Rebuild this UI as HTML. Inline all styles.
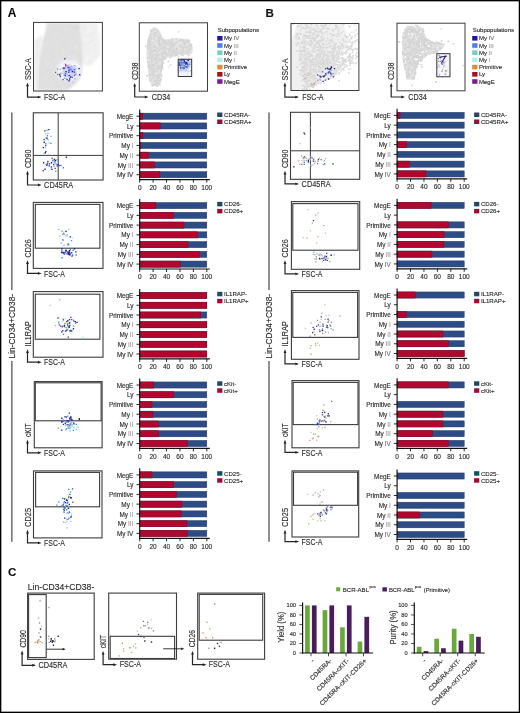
<!DOCTYPE html><html><head><meta charset="utf-8"><style>html,body{margin:0;padding:0;background:#fff}svg{display:block;will-change:transform;filter:blur(0.35px)}text{font-family:"Liberation Sans",sans-serif;stroke:#333;stroke-width:0.14px}</style></head><body>
<svg width="520" height="713" viewBox="0 0 520 713">
<rect x="0.00" y="0.00" width="520.00" height="713.00" fill="#fff"/>
<defs><filter id="bl3" x="-20%" y="-20%" width="140%" height="140%"><feGaussianBlur stdDeviation="0.3"/></filter><filter id="bl4" x="-20%" y="-20%" width="140%" height="140%"><feGaussianBlur stdDeviation="0.4"/></filter><filter id="bl5" x="-20%" y="-20%" width="140%" height="140%"><feGaussianBlur stdDeviation="0.5"/></filter><filter id="bl6" x="-20%" y="-20%" width="140%" height="140%"><feGaussianBlur stdDeviation="0.6"/></filter><filter id="bl7" x="-20%" y="-20%" width="140%" height="140%"><feGaussianBlur stdDeviation="0.7"/></filter><filter id="bl8" x="-20%" y="-20%" width="140%" height="140%"><feGaussianBlur stdDeviation="0.8"/></filter><filter id="bl9" x="-20%" y="-20%" width="140%" height="140%"><feGaussianBlur stdDeviation="0.9"/></filter><filter id="bl10" x="-20%" y="-20%" width="140%" height="140%"><feGaussianBlur stdDeviation="1.0"/></filter><filter id="bl11" x="-20%" y="-20%" width="140%" height="140%"><feGaussianBlur stdDeviation="1.1"/></filter><filter id="bl12" x="-20%" y="-20%" width="140%" height="140%"><feGaussianBlur stdDeviation="1.2"/></filter><filter id="bl13" x="-20%" y="-20%" width="140%" height="140%"><feGaussianBlur stdDeviation="1.3"/></filter><filter id="bl14" x="-20%" y="-20%" width="140%" height="140%"><feGaussianBlur stdDeviation="1.4"/></filter><filter id="bl15" x="-20%" y="-20%" width="140%" height="140%"><feGaussianBlur stdDeviation="1.5"/></filter><filter id="bl16" x="-20%" y="-20%" width="140%" height="140%"><feGaussianBlur stdDeviation="1.6"/></filter><filter id="bl17" x="-20%" y="-20%" width="140%" height="140%"><feGaussianBlur stdDeviation="1.7"/></filter><filter id="bl18" x="-20%" y="-20%" width="140%" height="140%"><feGaussianBlur stdDeviation="1.8"/></filter><filter id="bl19" x="-20%" y="-20%" width="140%" height="140%"><feGaussianBlur stdDeviation="1.9"/></filter><filter id="bl20" x="-20%" y="-20%" width="140%" height="140%"><feGaussianBlur stdDeviation="2.0"/></filter><filter id="bl21" x="-20%" y="-20%" width="140%" height="140%"><feGaussianBlur stdDeviation="2.1"/></filter><filter id="bl22" x="-20%" y="-20%" width="140%" height="140%"><feGaussianBlur stdDeviation="2.2"/></filter><filter id="bl23" x="-20%" y="-20%" width="140%" height="140%"><feGaussianBlur stdDeviation="2.3"/></filter><filter id="bl24" x="-20%" y="-20%" width="140%" height="140%"><feGaussianBlur stdDeviation="2.4"/></filter><filter id="bl25" x="-20%" y="-20%" width="140%" height="140%"><feGaussianBlur stdDeviation="2.5"/></filter><filter id="bl26" x="-20%" y="-20%" width="140%" height="140%"><feGaussianBlur stdDeviation="2.6"/></filter><filter id="bl27" x="-20%" y="-20%" width="140%" height="140%"><feGaussianBlur stdDeviation="2.7"/></filter><filter id="bl28" x="-20%" y="-20%" width="140%" height="140%"><feGaussianBlur stdDeviation="2.8"/></filter><filter id="bl29" x="-20%" y="-20%" width="140%" height="140%"><feGaussianBlur stdDeviation="2.9"/></filter><filter id="bl30" x="-20%" y="-20%" width="140%" height="140%"><feGaussianBlur stdDeviation="3.0"/></filter></defs>
<text x="7.70" y="17.00" font-size="12.0" fill="#111" font-weight="bold">A</text>
<text x="265.60" y="16.80" font-size="11.6" fill="#111" font-weight="bold">B</text>
<text x="7.90" y="576.00" font-size="11.6" fill="#111" font-weight="bold">C</text>
<g filter="url(#bl8)">
<polygon points="79.8,23.0 97.0,23.0 99.9,34.9 99.9,55.6 90.2,66.7 83.2,62.5" fill="#f0f0f0"/>
<path d="M80.5 27.4h1.3v1.3h-1.3zM91.3 52.3h1.3v1.3h-1.3zM95.3 55.1h1.3v1.3h-1.3zM86.0 32.6h1.3v1.3h-1.3zM86.5 60.2h1.3v1.3h-1.3zM89.8 29.7h1.3v1.3h-1.3zM97.2 58.4h1.3v1.3h-1.3zM87.5 56.2h1.3v1.3h-1.3zM90.3 29.7h1.3v1.3h-1.3zM86.6 62.3h1.3v1.3h-1.3zM95.5 59.4h1.3v1.3h-1.3zM82.7 48.3h1.3v1.3h-1.3zM96.4 24.3h1.3v1.3h-1.3zM87.3 23.5h1.3v1.3h-1.3zM84.4 32.4h1.3v1.3h-1.3zM86.9 54.5h1.3v1.3h-1.3zM89.6 34.0h1.3v1.3h-1.3zM84.7 51.2h1.3v1.3h-1.3zM87.9 65.2h1.3v1.3h-1.3zM96.5 30.9h1.3v1.3h-1.3zM85.1 60.9h1.3v1.3h-1.3zM88.6 30.3h1.3v1.3h-1.3zM94.7 40.7h1.3v1.3h-1.3zM95.1 34.4h1.3v1.3h-1.3zM96.9 38.6h1.3v1.3h-1.3zM88.5 38.0h1.3v1.3h-1.3zM82.8 52.3h1.3v1.3h-1.3zM91.8 44.8h1.3v1.3h-1.3zM83.1 56.1h1.3v1.3h-1.3zM86.6 32.1h1.3v1.3h-1.3zM88.9 28.6h1.3v1.3h-1.3zM82.2 37.4h1.3v1.3h-1.3zM86.6 57.8h1.3v1.3h-1.3zM86.6 60.3h1.3v1.3h-1.3zM91.9 31.5h1.3v1.3h-1.3zM81.6 30.5h1.3v1.3h-1.3zM80.7 29.8h1.3v1.3h-1.3zM86.5 40.7h1.3v1.3h-1.3zM90.9 60.8h1.3v1.3h-1.3zM97.6 33.4h1.3v1.3h-1.3zM84.4 38.8h1.3v1.3h-1.3zM87.0 39.7h1.3v1.3h-1.3zM88.9 36.1h1.3v1.3h-1.3zM93.0 25.7h1.3v1.3h-1.3zM86.5 31.8h1.3v1.3h-1.3zM88.2 45.3h1.3v1.3h-1.3zM85.7 59.0h1.3v1.3h-1.3zM91.7 58.5h1.3v1.3h-1.3zM84.9 37.1h1.3v1.3h-1.3zM86.9 46.3h1.3v1.3h-1.3z" fill="#fbfbfb"/>
<path d="M95.0 43.3h1.3v1.3h-1.3zM95.1 44.9h1.3v1.3h-1.3zM97.1 24.5h1.3v1.3h-1.3zM84.1 56.6h1.3v1.3h-1.3zM96.2 56.3h1.3v1.3h-1.3zM83.3 45.8h1.3v1.3h-1.3zM81.9 44.9h1.3v1.3h-1.3zM84.5 29.8h1.3v1.3h-1.3zM84.5 48.6h1.3v1.3h-1.3zM94.2 33.2h1.3v1.3h-1.3zM86.6 63.3h1.3v1.3h-1.3zM95.8 49.7h1.3v1.3h-1.3zM88.5 33.7h1.3v1.3h-1.3zM82.5 43.6h1.3v1.3h-1.3zM85.5 63.3h1.3v1.3h-1.3zM88.7 48.8h1.3v1.3h-1.3zM84.6 32.5h1.3v1.3h-1.3zM83.8 24.2h1.3v1.3h-1.3zM81.1 37.1h1.3v1.3h-1.3zM97.8 41.4h1.3v1.3h-1.3zM82.4 26.3h1.3v1.3h-1.3zM86.1 46.9h1.3v1.3h-1.3zM84.5 36.2h1.3v1.3h-1.3zM87.2 52.8h1.3v1.3h-1.3zM88.9 35.0h1.3v1.3h-1.3zM89.2 35.2h1.3v1.3h-1.3zM81.1 33.6h1.3v1.3h-1.3zM91.1 33.0h1.3v1.3h-1.3zM83.3 27.0h1.3v1.3h-1.3zM88.0 43.2h1.3v1.3h-1.3zM90.4 32.1h1.3v1.3h-1.3zM84.3 61.9h1.3v1.3h-1.3zM91.3 38.0h1.3v1.3h-1.3zM90.0 41.1h1.3v1.3h-1.3zM82.8 28.6h1.3v1.3h-1.3zM86.9 41.2h1.3v1.3h-1.3zM87.1 36.2h1.3v1.3h-1.3zM90.5 60.1h1.3v1.3h-1.3zM84.9 35.4h1.3v1.3h-1.3zM85.5 51.4h1.3v1.3h-1.3z" fill="#e2e2e2"/>
</g>
<g filter="url(#bl8)">
<polygon points="34.0,40.0 42.4,35.0 39.6,55.6 38.0,70.0 37.5,90.4 34.0,90.4" fill="#eeeeee"/>
<path d="M37.9 55.1h1.3v1.3h-1.3zM37.0 54.8h1.3v1.3h-1.3zM38.8 40.1h1.3v1.3h-1.3zM34.5 41.7h1.3v1.3h-1.3zM37.7 40.4h1.3v1.3h-1.3zM36.2 44.3h1.3v1.3h-1.3zM35.0 73.0h1.3v1.3h-1.3zM37.5 82.3h1.3v1.3h-1.3zM36.9 64.0h1.3v1.3h-1.3zM37.3 70.4h1.3v1.3h-1.3z" fill="#f8f8f8"/>
<path d="M37.9 55.1h1.3v1.3h-1.3zM37.0 54.8h1.3v1.3h-1.3zM38.8 40.1h1.3v1.3h-1.3zM34.5 41.7h1.3v1.3h-1.3zM37.7 40.4h1.3v1.3h-1.3zM36.2 44.3h1.3v1.3h-1.3zM35.0 73.0h1.3v1.3h-1.3zM37.5 82.3h1.3v1.3h-1.3zM36.9 64.0h1.3v1.3h-1.3zM37.3 70.4h1.3v1.3h-1.3z" fill="#e4e4e4"/>
</g>
<g filter="url(#bl8)">
<polygon points="46.5,22.8 79.8,22.8 81.2,34.9 82.6,48.7 83.2,62.5 81.2,76.4 76.3,83.3 69.4,88.9 67.0,90.4 37.5,90.4 37.5,83.3 38.2,69.5 39.6,55.6 42.4,41.8 45.9,29.3" fill="#e0e0e0"/>
<path d="M57.4 68.5h1.3v1.3h-1.3zM46.7 35.8h1.3v1.3h-1.3zM74.7 54.9h1.3v1.3h-1.3zM62.8 86.3h1.3v1.3h-1.3zM77.5 46.9h1.3v1.3h-1.3zM81.1 59.7h1.3v1.3h-1.3zM53.0 70.5h1.3v1.3h-1.3zM61.2 48.8h1.3v1.3h-1.3zM69.7 28.4h1.3v1.3h-1.3zM69.3 59.6h1.3v1.3h-1.3zM47.0 41.9h1.3v1.3h-1.3zM44.8 44.5h1.3v1.3h-1.3zM61.4 73.6h1.3v1.3h-1.3zM69.6 55.5h1.3v1.3h-1.3zM70.7 43.7h1.3v1.3h-1.3zM38.2 89.1h1.3v1.3h-1.3zM43.3 60.9h1.3v1.3h-1.3zM38.1 86.4h1.3v1.3h-1.3zM76.4 45.6h1.3v1.3h-1.3zM76.5 27.2h1.3v1.3h-1.3zM42.0 53.5h1.3v1.3h-1.3zM71.2 74.3h1.3v1.3h-1.3zM58.2 59.1h1.3v1.3h-1.3zM58.9 87.8h1.3v1.3h-1.3zM76.6 63.8h1.3v1.3h-1.3zM75.2 61.6h1.3v1.3h-1.3zM76.1 49.7h1.3v1.3h-1.3zM55.1 37.8h1.3v1.3h-1.3zM53.7 85.5h1.3v1.3h-1.3zM65.7 26.6h1.3v1.3h-1.3zM74.9 47.6h1.3v1.3h-1.3zM73.7 71.8h1.3v1.3h-1.3zM44.9 78.7h1.3v1.3h-1.3zM62.8 76.0h1.3v1.3h-1.3zM59.1 62.6h1.3v1.3h-1.3zM68.5 57.7h1.3v1.3h-1.3zM52.2 71.8h1.3v1.3h-1.3zM60.5 23.6h1.3v1.3h-1.3zM55.3 60.0h1.3v1.3h-1.3zM47.1 62.8h1.3v1.3h-1.3zM68.6 56.4h1.3v1.3h-1.3zM72.4 78.8h1.3v1.3h-1.3zM65.5 29.4h1.3v1.3h-1.3zM45.0 63.8h1.3v1.3h-1.3zM81.4 66.9h1.3v1.3h-1.3zM52.3 44.5h1.3v1.3h-1.3zM55.4 40.7h1.3v1.3h-1.3zM51.0 81.9h1.3v1.3h-1.3zM62.1 53.5h1.3v1.3h-1.3zM80.4 60.1h1.3v1.3h-1.3zM77.2 62.4h1.3v1.3h-1.3zM55.9 50.4h1.3v1.3h-1.3zM44.3 76.8h1.3v1.3h-1.3zM55.2 32.8h1.3v1.3h-1.3zM77.3 22.8h1.3v1.3h-1.3zM38.9 78.0h1.3v1.3h-1.3zM55.7 73.4h1.3v1.3h-1.3zM61.0 64.3h1.3v1.3h-1.3zM49.1 88.1h1.3v1.3h-1.3zM59.5 84.6h1.3v1.3h-1.3zM51.1 89.3h1.3v1.3h-1.3zM52.4 82.6h1.3v1.3h-1.3zM71.0 87.1h1.3v1.3h-1.3zM65.8 60.3h1.3v1.3h-1.3zM48.4 62.9h1.3v1.3h-1.3zM58.7 81.8h1.3v1.3h-1.3zM62.2 56.0h1.3v1.3h-1.3zM66.8 47.2h1.3v1.3h-1.3zM63.9 68.4h1.3v1.3h-1.3zM58.0 65.4h1.3v1.3h-1.3zM63.9 77.9h1.3v1.3h-1.3zM74.5 46.3h1.3v1.3h-1.3zM46.5 64.0h1.3v1.3h-1.3zM41.9 81.5h1.3v1.3h-1.3zM55.4 55.7h1.3v1.3h-1.3zM74.5 23.2h1.3v1.3h-1.3zM70.7 48.1h1.3v1.3h-1.3zM73.3 74.6h1.3v1.3h-1.3zM44.2 60.4h1.3v1.3h-1.3zM50.8 66.3h1.3v1.3h-1.3zM60.0 60.4h1.3v1.3h-1.3zM73.1 26.3h1.3v1.3h-1.3zM70.4 78.4h1.3v1.3h-1.3zM72.6 56.7h1.3v1.3h-1.3zM57.9 83.4h1.3v1.3h-1.3zM62.5 51.9h1.3v1.3h-1.3zM80.9 66.1h1.3v1.3h-1.3zM77.8 64.9h1.3v1.3h-1.3zM52.6 38.5h1.3v1.3h-1.3zM65.1 31.9h1.3v1.3h-1.3z" fill="#eaeaea"/>
<path d="M58.4 85.7h1.3v1.3h-1.3zM57.1 63.7h1.3v1.3h-1.3zM53.9 30.5h1.3v1.3h-1.3zM71.2 71.5h1.3v1.3h-1.3zM37.8 85.2h1.3v1.3h-1.3zM59.1 85.2h1.3v1.3h-1.3zM76.8 74.5h1.3v1.3h-1.3zM44.5 37.7h1.3v1.3h-1.3zM39.9 73.1h1.3v1.3h-1.3zM52.8 38.5h1.3v1.3h-1.3zM55.2 74.4h1.3v1.3h-1.3zM81.0 55.0h1.3v1.3h-1.3zM51.1 55.0h1.3v1.3h-1.3zM78.3 61.7h1.3v1.3h-1.3zM67.1 83.8h1.3v1.3h-1.3zM79.0 25.6h1.3v1.3h-1.3zM60.9 54.5h1.3v1.3h-1.3zM65.7 56.6h1.3v1.3h-1.3zM45.4 40.0h1.3v1.3h-1.3zM60.9 44.8h1.3v1.3h-1.3zM76.1 79.6h1.3v1.3h-1.3zM52.8 89.3h1.3v1.3h-1.3zM66.1 45.3h1.3v1.3h-1.3zM65.5 65.2h1.3v1.3h-1.3zM61.5 32.1h1.3v1.3h-1.3zM49.6 38.3h1.3v1.3h-1.3zM63.3 68.6h1.3v1.3h-1.3zM46.7 33.2h1.3v1.3h-1.3zM53.2 54.9h1.3v1.3h-1.3zM52.7 57.2h1.3v1.3h-1.3zM67.8 60.9h1.3v1.3h-1.3zM56.9 83.1h1.3v1.3h-1.3zM55.7 72.2h1.3v1.3h-1.3zM71.3 63.1h1.3v1.3h-1.3zM79.7 59.6h1.3v1.3h-1.3zM53.3 48.3h1.3v1.3h-1.3zM59.3 86.0h1.3v1.3h-1.3zM73.0 25.5h1.3v1.3h-1.3zM69.9 58.8h1.3v1.3h-1.3zM68.9 78.7h1.3v1.3h-1.3zM72.1 59.9h1.3v1.3h-1.3zM74.9 27.2h1.3v1.3h-1.3zM69.0 59.4h1.3v1.3h-1.3zM49.9 50.2h1.3v1.3h-1.3zM67.1 57.4h1.3v1.3h-1.3zM42.5 53.5h1.3v1.3h-1.3zM42.8 63.1h1.3v1.3h-1.3zM67.1 86.5h1.3v1.3h-1.3zM81.4 53.2h1.3v1.3h-1.3zM76.3 54.1h1.3v1.3h-1.3zM56.6 71.7h1.3v1.3h-1.3zM70.5 60.1h1.3v1.3h-1.3zM45.0 79.7h1.3v1.3h-1.3zM56.9 37.7h1.3v1.3h-1.3zM71.1 31.0h1.3v1.3h-1.3zM72.8 50.7h1.3v1.3h-1.3zM47.4 69.8h1.3v1.3h-1.3zM71.9 31.1h1.3v1.3h-1.3zM76.8 28.0h1.3v1.3h-1.3zM61.5 71.3h1.3v1.3h-1.3zM60.3 78.9h1.3v1.3h-1.3zM58.1 79.5h1.3v1.3h-1.3zM68.9 84.3h1.3v1.3h-1.3zM58.4 67.9h1.3v1.3h-1.3zM59.0 86.3h1.3v1.3h-1.3zM51.2 52.7h1.3v1.3h-1.3zM50.8 89.6h1.3v1.3h-1.3zM53.5 23.3h1.3v1.3h-1.3zM46.3 50.0h1.3v1.3h-1.3zM81.2 57.0h1.3v1.3h-1.3z" fill="#d6d6d6"/>
</g>
<rect x="33.50" y="22.40" width="68.90" height="68.60" fill="none" stroke="#3c3c3c" stroke-width="1.0"/>
<g filter="url(#bl15)">
<polygon points="57.0,66.0 64.0,60.0 76.0,60.0 81.0,67.0 79.0,77.0 69.0,81.0 58.0,78.0" fill="#f2f2fa"/>
</g>
<g filter="url(#bl6)">
<polygon points="62.0,68.0 68.0,64.0 76.0,66.0 77.0,74.0 70.0,78.0 63.0,76.0" fill="#d0d4f4"/>
</g>
<path d="M69.5 74.8h1.35v1.35h-1.35zM70.8 71.4h1.35v1.35h-1.35zM71.2 70.6h1.35v1.35h-1.35zM75.0 68.1h1.35v1.35h-1.35zM70.9 70.9h1.35v1.35h-1.35zM70.8 68.0h1.35v1.35h-1.35zM71.4 66.9h1.35v1.35h-1.35zM59.7 68.8h1.35v1.35h-1.35zM66.5 73.7h1.35v1.35h-1.35zM72.5 81.7h1.35v1.35h-1.35zM73.9 65.1h1.35v1.35h-1.35zM70.7 71.4h1.35v1.35h-1.35zM65.1 77.4h1.35v1.35h-1.35zM70.6 70.0h1.35v1.35h-1.35z" fill="#b0b8f0"/>
<path d="M67.5 66.8h1.35v1.35h-1.35zM68.4 80.1h1.35v1.35h-1.35zM69.0 78.3h1.35v1.35h-1.35zM69.8 76.5h1.35v1.35h-1.35zM65.4 71.1h1.35v1.35h-1.35zM66.4 79.0h1.35v1.35h-1.35zM73.7 71.4h1.35v1.35h-1.35z" fill="#2020a0"/>
<path d="M75.1 74.1h1.35v1.35h-1.35zM66.2 78.0h1.35v1.35h-1.35zM63.8 77.4h1.35v1.35h-1.35zM74.3 78.2h1.35v1.35h-1.35zM63.8 74.6h1.35v1.35h-1.35zM70.4 66.0h1.35v1.35h-1.35zM69.0 67.3h1.35v1.35h-1.35zM68.6 70.9h1.35v1.35h-1.35zM64.8 72.0h1.35v1.35h-1.35z" fill="#a0a8f0"/>
<path d="M71.8 70.8h1.35v1.35h-1.35zM78.4 68.0h1.35v1.35h-1.35zM62.7 67.5h1.35v1.35h-1.35z" fill="#1a1a80"/>
<path d="M68.0 71.6h1.35v1.35h-1.35zM59.7 75.8h1.35v1.35h-1.35zM64.7 73.2h1.35v1.35h-1.35zM63.9 67.6h1.35v1.35h-1.35zM62.4 79.0h1.35v1.35h-1.35zM73.6 69.0h1.35v1.35h-1.35z" fill="#4050d0"/>
<path d="M79.0 74.1h1.35v1.35h-1.35zM64.6 75.0h1.35v1.35h-1.35zM68.3 69.6h1.35v1.35h-1.35zM71.5 76.7h1.35v1.35h-1.35zM68.5 74.9h1.35v1.35h-1.35zM58.8 73.7h1.35v1.35h-1.35z" fill="#3030b0"/>
<path d="M69.8 68.8h1.35v1.35h-1.35zM75.3 73.7h1.35v1.35h-1.35zM71.0 69.1h1.35v1.35h-1.35z" fill="#8090e8"/>
<path d="M68.6 66.9h1.35v1.35h-1.35zM73.8 74.8h1.35v1.35h-1.35zM70.2 75.9h1.35v1.35h-1.35zM69.4 68.5h1.35v1.35h-1.35z" fill="#6070e0"/>
<path d="M64.8 63.4h1.2v1.2h-1.2zM66.2 65.2h1.2v1.2h-1.2zM66.6 65.3h1.2v1.2h-1.2z" fill="#c080b0"/>
<path d="M65.1 64.1h1.2v1.2h-1.2zM65.0 65.2h1.2v1.2h-1.2z" fill="#a04080"/>
<path d="M59.6 74.9h1.2v1.2h-1.2z" fill="#808080"/>
<path d="M55.0 71.7h1.2v1.2h-1.2zM57.1 68.4h1.2v1.2h-1.2z" fill="#606060"/>
<path d="M60.2 73.3h1.2v1.2h-1.2zM60.5 72.6h1.2v1.2h-1.2z" fill="#90a090"/>
<path d="M57.1 74.1h1.2v1.2h-1.2zM59.5 74.9h1.2v1.2h-1.2z" fill="#708070"/>
<path d="M64.1 58.1h1.4v1.4h-1.4z" fill="#505060"/>
<path d="M27.50 85.60 V97.10 H38.50" fill="none" stroke="#262626" stroke-width="1.2"/>
<path d="M27.50 82.60 L26.05 86.30 L28.95 86.30 Z" fill="#262626"/>
<path d="M41.50 97.10 L37.80 95.65 L37.80 98.55 Z" fill="#262626"/>
<text x="44.00" y="99.60" font-size="9.9" fill="#2a2a2a" textLength="21.2" lengthAdjust="spacingAndGlyphs">FSC-A</text>
<text x="30.80" y="80.10" font-size="9.9" fill="#2a2a2a" textLength="21.9" lengthAdjust="spacingAndGlyphs" transform="rotate(-90 30.80 80.10)">SSC-A</text>
<g filter="url(#bl6)">
<polygon points="153.2,26.9 157.4,28.3 161.5,36.6 165.7,39.4 174.0,38.0 183.7,38.7 190.0,39.4 191.3,45.0 191.3,51.9 187.9,54.6 178.2,54.6 169.9,56.7 165.7,57.4 163.0,61.5 161.5,72.6 160.2,85.0 151.2,85.0 149.0,79.6 147.7,68.5 146.3,54.6 147.0,40.8 150.5,31.0" fill="#e4e4e4"/>
<path d="M161.9 50.3h1.6v1.6h-1.6zM160.7 65.2h1.6v1.6h-1.6zM149.9 43.4h1.6v1.6h-1.6zM153.5 29.2h1.6v1.6h-1.6zM156.1 56.2h1.6v1.6h-1.6zM153.2 46.6h1.6v1.6h-1.6zM165.9 42.0h1.6v1.6h-1.6zM149.1 66.2h1.6v1.6h-1.6zM157.6 54.6h1.6v1.6h-1.6zM160.8 76.3h1.6v1.6h-1.6zM182.5 39.2h1.6v1.6h-1.6zM174.3 48.2h1.6v1.6h-1.6zM146.1 75.1h1.6v1.6h-1.6zM170.7 42.1h1.6v1.6h-1.6zM156.0 75.5h1.6v1.6h-1.6zM157.6 65.8h1.6v1.6h-1.6zM149.8 38.6h1.6v1.6h-1.6zM147.9 38.7h1.6v1.6h-1.6zM154.0 33.8h1.6v1.6h-1.6zM190.4 43.8h1.6v1.6h-1.6zM172.3 52.0h1.6v1.6h-1.6zM171.8 49.8h1.6v1.6h-1.6zM162.1 55.9h1.6v1.6h-1.6zM167.1 40.0h1.6v1.6h-1.6zM153.1 33.9h1.6v1.6h-1.6zM151.6 64.8h1.6v1.6h-1.6zM165.2 41.8h1.6v1.6h-1.6zM155.8 30.4h1.6v1.6h-1.6zM164.2 43.0h1.6v1.6h-1.6zM154.2 67.6h1.6v1.6h-1.6zM150.9 65.1h1.6v1.6h-1.6zM188.2 40.4h1.6v1.6h-1.6zM152.8 44.9h1.6v1.6h-1.6zM149.5 51.9h1.6v1.6h-1.6zM150.2 71.3h1.6v1.6h-1.6zM166.4 53.4h1.6v1.6h-1.6zM155.3 82.7h1.6v1.6h-1.6zM162.4 46.2h1.6v1.6h-1.6zM157.1 83.6h1.6v1.6h-1.6zM161.3 62.4h1.6v1.6h-1.6zM159.8 62.4h1.6v1.6h-1.6zM151.3 52.3h1.6v1.6h-1.6zM183.7 50.3h1.6v1.6h-1.6zM174.9 54.9h1.6v1.6h-1.6zM157.3 65.1h1.6v1.6h-1.6zM187.8 54.6h1.6v1.6h-1.6zM158.8 64.0h1.6v1.6h-1.6zM156.5 80.1h1.6v1.6h-1.6zM157.2 73.2h1.6v1.6h-1.6zM148.8 57.4h1.6v1.6h-1.6zM166.9 39.5h1.6v1.6h-1.6zM160.5 57.8h1.6v1.6h-1.6zM170.5 43.6h1.6v1.6h-1.6zM149.5 43.4h1.6v1.6h-1.6zM161.1 38.8h1.6v1.6h-1.6zM167.1 42.0h1.6v1.6h-1.6zM190.6 44.9h1.6v1.6h-1.6zM156.0 51.9h1.6v1.6h-1.6zM149.4 68.9h1.6v1.6h-1.6zM159.4 57.8h1.6v1.6h-1.6zM181.2 54.4h1.6v1.6h-1.6zM161.2 55.1h1.6v1.6h-1.6zM173.1 51.3h1.6v1.6h-1.6zM153.3 77.3h1.6v1.6h-1.6zM156.9 69.2h1.6v1.6h-1.6zM181.3 39.6h1.6v1.6h-1.6zM157.6 64.1h1.6v1.6h-1.6zM154.8 56.4h1.6v1.6h-1.6zM156.6 30.3h1.6v1.6h-1.6zM150.5 64.6h1.6v1.6h-1.6zM155.0 81.9h1.6v1.6h-1.6zM158.5 40.5h1.6v1.6h-1.6zM160.6 35.6h1.6v1.6h-1.6zM161.1 57.0h1.6v1.6h-1.6zM151.6 74.4h1.6v1.6h-1.6zM149.3 67.8h1.6v1.6h-1.6zM162.9 40.3h1.6v1.6h-1.6zM175.8 43.5h1.6v1.6h-1.6zM153.0 71.7h1.6v1.6h-1.6zM156.2 75.4h1.6v1.6h-1.6zM149.1 55.2h1.6v1.6h-1.6zM175.3 54.3h1.6v1.6h-1.6zM181.0 53.3h1.6v1.6h-1.6zM152.6 66.8h1.6v1.6h-1.6zM163.1 51.7h1.6v1.6h-1.6zM153.3 33.2h1.6v1.6h-1.6zM158.1 74.1h1.6v1.6h-1.6zM161.6 66.5h1.6v1.6h-1.6zM168.2 53.5h1.6v1.6h-1.6zM151.6 62.6h1.6v1.6h-1.6zM153.8 66.8h1.6v1.6h-1.6zM189.5 48.0h1.6v1.6h-1.6zM151.4 85.0h1.6v1.6h-1.6zM160.6 36.5h1.6v1.6h-1.6zM160.1 46.4h1.6v1.6h-1.6zM149.5 57.2h1.6v1.6h-1.6zM188.0 40.2h1.6v1.6h-1.6zM178.8 40.0h1.6v1.6h-1.6zM157.1 80.7h1.6v1.6h-1.6zM156.6 82.3h1.6v1.6h-1.6zM153.1 53.9h1.6v1.6h-1.6zM149.3 34.3h1.6v1.6h-1.6zM148.5 40.6h1.6v1.6h-1.6zM180.9 44.8h1.6v1.6h-1.6zM150.8 65.7h1.6v1.6h-1.6zM167.5 60.6h1.6v1.6h-1.6zM150.9 77.0h1.6v1.6h-1.6zM155.0 82.3h1.6v1.6h-1.6zM158.2 80.8h1.6v1.6h-1.6zM153.5 49.9h1.6v1.6h-1.6zM189.8 52.6h1.6v1.6h-1.6zM177.1 47.9h1.6v1.6h-1.6zM173.8 49.5h1.6v1.6h-1.6zM158.9 77.4h1.6v1.6h-1.6zM163.6 52.4h1.6v1.6h-1.6zM164.3 39.8h1.6v1.6h-1.6zM171.7 47.5h1.6v1.6h-1.6zM157.0 69.1h1.6v1.6h-1.6zM148.5 73.9h1.6v1.6h-1.6zM152.5 38.0h1.6v1.6h-1.6zM184.7 47.9h1.6v1.6h-1.6zM151.0 46.3h1.6v1.6h-1.6zM160.1 65.6h1.6v1.6h-1.6zM180.3 51.3h1.6v1.6h-1.6zM153.6 74.2h1.6v1.6h-1.6zM176.0 47.9h1.6v1.6h-1.6zM150.5 32.6h1.6v1.6h-1.6zM158.0 61.2h1.6v1.6h-1.6zM184.5 40.6h1.6v1.6h-1.6zM153.8 64.9h1.6v1.6h-1.6zM160.1 78.7h1.6v1.6h-1.6zM159.8 36.9h1.6v1.6h-1.6zM152.9 62.5h1.6v1.6h-1.6zM175.9 49.0h1.6v1.6h-1.6zM168.9 52.4h1.6v1.6h-1.6zM162.6 58.9h1.6v1.6h-1.6zM159.0 34.2h1.6v1.6h-1.6zM165.5 54.7h1.6v1.6h-1.6zM162.4 56.1h1.6v1.6h-1.6zM155.3 75.1h1.6v1.6h-1.6zM161.7 57.5h1.6v1.6h-1.6zM162.3 46.5h1.6v1.6h-1.6zM170.0 56.4h1.6v1.6h-1.6zM164.6 42.6h1.6v1.6h-1.6zM162.8 39.7h1.6v1.6h-1.6zM169.8 53.7h1.6v1.6h-1.6zM170.4 47.0h1.6v1.6h-1.6zM157.5 39.8h1.6v1.6h-1.6zM161.1 52.8h1.6v1.6h-1.6zM168.0 49.4h1.6v1.6h-1.6zM173.8 54.3h1.6v1.6h-1.6zM152.8 29.3h1.6v1.6h-1.6zM146.6 56.8h1.6v1.6h-1.6zM149.8 48.1h1.6v1.6h-1.6zM157.5 36.1h1.6v1.6h-1.6zM150.9 40.9h1.6v1.6h-1.6zM162.1 47.1h1.6v1.6h-1.6zM183.7 61.9h1.6v1.6h-1.6zM177.6 48.2h1.6v1.6h-1.6zM155.7 70.1h1.6v1.6h-1.6zM176.2 52.3h1.6v1.6h-1.6zM152.1 76.3h1.6v1.6h-1.6zM186.0 49.9h1.6v1.6h-1.6zM160.9 68.3h1.6v1.6h-1.6zM148.7 36.7h1.6v1.6h-1.6zM160.3 73.4h1.6v1.6h-1.6zM183.9 53.4h1.6v1.6h-1.6zM171.2 51.5h1.6v1.6h-1.6zM158.7 39.4h1.6v1.6h-1.6zM161.5 65.3h1.6v1.6h-1.6zM153.4 58.3h1.6v1.6h-1.6zM170.4 40.3h1.6v1.6h-1.6zM157.2 79.8h1.6v1.6h-1.6zM186.7 45.8h1.6v1.6h-1.6zM152.3 84.1h1.6v1.6h-1.6zM184.0 42.1h1.6v1.6h-1.6zM158.4 68.1h1.6v1.6h-1.6zM160.8 74.4h1.6v1.6h-1.6zM149.7 74.8h1.6v1.6h-1.6zM162.0 61.2h1.6v1.6h-1.6zM182.3 40.8h1.6v1.6h-1.6zM154.8 84.9h1.6v1.6h-1.6zM156.2 47.2h1.6v1.6h-1.6zM153.1 52.5h1.6v1.6h-1.6zM163.2 50.7h1.6v1.6h-1.6zM179.9 39.5h1.6v1.6h-1.6zM179.6 46.2h1.6v1.6h-1.6zM159.5 44.9h1.6v1.6h-1.6zM178.9 40.1h1.6v1.6h-1.6zM191.1 46.9h1.6v1.6h-1.6zM187.7 48.1h1.6v1.6h-1.6zM150.8 59.5h1.6v1.6h-1.6zM149.5 49.1h1.6v1.6h-1.6zM158.2 41.3h1.6v1.6h-1.6zM183.9 43.1h1.6v1.6h-1.6zM173.8 38.6h1.6v1.6h-1.6zM170.9 54.9h1.6v1.6h-1.6zM183.1 46.9h1.6v1.6h-1.6zM156.1 83.8h1.6v1.6h-1.6zM154.0 82.4h1.6v1.6h-1.6zM150.9 78.5h1.6v1.6h-1.6zM147.7 61.3h1.6v1.6h-1.6zM154.6 63.0h1.6v1.6h-1.6zM175.6 39.2h1.6v1.6h-1.6zM169.6 49.5h1.6v1.6h-1.6zM161.0 63.7h1.6v1.6h-1.6zM152.2 63.2h1.6v1.6h-1.6zM162.8 46.8h1.6v1.6h-1.6zM155.6 58.7h1.6v1.6h-1.6zM152.3 70.7h1.6v1.6h-1.6zM151.0 54.7h1.6v1.6h-1.6zM161.8 62.2h1.6v1.6h-1.6zM158.5 49.6h1.6v1.6h-1.6zM159.6 44.3h1.6v1.6h-1.6zM168.0 48.5h1.6v1.6h-1.6zM153.8 66.7h1.6v1.6h-1.6zM158.7 47.2h1.6v1.6h-1.6zM155.9 62.2h1.6v1.6h-1.6zM184.8 47.3h1.6v1.6h-1.6zM156.6 67.4h1.6v1.6h-1.6zM159.4 33.5h1.6v1.6h-1.6zM186.9 52.0h1.6v1.6h-1.6zM150.3 74.2h1.6v1.6h-1.6zM160.3 74.0h1.6v1.6h-1.6zM156.4 56.1h1.6v1.6h-1.6zM158.8 53.4h1.6v1.6h-1.6zM170.8 42.3h1.6v1.6h-1.6zM182.4 39.1h1.6v1.6h-1.6zM152.5 76.8h1.6v1.6h-1.6zM148.3 44.3h1.6v1.6h-1.6zM172.8 44.7h1.6v1.6h-1.6zM164.5 55.3h1.6v1.6h-1.6zM154.0 37.7h1.6v1.6h-1.6zM171.5 51.6h1.6v1.6h-1.6zM184.8 47.1h1.6v1.6h-1.6zM173.7 42.4h1.6v1.6h-1.6zM156.0 38.7h1.6v1.6h-1.6zM151.2 32.5h1.6v1.6h-1.6zM150.2 30.9h1.6v1.6h-1.6zM156.7 36.9h1.6v1.6h-1.6zM153.6 50.6h1.6v1.6h-1.6zM158.4 47.7h1.6v1.6h-1.6zM186.0 41.6h1.6v1.6h-1.6zM156.5 62.9h1.6v1.6h-1.6zM151.4 73.1h1.6v1.6h-1.6zM186.9 47.0h1.6v1.6h-1.6zM157.3 70.8h1.6v1.6h-1.6z" fill="#d0d0d0"/>
<path d="M184.7 51.3h1.6v1.6h-1.6zM162.8 61.6h1.6v1.6h-1.6zM150.6 71.8h1.6v1.6h-1.6zM151.7 58.1h1.6v1.6h-1.6zM155.1 37.6h1.6v1.6h-1.6zM169.3 39.5h1.6v1.6h-1.6zM150.8 57.8h1.6v1.6h-1.6zM155.4 81.2h1.6v1.6h-1.6zM162.6 41.5h1.6v1.6h-1.6zM181.5 46.7h1.6v1.6h-1.6zM158.8 45.6h1.6v1.6h-1.6zM181.0 54.6h1.6v1.6h-1.6zM155.5 49.4h1.6v1.6h-1.6zM183.0 50.5h1.6v1.6h-1.6zM155.3 56.2h1.6v1.6h-1.6zM165.9 52.4h1.6v1.6h-1.6zM187.4 48.2h1.6v1.6h-1.6zM166.1 40.7h1.6v1.6h-1.6zM168.6 45.0h1.6v1.6h-1.6zM174.2 48.0h1.6v1.6h-1.6zM170.9 44.0h1.6v1.6h-1.6zM182.0 47.6h1.6v1.6h-1.6zM177.9 43.6h1.6v1.6h-1.6zM157.0 82.3h1.6v1.6h-1.6zM164.2 43.7h1.6v1.6h-1.6zM151.7 56.2h1.6v1.6h-1.6zM159.9 36.1h1.6v1.6h-1.6zM165.9 50.4h1.6v1.6h-1.6zM156.6 80.7h1.6v1.6h-1.6zM176.6 38.5h1.6v1.6h-1.6zM187.0 42.7h1.6v1.6h-1.6zM188.7 46.0h1.6v1.6h-1.6zM162.5 62.9h1.6v1.6h-1.6zM163.7 39.0h1.6v1.6h-1.6zM177.7 47.8h1.6v1.6h-1.6zM154.1 75.4h1.6v1.6h-1.6zM170.0 41.5h1.6v1.6h-1.6zM165.6 48.5h1.6v1.6h-1.6zM174.1 38.1h1.6v1.6h-1.6zM166.3 41.0h1.6v1.6h-1.6zM155.6 28.2h1.6v1.6h-1.6zM168.5 55.8h1.6v1.6h-1.6zM177.0 43.4h1.6v1.6h-1.6zM149.1 78.7h1.6v1.6h-1.6zM161.5 57.1h1.6v1.6h-1.6zM184.2 51.8h1.6v1.6h-1.6zM159.6 66.7h1.6v1.6h-1.6zM158.7 60.9h1.6v1.6h-1.6zM154.2 35.4h1.6v1.6h-1.6zM147.9 53.9h1.6v1.6h-1.6zM169.9 43.1h1.6v1.6h-1.6zM181.6 45.2h1.6v1.6h-1.6zM149.3 71.8h1.6v1.6h-1.6zM177.1 44.4h1.6v1.6h-1.6zM162.3 58.9h1.6v1.6h-1.6zM176.5 50.3h1.6v1.6h-1.6zM156.3 37.8h1.6v1.6h-1.6zM152.3 39.4h1.6v1.6h-1.6zM176.9 40.3h1.6v1.6h-1.6zM163.4 49.9h1.6v1.6h-1.6zM162.0 68.4h1.6v1.6h-1.6zM147.6 39.3h1.6v1.6h-1.6zM191.1 51.3h1.6v1.6h-1.6zM153.4 74.9h1.6v1.6h-1.6zM151.9 59.1h1.6v1.6h-1.6zM152.7 29.0h1.6v1.6h-1.6zM155.5 54.9h1.6v1.6h-1.6zM157.7 43.5h1.6v1.6h-1.6zM162.0 47.1h1.6v1.6h-1.6zM155.4 52.8h1.6v1.6h-1.6zM160.9 76.6h1.6v1.6h-1.6zM154.2 64.0h1.6v1.6h-1.6zM167.0 50.5h1.6v1.6h-1.6zM175.1 43.2h1.6v1.6h-1.6zM185.2 40.1h1.6v1.6h-1.6zM186.2 48.1h1.6v1.6h-1.6zM162.8 58.9h1.6v1.6h-1.6zM149.6 69.2h1.6v1.6h-1.6zM175.8 39.4h1.6v1.6h-1.6zM155.4 62.6h1.6v1.6h-1.6zM156.3 73.0h1.6v1.6h-1.6zM164.7 51.5h1.6v1.6h-1.6zM148.6 60.5h1.6v1.6h-1.6zM157.5 64.8h1.6v1.6h-1.6zM150.9 78.6h1.6v1.6h-1.6zM150.3 32.4h1.6v1.6h-1.6zM161.7 39.1h1.6v1.6h-1.6zM181.1 40.9h1.6v1.6h-1.6zM152.6 66.6h1.6v1.6h-1.6zM163.7 54.3h1.6v1.6h-1.6zM180.1 50.0h1.6v1.6h-1.6zM177.2 50.4h1.6v1.6h-1.6zM188.8 45.4h1.6v1.6h-1.6zM146.8 45.4h1.6v1.6h-1.6zM165.6 52.0h1.6v1.6h-1.6zM173.3 53.9h1.6v1.6h-1.6zM153.1 77.5h1.6v1.6h-1.6zM169.3 46.3h1.6v1.6h-1.6zM158.5 63.2h1.6v1.6h-1.6zM159.3 82.2h1.6v1.6h-1.6zM156.9 70.8h1.6v1.6h-1.6zM161.5 47.8h1.6v1.6h-1.6zM167.0 56.4h1.6v1.6h-1.6zM169.3 53.5h1.6v1.6h-1.6zM158.5 61.2h1.6v1.6h-1.6zM162.8 59.6h1.6v1.6h-1.6zM175.7 41.6h1.6v1.6h-1.6zM185.8 48.6h1.6v1.6h-1.6zM154.9 46.2h1.6v1.6h-1.6zM150.4 34.0h1.6v1.6h-1.6zM153.2 32.8h1.6v1.6h-1.6zM178.9 46.7h1.6v1.6h-1.6zM159.6 60.4h1.6v1.6h-1.6zM157.7 33.2h1.6v1.6h-1.6zM151.0 40.7h1.6v1.6h-1.6zM171.3 39.3h1.6v1.6h-1.6zM158.9 50.7h1.6v1.6h-1.6zM165.2 53.4h1.6v1.6h-1.6zM153.9 52.1h1.6v1.6h-1.6zM178.5 41.2h1.6v1.6h-1.6zM152.3 62.5h1.6v1.6h-1.6zM184.0 48.8h1.6v1.6h-1.6zM158.9 69.2h1.6v1.6h-1.6zM154.5 58.4h1.6v1.6h-1.6zM154.2 59.9h1.6v1.6h-1.6zM169.8 51.1h1.6v1.6h-1.6zM159.2 47.4h1.6v1.6h-1.6zM160.5 78.9h1.6v1.6h-1.6zM189.2 42.5h1.6v1.6h-1.6zM167.1 39.4h1.6v1.6h-1.6zM152.0 74.9h1.6v1.6h-1.6zM161.4 40.9h1.6v1.6h-1.6zM181.5 39.2h1.6v1.6h-1.6zM183.3 53.3h1.6v1.6h-1.6zM156.1 52.2h1.6v1.6h-1.6zM152.0 36.4h1.6v1.6h-1.6zM147.0 55.0h1.6v1.6h-1.6zM174.2 49.5h1.6v1.6h-1.6zM153.5 33.5h1.6v1.6h-1.6zM180.3 54.1h1.6v1.6h-1.6zM158.3 51.0h1.6v1.6h-1.6zM148.6 71.4h1.6v1.6h-1.6zM156.9 83.2h1.6v1.6h-1.6zM147.9 55.3h1.6v1.6h-1.6zM162.5 56.3h1.6v1.6h-1.6zM150.4 76.1h1.6v1.6h-1.6zM153.6 59.2h1.6v1.6h-1.6zM159.2 56.6h1.6v1.6h-1.6zM161.7 51.3h1.6v1.6h-1.6zM155.8 40.0h1.6v1.6h-1.6zM181.8 42.2h1.6v1.6h-1.6zM184.9 53.5h1.6v1.6h-1.6zM180.8 70.7h1.6v1.6h-1.6zM158.2 71.5h1.6v1.6h-1.6zM150.2 70.6h1.6v1.6h-1.6zM154.2 52.2h1.6v1.6h-1.6zM168.2 41.4h1.6v1.6h-1.6zM149.0 72.0h1.6v1.6h-1.6zM157.7 67.7h1.6v1.6h-1.6zM157.6 34.3h1.6v1.6h-1.6zM163.9 54.2h1.6v1.6h-1.6zM153.0 33.2h1.6v1.6h-1.6zM153.7 42.2h1.6v1.6h-1.6zM176.8 38.7h1.6v1.6h-1.6zM160.2 76.4h1.6v1.6h-1.6zM156.5 48.5h1.6v1.6h-1.6zM191.0 51.1h1.6v1.6h-1.6zM163.5 50.5h1.6v1.6h-1.6zM156.7 69.3h1.6v1.6h-1.6zM156.2 81.1h1.6v1.6h-1.6zM149.4 76.2h1.6v1.6h-1.6zM160.9 56.9h1.6v1.6h-1.6zM158.7 70.1h1.6v1.6h-1.6zM190.8 50.5h1.6v1.6h-1.6zM150.2 41.4h1.6v1.6h-1.6zM162.3 55.3h1.6v1.6h-1.6zM152.2 80.0h1.6v1.6h-1.6zM152.3 82.7h1.6v1.6h-1.6zM156.8 83.0h1.6v1.6h-1.6zM150.7 35.7h1.6v1.6h-1.6zM155.2 66.5h1.6v1.6h-1.6zM156.9 62.4h1.6v1.6h-1.6zM155.6 32.4h1.6v1.6h-1.6zM150.8 74.4h1.6v1.6h-1.6zM153.3 56.3h1.6v1.6h-1.6zM154.8 55.3h1.6v1.6h-1.6zM174.5 40.6h1.6v1.6h-1.6zM154.5 55.8h1.6v1.6h-1.6zM152.1 76.4h1.6v1.6h-1.6zM173.8 40.2h1.6v1.6h-1.6zM168.6 46.9h1.6v1.6h-1.6zM156.9 35.0h1.6v1.6h-1.6zM157.6 61.6h1.6v1.6h-1.6zM170.4 47.4h1.6v1.6h-1.6zM183.9 47.8h1.6v1.6h-1.6zM159.0 80.8h1.6v1.6h-1.6zM150.3 62.0h1.6v1.6h-1.6zM161.0 36.1h1.6v1.6h-1.6zM153.5 82.8h1.6v1.6h-1.6zM146.6 52.9h1.6v1.6h-1.6zM159.7 62.3h1.6v1.6h-1.6zM151.1 76.6h1.6v1.6h-1.6zM188.8 51.6h1.6v1.6h-1.6zM180.4 47.4h1.6v1.6h-1.6zM154.2 59.5h1.6v1.6h-1.6zM154.6 57.3h1.6v1.6h-1.6zM167.9 66.2h1.6v1.6h-1.6zM151.2 37.8h1.6v1.6h-1.6zM150.4 34.7h1.6v1.6h-1.6zM161.7 48.3h1.6v1.6h-1.6zM155.5 69.6h1.6v1.6h-1.6zM162.6 43.9h1.6v1.6h-1.6zM156.4 31.7h1.6v1.6h-1.6zM160.6 37.8h1.6v1.6h-1.6zM165.5 43.2h1.6v1.6h-1.6zM157.5 53.2h1.6v1.6h-1.6zM155.0 31.0h1.6v1.6h-1.6zM170.5 48.8h1.6v1.6h-1.6zM178.6 50.2h1.6v1.6h-1.6zM150.5 40.1h1.6v1.6h-1.6zM155.2 37.8h1.6v1.6h-1.6zM151.2 53.3h1.6v1.6h-1.6zM149.4 38.2h1.6v1.6h-1.6zM153.8 56.9h1.6v1.6h-1.6zM180.5 39.6h1.6v1.6h-1.6zM159.9 38.8h1.6v1.6h-1.6zM170.1 47.7h1.6v1.6h-1.6zM146.6 50.3h1.6v1.6h-1.6zM156.5 68.9h1.6v1.6h-1.6z" fill="#e8e8e8"/>
<path d="M162.9 41.3h1.6v1.6h-1.6zM151.0 49.6h1.6v1.6h-1.6zM169.7 52.1h1.6v1.6h-1.6zM150.4 57.6h1.6v1.6h-1.6zM174.8 49.3h1.6v1.6h-1.6zM187.2 53.4h1.6v1.6h-1.6zM171.3 45.9h1.6v1.6h-1.6zM152.5 59.2h1.6v1.6h-1.6zM161.5 44.7h1.6v1.6h-1.6zM165.8 44.4h1.6v1.6h-1.6zM162.6 42.9h1.6v1.6h-1.6zM155.8 67.8h1.6v1.6h-1.6zM149.7 71.4h1.6v1.6h-1.6zM147.6 51.8h1.6v1.6h-1.6zM157.2 32.4h1.6v1.6h-1.6zM151.0 47.7h1.6v1.6h-1.6zM176.2 53.6h1.6v1.6h-1.6zM151.2 55.3h1.6v1.6h-1.6zM154.4 83.2h1.6v1.6h-1.6zM169.3 51.6h1.6v1.6h-1.6zM169.5 53.1h1.6v1.6h-1.6zM181.6 40.0h1.6v1.6h-1.6zM186.7 48.4h1.6v1.6h-1.6zM170.7 51.2h1.6v1.6h-1.6zM166.0 54.8h1.6v1.6h-1.6zM182.3 42.3h1.6v1.6h-1.6zM148.3 63.0h1.6v1.6h-1.6zM187.1 48.6h1.6v1.6h-1.6zM185.9 51.2h1.6v1.6h-1.6zM159.7 48.0h1.6v1.6h-1.6zM156.7 30.5h1.6v1.6h-1.6zM150.2 53.5h1.6v1.6h-1.6zM179.0 45.2h1.6v1.6h-1.6zM159.4 77.9h1.6v1.6h-1.6zM154.6 45.8h1.6v1.6h-1.6zM154.5 75.7h1.6v1.6h-1.6zM162.6 46.0h1.6v1.6h-1.6zM186.2 47.8h1.6v1.6h-1.6zM161.3 61.1h1.6v1.6h-1.6zM153.5 28.0h1.6v1.6h-1.6zM150.8 38.7h1.6v1.6h-1.6zM188.1 39.8h1.6v1.6h-1.6zM184.9 42.0h1.6v1.6h-1.6zM152.5 77.9h1.6v1.6h-1.6zM173.6 52.1h1.6v1.6h-1.6zM187.7 51.1h1.6v1.6h-1.6zM149.3 48.9h1.6v1.6h-1.6zM149.4 49.8h1.6v1.6h-1.6zM158.8 33.5h1.6v1.6h-1.6zM169.3 47.7h1.6v1.6h-1.6zM169.9 46.0h1.6v1.6h-1.6zM154.4 57.1h1.6v1.6h-1.6zM150.8 37.4h1.6v1.6h-1.6zM175.7 53.1h1.6v1.6h-1.6zM174.1 49.0h1.6v1.6h-1.6zM148.8 77.2h1.6v1.6h-1.6zM158.2 76.3h1.6v1.6h-1.6zM148.9 51.7h1.6v1.6h-1.6zM175.4 50.1h1.6v1.6h-1.6zM158.4 65.8h1.6v1.6h-1.6zM181.9 51.1h1.6v1.6h-1.6zM149.3 42.7h1.6v1.6h-1.6zM152.3 74.1h1.6v1.6h-1.6zM158.3 60.3h1.6v1.6h-1.6zM179.9 50.2h1.6v1.6h-1.6zM150.4 35.0h1.6v1.6h-1.6zM184.7 52.2h1.6v1.6h-1.6zM154.3 31.9h1.6v1.6h-1.6zM171.6 38.7h1.6v1.6h-1.6zM158.3 77.6h1.6v1.6h-1.6zM179.9 49.9h1.6v1.6h-1.6zM152.2 56.4h1.6v1.6h-1.6zM148.8 46.1h1.6v1.6h-1.6zM169.8 56.2h1.6v1.6h-1.6zM157.7 74.6h1.6v1.6h-1.6zM163.2 47.2h1.6v1.6h-1.6zM157.1 54.9h1.6v1.6h-1.6zM154.2 49.1h1.6v1.6h-1.6zM152.5 46.0h1.6v1.6h-1.6zM149.5 44.6h1.6v1.6h-1.6zM150.9 71.4h1.6v1.6h-1.6zM163.7 43.1h1.6v1.6h-1.6zM155.4 64.9h1.6v1.6h-1.6zM149.7 57.6h1.6v1.6h-1.6zM161.3 63.7h1.6v1.6h-1.6zM149.4 65.3h1.6v1.6h-1.6zM151.6 77.7h1.6v1.6h-1.6zM159.6 35.0h1.6v1.6h-1.6zM149.8 51.8h1.6v1.6h-1.6zM168.9 56.9h1.6v1.6h-1.6zM151.8 46.1h1.6v1.6h-1.6zM149.4 72.9h1.6v1.6h-1.6zM163.8 46.8h1.6v1.6h-1.6zM164.2 48.7h1.6v1.6h-1.6zM191.2 49.2h1.6v1.6h-1.6zM147.5 65.5h1.6v1.6h-1.6zM155.4 82.4h1.6v1.6h-1.6zM163.1 46.4h1.6v1.6h-1.6zM150.0 32.7h1.6v1.6h-1.6zM155.7 65.6h1.6v1.6h-1.6zM151.1 42.6h1.6v1.6h-1.6zM179.3 51.2h1.6v1.6h-1.6zM159.8 65.6h1.6v1.6h-1.6zM159.6 58.7h1.6v1.6h-1.6zM147.1 44.5h1.6v1.6h-1.6zM168.2 40.4h1.6v1.6h-1.6zM177.6 55.7h1.6v1.6h-1.6zM164.3 50.7h1.6v1.6h-1.6zM154.6 75.2h1.6v1.6h-1.6zM159.7 80.7h1.6v1.6h-1.6zM160.1 53.1h1.6v1.6h-1.6zM150.0 64.5h1.6v1.6h-1.6zM163.9 52.9h1.6v1.6h-1.6zM161.0 51.8h1.6v1.6h-1.6zM159.0 60.0h1.6v1.6h-1.6zM149.1 70.2h1.6v1.6h-1.6zM177.1 48.8h1.6v1.6h-1.6zM160.3 35.2h1.6v1.6h-1.6zM163.0 42.0h1.6v1.6h-1.6zM189.3 51.9h1.6v1.6h-1.6zM159.9 67.4h1.6v1.6h-1.6zM188.2 39.2h1.6v1.6h-1.6zM151.6 30.3h1.6v1.6h-1.6zM158.4 59.4h1.6v1.6h-1.6zM166.2 53.6h1.6v1.6h-1.6zM152.5 69.4h1.6v1.6h-1.6zM152.8 35.5h1.6v1.6h-1.6zM180.0 49.6h1.6v1.6h-1.6zM172.0 53.4h1.6v1.6h-1.6zM188.9 43.6h1.6v1.6h-1.6zM158.1 58.1h1.6v1.6h-1.6zM180.8 54.1h1.6v1.6h-1.6zM157.4 50.1h1.6v1.6h-1.6zM147.8 48.2h1.6v1.6h-1.6zM159.7 71.8h1.6v1.6h-1.6zM148.1 53.1h1.6v1.6h-1.6zM149.4 80.0h1.6v1.6h-1.6zM179.5 51.0h1.6v1.6h-1.6zM190.7 43.7h1.6v1.6h-1.6zM155.2 50.9h1.6v1.6h-1.6zM153.2 44.4h1.6v1.6h-1.6zM182.5 54.2h1.6v1.6h-1.6zM149.9 29.1h1.6v1.6h-1.6zM159.2 42.9h1.6v1.6h-1.6zM150.3 38.7h1.6v1.6h-1.6zM157.0 34.5h1.6v1.6h-1.6zM151.0 60.2h1.6v1.6h-1.6zM164.0 50.0h1.6v1.6h-1.6zM151.0 48.6h1.6v1.6h-1.6zM180.5 53.3h1.6v1.6h-1.6zM148.8 37.0h1.6v1.6h-1.6zM156.4 62.6h1.6v1.6h-1.6zM164.6 58.2h1.6v1.6h-1.6zM149.2 74.0h1.6v1.6h-1.6zM148.7 67.0h1.6v1.6h-1.6zM147.5 47.4h1.6v1.6h-1.6zM150.6 56.0h1.6v1.6h-1.6zM175.0 41.7h1.6v1.6h-1.6zM187.0 50.6h1.6v1.6h-1.6zM168.8 48.7h1.6v1.6h-1.6zM161.3 68.2h1.6v1.6h-1.6zM163.2 48.8h1.6v1.6h-1.6zM156.1 58.9h1.6v1.6h-1.6zM156.1 52.8h1.6v1.6h-1.6zM150.3 34.5h1.6v1.6h-1.6zM186.4 53.3h1.6v1.6h-1.6zM147.4 42.5h1.6v1.6h-1.6zM165.6 55.5h1.6v1.6h-1.6zM172.7 46.5h1.6v1.6h-1.6zM156.6 30.4h1.6v1.6h-1.6zM157.8 36.3h1.6v1.6h-1.6zM158.2 83.5h1.6v1.6h-1.6zM177.8 31.0h1.6v1.6h-1.6zM182.5 43.2h1.6v1.6h-1.6zM166.6 48.1h1.6v1.6h-1.6zM167.3 54.9h1.6v1.6h-1.6zM160.9 46.8h1.6v1.6h-1.6zM188.0 49.6h1.6v1.6h-1.6zM182.9 43.2h1.6v1.6h-1.6zM160.5 74.0h1.6v1.6h-1.6zM149.3 48.5h1.6v1.6h-1.6zM155.5 64.7h1.6v1.6h-1.6zM162.9 58.7h1.6v1.6h-1.6zM152.5 55.8h1.6v1.6h-1.6zM173.6 48.6h1.6v1.6h-1.6zM156.5 65.8h1.6v1.6h-1.6zM151.4 68.0h1.6v1.6h-1.6zM163.3 46.5h1.6v1.6h-1.6zM153.2 45.8h1.6v1.6h-1.6zM171.6 39.5h1.6v1.6h-1.6zM172.0 50.4h1.6v1.6h-1.6zM187.4 46.8h1.6v1.6h-1.6zM155.7 81.1h1.6v1.6h-1.6zM165.2 50.9h1.6v1.6h-1.6zM164.2 49.4h1.6v1.6h-1.6zM149.9 75.9h1.6v1.6h-1.6zM168.9 48.4h1.6v1.6h-1.6zM157.8 69.3h1.6v1.6h-1.6zM187.1 40.4h1.6v1.6h-1.6zM183.7 50.2h1.6v1.6h-1.6zM182.0 48.4h1.6v1.6h-1.6zM159.4 84.4h1.6v1.6h-1.6zM149.8 69.7h1.6v1.6h-1.6zM161.2 46.0h1.6v1.6h-1.6zM188.8 43.0h1.6v1.6h-1.6zM157.3 53.3h1.6v1.6h-1.6zM179.9 49.2h1.6v1.6h-1.6zM150.6 33.5h1.6v1.6h-1.6zM172.7 55.4h1.6v1.6h-1.6zM161.7 57.9h1.6v1.6h-1.6zM167.5 41.3h1.6v1.6h-1.6zM153.9 63.9h1.6v1.6h-1.6zM159.3 57.0h1.6v1.6h-1.6zM159.8 50.2h1.6v1.6h-1.6zM179.8 51.1h1.6v1.6h-1.6zM189.0 44.5h1.6v1.6h-1.6zM188.6 48.1h1.6v1.6h-1.6zM170.3 43.4h1.6v1.6h-1.6zM150.8 60.5h1.6v1.6h-1.6zM153.3 67.1h1.6v1.6h-1.6zM155.7 51.1h1.6v1.6h-1.6zM179.0 52.9h1.6v1.6h-1.6zM150.8 79.3h1.6v1.6h-1.6zM155.5 55.0h1.6v1.6h-1.6zM157.1 71.0h1.6v1.6h-1.6zM157.0 56.3h1.6v1.6h-1.6z" fill="#dadada"/>
<path d="M160.2 78.9h1.6v1.6h-1.6zM160.1 38.2h1.6v1.6h-1.6zM158.4 43.6h1.6v1.6h-1.6zM157.4 47.5h1.6v1.6h-1.6zM156.9 39.1h1.6v1.6h-1.6zM182.9 48.5h1.6v1.6h-1.6zM177.7 69.8h1.6v1.6h-1.6zM158.2 37.4h1.6v1.6h-1.6zM147.9 64.9h1.6v1.6h-1.6zM166.1 42.9h1.6v1.6h-1.6zM154.2 46.1h1.6v1.6h-1.6zM170.7 45.3h1.6v1.6h-1.6zM156.8 29.6h1.6v1.6h-1.6zM161.4 42.8h1.6v1.6h-1.6zM156.0 35.5h1.6v1.6h-1.6zM173.6 52.7h1.6v1.6h-1.6zM162.3 62.4h1.6v1.6h-1.6zM156.5 82.1h1.6v1.6h-1.6zM152.6 77.3h1.6v1.6h-1.6zM160.4 70.4h1.6v1.6h-1.6zM178.9 39.7h1.6v1.6h-1.6zM162.9 56.0h1.6v1.6h-1.6zM157.1 64.6h1.6v1.6h-1.6zM151.5 55.5h1.6v1.6h-1.6zM171.1 49.5h1.6v1.6h-1.6zM155.2 40.5h1.6v1.6h-1.6zM179.4 68.8h1.6v1.6h-1.6zM155.8 31.9h1.6v1.6h-1.6zM165.9 53.8h1.6v1.6h-1.6zM180.3 38.6h1.6v1.6h-1.6zM154.4 57.1h1.6v1.6h-1.6zM182.8 46.0h1.6v1.6h-1.6zM155.5 57.8h1.6v1.6h-1.6zM152.3 67.9h1.6v1.6h-1.6zM189.9 44.0h1.6v1.6h-1.6zM181.6 39.8h1.6v1.6h-1.6zM155.1 53.7h1.6v1.6h-1.6zM158.8 36.8h1.6v1.6h-1.6zM175.1 53.0h1.6v1.6h-1.6zM165.2 52.4h1.6v1.6h-1.6zM176.6 41.6h1.6v1.6h-1.6zM152.6 68.1h1.6v1.6h-1.6zM148.2 42.3h1.6v1.6h-1.6zM161.9 52.4h1.6v1.6h-1.6zM167.6 49.1h1.6v1.6h-1.6zM155.4 62.1h1.6v1.6h-1.6zM170.3 47.0h1.6v1.6h-1.6zM179.6 46.0h1.6v1.6h-1.6zM151.8 57.6h1.6v1.6h-1.6zM151.1 73.9h1.6v1.6h-1.6zM152.9 81.2h1.6v1.6h-1.6zM161.6 60.2h1.6v1.6h-1.6zM162.1 54.6h1.6v1.6h-1.6zM169.0 45.2h1.6v1.6h-1.6zM154.6 79.5h1.6v1.6h-1.6zM148.9 63.9h1.6v1.6h-1.6zM156.0 54.1h1.6v1.6h-1.6zM182.5 49.6h1.6v1.6h-1.6zM154.6 60.0h1.6v1.6h-1.6zM160.2 66.2h1.6v1.6h-1.6zM160.5 65.8h1.6v1.6h-1.6zM150.9 61.3h1.6v1.6h-1.6zM150.5 50.3h1.6v1.6h-1.6zM156.8 61.9h1.6v1.6h-1.6zM157.7 74.7h1.6v1.6h-1.6zM188.5 45.2h1.6v1.6h-1.6zM148.0 64.5h1.6v1.6h-1.6zM157.2 67.0h1.6v1.6h-1.6zM163.0 46.9h1.6v1.6h-1.6zM164.1 42.1h1.6v1.6h-1.6zM171.2 46.5h1.6v1.6h-1.6zM156.9 85.5h1.6v1.6h-1.6zM171.5 43.7h1.6v1.6h-1.6zM153.6 80.0h1.6v1.6h-1.6zM163.6 47.2h1.6v1.6h-1.6zM173.1 49.6h1.6v1.6h-1.6zM161.5 39.0h1.6v1.6h-1.6zM148.5 64.0h1.6v1.6h-1.6zM154.2 46.1h1.6v1.6h-1.6zM149.3 73.6h1.6v1.6h-1.6zM173.9 44.1h1.6v1.6h-1.6zM157.6 75.7h1.6v1.6h-1.6zM175.7 38.6h1.6v1.6h-1.6zM149.3 37.2h1.6v1.6h-1.6zM160.2 69.0h1.6v1.6h-1.6zM169.9 55.0h1.6v1.6h-1.6zM161.0 55.8h1.6v1.6h-1.6zM167.3 40.0h1.6v1.6h-1.6zM159.0 45.3h1.6v1.6h-1.6zM156.9 77.5h1.6v1.6h-1.6zM175.6 41.6h1.6v1.6h-1.6zM158.5 82.7h1.6v1.6h-1.6zM147.2 43.1h1.6v1.6h-1.6zM176.4 54.2h1.6v1.6h-1.6zM150.1 36.5h1.6v1.6h-1.6zM174.1 51.6h1.6v1.6h-1.6zM161.6 62.4h1.6v1.6h-1.6zM171.4 38.6h1.6v1.6h-1.6zM169.3 40.8h1.6v1.6h-1.6zM153.3 84.1h1.6v1.6h-1.6zM181.2 47.1h1.6v1.6h-1.6zM163.6 56.8h1.6v1.6h-1.6zM168.5 47.8h1.6v1.6h-1.6zM169.8 63.9h1.6v1.6h-1.6zM147.1 46.0h1.6v1.6h-1.6zM153.0 42.1h1.6v1.6h-1.6zM149.7 79.4h1.6v1.6h-1.6zM154.4 28.5h1.6v1.6h-1.6zM156.9 42.3h1.6v1.6h-1.6zM149.3 79.5h1.6v1.6h-1.6zM186.5 40.1h1.6v1.6h-1.6zM148.6 46.7h1.6v1.6h-1.6zM160.2 70.0h1.6v1.6h-1.6zM172.0 45.0h1.6v1.6h-1.6zM154.8 70.1h1.6v1.6h-1.6zM182.9 51.6h1.6v1.6h-1.6zM181.0 51.9h1.6v1.6h-1.6zM158.6 80.0h1.6v1.6h-1.6zM156.6 54.9h1.6v1.6h-1.6zM180.0 66.8h1.6v1.6h-1.6zM147.4 61.5h1.6v1.6h-1.6zM153.8 33.9h1.6v1.6h-1.6zM158.3 49.2h1.6v1.6h-1.6zM156.9 76.0h1.6v1.6h-1.6zM168.4 43.8h1.6v1.6h-1.6zM155.2 46.9h1.6v1.6h-1.6zM153.9 45.6h1.6v1.6h-1.6zM153.1 32.7h1.6v1.6h-1.6zM157.2 68.6h1.6v1.6h-1.6zM161.8 40.7h1.6v1.6h-1.6zM149.1 52.4h1.6v1.6h-1.6zM177.3 50.4h1.6v1.6h-1.6zM155.8 78.2h1.6v1.6h-1.6zM164.6 47.1h1.6v1.6h-1.6zM150.4 57.9h1.6v1.6h-1.6zM183.1 43.0h1.6v1.6h-1.6zM147.4 45.1h1.6v1.6h-1.6zM148.1 65.7h1.6v1.6h-1.6zM157.4 64.8h1.6v1.6h-1.6zM149.0 75.1h1.6v1.6h-1.6zM158.8 31.2h1.6v1.6h-1.6zM158.1 44.4h1.6v1.6h-1.6zM150.7 68.1h1.6v1.6h-1.6zM150.5 43.7h1.6v1.6h-1.6zM148.6 55.4h1.6v1.6h-1.6zM159.3 36.7h1.6v1.6h-1.6zM156.7 52.3h1.6v1.6h-1.6zM152.2 74.9h1.6v1.6h-1.6zM158.6 66.8h1.6v1.6h-1.6zM170.3 43.1h1.6v1.6h-1.6zM154.2 32.7h1.6v1.6h-1.6zM180.1 44.2h1.6v1.6h-1.6zM164.6 41.8h1.6v1.6h-1.6zM190.0 45.6h1.6v1.6h-1.6zM147.7 40.2h1.6v1.6h-1.6zM163.3 52.6h1.6v1.6h-1.6zM152.6 69.3h1.6v1.6h-1.6zM170.8 41.3h1.6v1.6h-1.6zM178.1 52.7h1.6v1.6h-1.6zM155.4 82.4h1.6v1.6h-1.6zM164.4 44.5h1.6v1.6h-1.6zM145.1 45.6h1.6v1.6h-1.6zM148.9 61.7h1.6v1.6h-1.6zM189.6 49.7h1.6v1.6h-1.6zM178.4 40.1h1.6v1.6h-1.6zM153.6 58.7h1.6v1.6h-1.6zM182.9 40.7h1.6v1.6h-1.6zM185.4 39.3h1.6v1.6h-1.6zM184.1 44.3h1.6v1.6h-1.6zM165.0 57.6h1.6v1.6h-1.6zM152.4 49.5h1.6v1.6h-1.6zM147.4 48.1h1.6v1.6h-1.6zM147.9 66.1h1.6v1.6h-1.6zM152.6 75.3h1.6v1.6h-1.6zM153.4 35.4h1.6v1.6h-1.6zM152.4 64.0h1.6v1.6h-1.6zM150.0 40.7h1.6v1.6h-1.6zM187.2 41.6h1.6v1.6h-1.6zM164.5 50.7h1.6v1.6h-1.6zM161.0 47.9h1.6v1.6h-1.6zM155.4 49.4h1.6v1.6h-1.6zM161.4 63.3h1.6v1.6h-1.6zM158.3 36.9h1.6v1.6h-1.6zM160.7 67.4h1.6v1.6h-1.6zM148.6 54.9h1.6v1.6h-1.6zM162.7 39.4h1.6v1.6h-1.6zM178.1 52.4h1.6v1.6h-1.6zM160.7 58.7h1.6v1.6h-1.6zM153.0 49.8h1.6v1.6h-1.6zM155.0 56.5h1.6v1.6h-1.6zM148.0 38.6h1.6v1.6h-1.6zM178.9 45.0h1.6v1.6h-1.6zM159.7 58.2h1.6v1.6h-1.6zM158.2 43.3h1.6v1.6h-1.6zM168.3 50.6h1.6v1.6h-1.6zM178.6 39.7h1.6v1.6h-1.6zM152.0 28.9h1.6v1.6h-1.6zM161.6 55.4h1.6v1.6h-1.6z" fill="#d4d4d4"/>
</g>
<rect x="139.30" y="22.80" width="68.20" height="68.40" fill="none" stroke="#3c3c3c" stroke-width="1.0"/>
<rect x="178.20" y="59.20" width="13.50" height="17.30" fill="#f2f6fb"/>
<g filter="url(#bl8)">
<polygon points="178.5,59.5 191.0,59.5 191.0,64.0 186.0,70.0 180.0,72.0 178.5,70.0" fill="#b8c4ec"/>
</g>
<path d="M178.7 62.3h1.4v1.4h-1.4zM180.7 63.7h1.4v1.4h-1.4zM180.4 61.2h1.4v1.4h-1.4zM184.0 60.9h1.4v1.4h-1.4zM178.6 64.3h1.4v1.4h-1.4zM186.1 64.2h1.4v1.4h-1.4zM180.0 67.2h1.4v1.4h-1.4zM184.5 62.1h1.4v1.4h-1.4zM183.6 61.3h1.4v1.4h-1.4zM182.0 59.4h1.4v1.4h-1.4zM179.7 61.2h1.4v1.4h-1.4zM182.7 61.5h1.4v1.4h-1.4zM179.8 64.9h1.4v1.4h-1.4z" fill="#2a30a0"/>
<path d="M180.4 59.6h1.4v1.4h-1.4zM183.3 67.3h1.4v1.4h-1.4zM185.8 61.9h1.4v1.4h-1.4zM183.3 59.6h1.4v1.4h-1.4zM185.0 65.6h1.4v1.4h-1.4zM184.6 64.9h1.4v1.4h-1.4zM180.7 61.9h1.4v1.4h-1.4zM184.0 63.2h1.4v1.4h-1.4zM185.7 64.7h1.4v1.4h-1.4zM186.3 62.8h1.4v1.4h-1.4zM183.4 64.2h1.4v1.4h-1.4zM187.5 59.6h1.4v1.4h-1.4zM186.8 64.0h1.4v1.4h-1.4zM179.5 59.9h1.4v1.4h-1.4zM185.7 66.2h1.4v1.4h-1.4zM184.2 63.5h1.4v1.4h-1.4zM185.5 63.7h1.4v1.4h-1.4zM181.6 62.6h1.4v1.4h-1.4z" fill="#1c1c80"/>
<path d="M182.6 60.1h1.4v1.4h-1.4zM186.9 66.8h1.4v1.4h-1.4zM181.2 60.5h1.4v1.4h-1.4zM182.6 59.9h1.4v1.4h-1.4zM181.5 63.0h1.4v1.4h-1.4zM180.4 63.5h1.4v1.4h-1.4zM185.6 65.1h1.4v1.4h-1.4zM182.6 62.4h1.4v1.4h-1.4z" fill="#4058c8"/>
<path d="M183.6 66.1h1.4v1.4h-1.4zM179.7 61.6h1.4v1.4h-1.4zM181.2 62.9h1.4v1.4h-1.4zM180.4 60.7h1.4v1.4h-1.4zM180.8 60.9h1.4v1.4h-1.4zM180.1 64.2h1.4v1.4h-1.4zM181.5 62.5h1.4v1.4h-1.4zM183.3 62.7h1.4v1.4h-1.4z" fill="#8098e0"/>
<path d="M182.5 63.5h1.4v1.4h-1.4zM179.2 59.9h1.4v1.4h-1.4zM188.6 65.9h1.4v1.4h-1.4zM184.8 65.0h1.4v1.4h-1.4zM181.7 60.3h1.4v1.4h-1.4zM182.2 60.8h1.4v1.4h-1.4zM181.9 61.3h1.4v1.4h-1.4zM181.3 64.1h1.4v1.4h-1.4zM186.2 64.5h1.4v1.4h-1.4z" fill="#a0b8f0"/>
<path d="M183.7 62.8h1.4v1.4h-1.4zM186.9 65.2h1.4v1.4h-1.4zM188.8 63.7h1.4v1.4h-1.4zM181.2 64.4h1.4v1.4h-1.4zM184.8 65.7h1.4v1.4h-1.4zM181.4 61.7h1.4v1.4h-1.4zM181.9 67.1h1.4v1.4h-1.4z" fill="#6080d8"/>
<path d="M185.0 69.9h1.2v1.2h-1.2zM185.8 64.7h1.2v1.2h-1.2zM184.5 69.4h1.2v1.2h-1.2zM186.2 73.4h1.2v1.2h-1.2zM187.7 71.4h1.2v1.2h-1.2zM187.6 67.2h1.2v1.2h-1.2z" fill="#c0d8f0"/>
<path d="M187.4 70.5h1.2v1.2h-1.2zM185.7 69.6h1.2v1.2h-1.2zM189.8 70.1h1.2v1.2h-1.2z" fill="#a0b8f0"/>
<path d="M184.1 64.1h1.2v1.2h-1.2zM184.7 70.8h1.2v1.2h-1.2zM188.0 70.7h1.2v1.2h-1.2zM187.9 67.0h1.2v1.2h-1.2z" fill="#b0e0e8"/>
<rect x="178.20" y="59.20" width="13.50" height="17.30" fill="none" stroke="#222" stroke-width="0.9"/>
<path d="M134.70 85.90 V97.00 H145.50" fill="none" stroke="#262626" stroke-width="1.2"/>
<path d="M134.70 82.90 L133.25 86.60 L136.15 86.60 Z" fill="#262626"/>
<path d="M148.50 97.00 L144.80 95.55 L144.80 98.45 Z" fill="#262626"/>
<text x="151.80" y="99.50" font-size="9.9" fill="#2a2a2a" textLength="18.5" lengthAdjust="spacingAndGlyphs">CD34</text>
<text x="137.70" y="79.80" font-size="9.9" fill="#2a2a2a" textLength="17.4" lengthAdjust="spacingAndGlyphs" transform="rotate(-90 137.70 79.80)">CD38</text>
<text x="217.80" y="32.10" font-size="6.0" fill="#2a2a2a" textLength="41.2" lengthAdjust="spacingAndGlyphs">Subpopulations</text>
<rect x="217.20" y="36.00" width="5.30" height="4.60" fill="#1c1c8c"/>
<text x="224.00" y="40.40" font-size="6.0" fill="#2a2a2a" text-anchor="start">My <tspan fill="#747474" stroke="#747474">IV</tspan></text>
<rect x="217.20" y="43.20" width="5.30" height="4.60" fill="#4d7fe6"/>
<text x="224.00" y="47.60" font-size="6.0" fill="#2a2a2a" text-anchor="start">My <tspan fill="#a29ea0" stroke="#a29ea0">III</tspan></text>
<rect x="217.20" y="50.40" width="5.30" height="4.60" fill="#7ccbbf"/>
<text x="224.00" y="54.80" font-size="6.0" fill="#2a2a2a" text-anchor="start">My <tspan fill="#a0a4a2" stroke="#a0a4a2">II</tspan></text>
<rect x="217.20" y="57.60" width="5.30" height="4.60" fill="#b2efe9"/>
<text x="224.00" y="62.00" font-size="6.0" fill="#2a2a2a" text-anchor="start">My <tspan fill="#a2a2a2" stroke="#a2a2a2">I</tspan></text>
<rect x="217.20" y="64.80" width="5.30" height="4.60" fill="#e0893a"/>
<text x="224.00" y="69.20" font-size="6.0" fill="#2a2a2a">Primitive</text>
<rect x="217.20" y="72.00" width="5.30" height="4.60" fill="#a0141a"/>
<text x="224.00" y="76.40" font-size="6.0" fill="#2a2a2a">Ly</text>
<rect x="217.20" y="79.20" width="5.30" height="4.60" fill="#7b1d8c"/>
<text x="224.00" y="83.60" font-size="6.0" fill="#2a2a2a">MegE</text>
<g filter="url(#bl7)">
<polygon points="297.0,24.0 343.0,24.0 350.0,40.0 330.0,75.0 306.0,90.0 291.5,90.0 291.5,40.0" fill="#f0f0f0"/>
<path d="M316.7 25.2h1.5v1.5h-1.5zM333.8 62.5h1.5v1.5h-1.5zM326.6 69.8h1.5v1.5h-1.5zM333.9 66.9h1.5v1.5h-1.5zM312.7 58.6h1.5v1.5h-1.5zM324.5 67.3h1.5v1.5h-1.5zM317.4 28.2h1.5v1.5h-1.5zM349.1 46.1h1.5v1.5h-1.5zM328.6 59.1h1.5v1.5h-1.5zM303.5 34.9h1.5v1.5h-1.5zM301.7 54.2h1.5v1.5h-1.5zM336.6 53.9h1.5v1.5h-1.5zM317.6 40.7h1.5v1.5h-1.5zM319.3 60.0h1.5v1.5h-1.5zM319.9 48.9h1.5v1.5h-1.5zM301.5 62.5h1.5v1.5h-1.5zM333.2 44.7h1.5v1.5h-1.5zM331.9 64.6h1.5v1.5h-1.5zM319.2 44.7h1.5v1.5h-1.5zM317.2 46.4h1.5v1.5h-1.5zM310.4 44.9h1.5v1.5h-1.5zM329.1 65.4h1.5v1.5h-1.5zM304.4 59.0h1.5v1.5h-1.5zM331.4 34.3h1.5v1.5h-1.5zM341.9 57.0h1.5v1.5h-1.5zM311.9 42.6h1.5v1.5h-1.5zM313.0 64.7h1.5v1.5h-1.5zM335.2 63.5h1.5v1.5h-1.5zM347.9 59.3h1.5v1.5h-1.5zM320.0 59.0h1.5v1.5h-1.5zM316.1 79.3h1.5v1.5h-1.5zM298.0 36.9h1.5v1.5h-1.5zM307.7 74.8h1.5v1.5h-1.5zM308.8 40.2h1.5v1.5h-1.5zM329.8 45.3h1.5v1.5h-1.5zM350.4 62.3h1.5v1.5h-1.5zM318.7 66.0h1.5v1.5h-1.5zM305.6 80.6h1.5v1.5h-1.5zM315.3 69.0h1.5v1.5h-1.5zM313.2 59.1h1.5v1.5h-1.5zM336.4 52.4h1.5v1.5h-1.5zM305.0 57.8h1.5v1.5h-1.5zM313.1 70.7h1.5v1.5h-1.5zM338.3 47.5h1.5v1.5h-1.5zM323.5 54.9h1.5v1.5h-1.5zM312.1 48.1h1.5v1.5h-1.5zM317.0 77.7h1.5v1.5h-1.5zM311.5 55.6h1.5v1.5h-1.5zM325.1 76.8h1.5v1.5h-1.5zM313.8 66.1h1.5v1.5h-1.5zM303.1 61.7h1.5v1.5h-1.5zM309.1 70.4h1.5v1.5h-1.5zM339.3 46.1h1.5v1.5h-1.5zM334.4 47.1h1.5v1.5h-1.5zM311.1 50.3h1.5v1.5h-1.5zM335.7 71.0h1.5v1.5h-1.5zM310.3 72.7h1.5v1.5h-1.5zM337.0 65.7h1.5v1.5h-1.5zM300.9 50.1h1.5v1.5h-1.5zM312.9 46.7h1.5v1.5h-1.5zM330.4 41.0h1.5v1.5h-1.5zM312.6 37.4h1.5v1.5h-1.5zM323.2 64.4h1.5v1.5h-1.5zM331.6 71.9h1.5v1.5h-1.5zM312.7 77.8h1.5v1.5h-1.5zM302.2 40.7h1.5v1.5h-1.5zM318.5 75.1h1.5v1.5h-1.5zM331.4 64.2h1.5v1.5h-1.5zM295.5 36.6h1.5v1.5h-1.5zM305.7 35.9h1.5v1.5h-1.5zM331.7 48.2h1.5v1.5h-1.5zM300.2 25.9h1.5v1.5h-1.5zM326.1 69.8h1.5v1.5h-1.5zM322.1 73.4h1.5v1.5h-1.5zM348.9 53.6h1.5v1.5h-1.5zM296.4 66.4h1.5v1.5h-1.5zM328.6 57.8h1.5v1.5h-1.5zM320.7 61.2h1.5v1.5h-1.5zM310.0 85.6h1.5v1.5h-1.5zM302.1 54.4h1.5v1.5h-1.5zM301.2 66.1h1.5v1.5h-1.5zM325.6 40.7h1.5v1.5h-1.5zM331.9 68.1h1.5v1.5h-1.5zM329.3 51.2h1.5v1.5h-1.5zM328.1 55.4h1.5v1.5h-1.5zM330.6 74.5h1.5v1.5h-1.5zM331.1 65.3h1.5v1.5h-1.5zM326.8 76.7h1.5v1.5h-1.5zM314.9 43.4h1.5v1.5h-1.5zM319.3 30.8h1.5v1.5h-1.5zM300.1 50.6h1.5v1.5h-1.5zM328.9 62.4h1.5v1.5h-1.5zM339.4 61.4h1.5v1.5h-1.5zM338.4 79.9h1.5v1.5h-1.5zM310.3 24.1h1.5v1.5h-1.5zM303.7 42.3h1.5v1.5h-1.5zM319.1 61.2h1.5v1.5h-1.5zM303.6 80.7h1.5v1.5h-1.5zM323.9 63.2h1.5v1.5h-1.5zM297.3 43.0h1.5v1.5h-1.5zM317.5 82.5h1.5v1.5h-1.5zM308.7 78.9h1.5v1.5h-1.5zM306.3 64.3h1.5v1.5h-1.5zM323.7 59.6h1.5v1.5h-1.5zM323.6 72.1h1.5v1.5h-1.5zM338.3 60.8h1.5v1.5h-1.5zM303.4 38.1h1.5v1.5h-1.5zM324.8 24.7h1.5v1.5h-1.5zM327.0 62.2h1.5v1.5h-1.5zM303.9 73.4h1.5v1.5h-1.5zM304.2 70.7h1.5v1.5h-1.5zM320.8 30.3h1.5v1.5h-1.5zM298.6 54.0h1.5v1.5h-1.5zM298.1 42.8h1.5v1.5h-1.5zM334.5 67.2h1.5v1.5h-1.5zM350.5 44.8h1.5v1.5h-1.5zM317.4 71.1h1.5v1.5h-1.5zM339.0 41.7h1.5v1.5h-1.5zM316.8 34.7h1.5v1.5h-1.5zM321.0 62.2h1.5v1.5h-1.5zM303.7 46.9h1.5v1.5h-1.5zM332.7 56.3h1.5v1.5h-1.5zM296.1 33.5h1.5v1.5h-1.5zM340.1 65.6h1.5v1.5h-1.5zM307.5 72.7h1.5v1.5h-1.5zM306.2 63.4h1.5v1.5h-1.5zM338.7 51.6h1.5v1.5h-1.5zM300.0 33.4h1.5v1.5h-1.5zM315.7 30.5h1.5v1.5h-1.5zM302.2 78.9h1.5v1.5h-1.5zM346.9 56.5h1.5v1.5h-1.5zM307.3 43.3h1.5v1.5h-1.5zM334.8 60.3h1.5v1.5h-1.5zM340.7 57.5h1.5v1.5h-1.5zM323.0 62.1h1.5v1.5h-1.5zM316.6 41.1h1.5v1.5h-1.5zM311.3 43.0h1.5v1.5h-1.5zM349.5 26.0h1.5v1.5h-1.5zM318.2 62.9h1.5v1.5h-1.5zM320.0 31.0h1.5v1.5h-1.5zM312.5 61.0h1.5v1.5h-1.5zM334.9 25.4h1.5v1.5h-1.5zM311.8 37.9h1.5v1.5h-1.5zM314.2 39.7h1.5v1.5h-1.5zM304.7 23.8h1.5v1.5h-1.5zM323.2 52.5h1.5v1.5h-1.5zM296.9 25.6h1.5v1.5h-1.5zM305.4 64.9h1.5v1.5h-1.5zM342.2 61.3h1.5v1.5h-1.5zM328.9 52.2h1.5v1.5h-1.5zM307.1 85.8h1.5v1.5h-1.5zM318.9 65.7h1.5v1.5h-1.5zM310.1 32.0h1.5v1.5h-1.5zM321.3 73.3h1.5v1.5h-1.5zM326.5 59.6h1.5v1.5h-1.5zM349.4 62.8h1.5v1.5h-1.5zM313.4 38.6h1.5v1.5h-1.5zM331.8 29.2h1.5v1.5h-1.5zM342.9 46.0h1.5v1.5h-1.5zM299.4 57.7h1.5v1.5h-1.5zM334.9 67.7h1.5v1.5h-1.5zM325.3 46.4h1.5v1.5h-1.5zM319.3 54.1h1.5v1.5h-1.5zM310.7 40.3h1.5v1.5h-1.5zM336.8 63.9h1.5v1.5h-1.5zM327.3 64.3h1.5v1.5h-1.5zM345.2 59.6h1.5v1.5h-1.5zM319.4 70.6h1.5v1.5h-1.5zM323.0 43.0h1.5v1.5h-1.5zM319.1 52.1h1.5v1.5h-1.5zM302.9 49.4h1.5v1.5h-1.5zM331.7 71.1h1.5v1.5h-1.5zM349.3 54.4h1.5v1.5h-1.5zM316.7 53.2h1.5v1.5h-1.5zM313.7 77.0h1.5v1.5h-1.5zM314.4 71.0h1.5v1.5h-1.5zM331.9 50.5h1.5v1.5h-1.5zM335.0 28.2h1.5v1.5h-1.5zM328.0 58.1h1.5v1.5h-1.5zM354.8 34.6h1.5v1.5h-1.5zM352.2 48.7h1.5v1.5h-1.5zM317.0 35.1h1.5v1.5h-1.5zM303.8 64.3h1.5v1.5h-1.5zM325.3 59.0h1.5v1.5h-1.5zM302.0 47.1h1.5v1.5h-1.5zM326.2 56.6h1.5v1.5h-1.5zM328.5 74.1h1.5v1.5h-1.5zM317.6 31.1h1.5v1.5h-1.5zM326.8 37.8h1.5v1.5h-1.5zM325.7 66.8h1.5v1.5h-1.5zM311.2 43.4h1.5v1.5h-1.5zM317.6 55.2h1.5v1.5h-1.5zM344.2 59.4h1.5v1.5h-1.5zM337.5 68.5h1.5v1.5h-1.5zM310.2 72.3h1.5v1.5h-1.5zM324.9 23.8h1.5v1.5h-1.5zM332.5 59.9h1.5v1.5h-1.5zM315.4 56.6h1.5v1.5h-1.5zM301.7 53.9h1.5v1.5h-1.5zM301.2 69.0h1.5v1.5h-1.5zM318.5 77.0h1.5v1.5h-1.5zM321.0 53.4h1.5v1.5h-1.5zM332.5 72.6h1.5v1.5h-1.5zM303.8 67.6h1.5v1.5h-1.5zM351.8 57.8h1.5v1.5h-1.5zM320.5 81.3h1.5v1.5h-1.5zM328.0 28.2h1.5v1.5h-1.5zM349.0 63.1h1.5v1.5h-1.5zM350.0 37.5h1.5v1.5h-1.5zM336.6 46.6h1.5v1.5h-1.5zM321.6 71.3h1.5v1.5h-1.5zM323.6 37.7h1.5v1.5h-1.5zM304.6 72.8h1.5v1.5h-1.5zM320.0 55.7h1.5v1.5h-1.5zM315.0 83.5h1.5v1.5h-1.5zM351.0 37.4h1.5v1.5h-1.5zM354.6 40.4h1.5v1.5h-1.5zM303.8 51.4h1.5v1.5h-1.5zM348.1 55.5h1.5v1.5h-1.5zM318.5 43.3h1.5v1.5h-1.5zM357.5 51.7h1.5v1.5h-1.5zM317.0 63.2h1.5v1.5h-1.5zM332.7 58.0h1.5v1.5h-1.5zM306.1 53.1h1.5v1.5h-1.5zM323.7 77.5h1.5v1.5h-1.5zM325.9 63.5h1.5v1.5h-1.5zM322.7 76.8h1.5v1.5h-1.5zM304.6 35.3h1.5v1.5h-1.5zM322.8 47.0h1.5v1.5h-1.5zM326.1 69.0h1.5v1.5h-1.5zM310.2 37.9h1.5v1.5h-1.5zM315.5 68.3h1.5v1.5h-1.5zM300.0 53.2h1.5v1.5h-1.5zM352.5 54.8h1.5v1.5h-1.5zM326.5 60.8h1.5v1.5h-1.5zM327.2 51.6h1.5v1.5h-1.5zM332.5 52.3h1.5v1.5h-1.5zM318.2 70.2h1.5v1.5h-1.5zM330.9 68.8h1.5v1.5h-1.5zM306.6 55.8h1.5v1.5h-1.5zM306.4 86.0h1.5v1.5h-1.5zM309.9 53.0h1.5v1.5h-1.5zM323.5 79.8h1.5v1.5h-1.5zM317.9 65.9h1.5v1.5h-1.5zM346.1 64.9h1.5v1.5h-1.5zM329.0 59.1h1.5v1.5h-1.5zM347.9 68.8h1.5v1.5h-1.5zM316.1 54.6h1.5v1.5h-1.5zM319.1 40.7h1.5v1.5h-1.5zM297.6 25.2h1.5v1.5h-1.5zM310.0 62.1h1.5v1.5h-1.5zM295.9 50.1h1.5v1.5h-1.5zM348.0 72.2h1.5v1.5h-1.5zM312.3 29.3h1.5v1.5h-1.5zM319.4 62.2h1.5v1.5h-1.5zM339.8 64.7h1.5v1.5h-1.5zM300.4 59.4h1.5v1.5h-1.5zM314.5 77.8h1.5v1.5h-1.5zM325.1 61.1h1.5v1.5h-1.5zM336.7 66.7h1.5v1.5h-1.5zM302.7 27.6h1.5v1.5h-1.5zM304.6 55.0h1.5v1.5h-1.5zM334.1 48.4h1.5v1.5h-1.5zM338.5 71.9h1.5v1.5h-1.5zM332.9 67.5h1.5v1.5h-1.5zM306.4 35.0h1.5v1.5h-1.5zM312.1 68.4h1.5v1.5h-1.5zM299.5 33.1h1.5v1.5h-1.5zM342.2 62.8h1.5v1.5h-1.5zM308.5 80.8h1.5v1.5h-1.5zM331.1 40.1h1.5v1.5h-1.5zM351.4 35.7h1.5v1.5h-1.5zM321.8 25.6h1.5v1.5h-1.5zM304.8 61.4h1.5v1.5h-1.5zM308.9 34.8h1.5v1.5h-1.5zM308.0 51.1h1.5v1.5h-1.5zM334.0 56.2h1.5v1.5h-1.5zM321.2 46.4h1.5v1.5h-1.5zM329.4 61.3h1.5v1.5h-1.5zM356.1 55.5h1.5v1.5h-1.5zM310.2 84.5h1.5v1.5h-1.5zM299.2 59.1h1.5v1.5h-1.5zM303.1 66.9h1.5v1.5h-1.5zM347.4 48.9h1.5v1.5h-1.5zM309.3 75.0h1.5v1.5h-1.5zM336.0 58.4h1.5v1.5h-1.5zM344.2 52.6h1.5v1.5h-1.5zM315.7 84.5h1.5v1.5h-1.5zM311.2 50.1h1.5v1.5h-1.5zM328.2 59.6h1.5v1.5h-1.5zM357.6 55.9h1.5v1.5h-1.5zM329.6 33.1h1.5v1.5h-1.5zM308.8 85.7h1.5v1.5h-1.5zM319.3 40.0h1.5v1.5h-1.5zM319.5 47.0h1.5v1.5h-1.5zM312.8 58.1h1.5v1.5h-1.5zM343.0 23.7h1.5v1.5h-1.5zM315.5 64.1h1.5v1.5h-1.5zM346.9 47.1h1.5v1.5h-1.5zM313.0 75.2h1.5v1.5h-1.5zM336.0 60.0h1.5v1.5h-1.5zM307.6 80.6h1.5v1.5h-1.5zM322.5 62.5h1.5v1.5h-1.5zM312.7 62.1h1.5v1.5h-1.5zM314.9 65.6h1.5v1.5h-1.5zM308.5 53.6h1.5v1.5h-1.5zM317.1 42.4h1.5v1.5h-1.5zM328.5 72.3h1.5v1.5h-1.5zM313.1 58.5h1.5v1.5h-1.5zM316.5 36.5h1.5v1.5h-1.5zM308.0 56.9h1.5v1.5h-1.5zM330.0 73.2h1.5v1.5h-1.5zM317.0 50.0h1.5v1.5h-1.5zM318.5 70.7h1.5v1.5h-1.5zM308.7 55.5h1.5v1.5h-1.5zM307.8 84.0h1.5v1.5h-1.5zM345.6 49.7h1.5v1.5h-1.5zM348.5 59.0h1.5v1.5h-1.5zM314.5 57.8h1.5v1.5h-1.5zM303.6 65.9h1.5v1.5h-1.5zM338.6 66.5h1.5v1.5h-1.5zM304.8 57.3h1.5v1.5h-1.5zM350.8 46.1h1.5v1.5h-1.5zM319.9 30.6h1.5v1.5h-1.5zM306.1 76.6h1.5v1.5h-1.5zM318.6 68.0h1.5v1.5h-1.5zM345.6 36.5h1.5v1.5h-1.5zM333.2 72.6h1.5v1.5h-1.5zM332.9 58.8h1.5v1.5h-1.5zM321.0 47.6h1.5v1.5h-1.5zM305.3 78.6h1.5v1.5h-1.5zM333.7 45.0h1.5v1.5h-1.5zM330.6 72.8h1.5v1.5h-1.5zM306.1 27.0h1.5v1.5h-1.5zM313.5 51.6h1.5v1.5h-1.5zM354.2 36.3h1.5v1.5h-1.5zM336.6 26.5h1.5v1.5h-1.5zM319.3 66.3h1.5v1.5h-1.5zM310.2 54.7h1.5v1.5h-1.5zM316.4 63.2h1.5v1.5h-1.5zM306.3 89.1h1.5v1.5h-1.5zM308.9 73.0h1.5v1.5h-1.5zM344.6 35.2h1.5v1.5h-1.5zM355.0 53.9h1.5v1.5h-1.5zM299.1 49.2h1.5v1.5h-1.5zM296.7 34.5h1.5v1.5h-1.5zM318.4 69.3h1.5v1.5h-1.5zM333.9 68.5h1.5v1.5h-1.5zM333.6 58.1h1.5v1.5h-1.5zM313.2 63.6h1.5v1.5h-1.5zM308.5 80.5h1.5v1.5h-1.5zM303.4 45.8h1.5v1.5h-1.5zM322.4 75.5h1.5v1.5h-1.5zM303.6 76.9h1.5v1.5h-1.5zM343.1 59.4h1.5v1.5h-1.5zM295.6 44.8h1.5v1.5h-1.5zM314.1 27.9h1.5v1.5h-1.5zM335.5 25.8h1.5v1.5h-1.5zM337.0 33.1h1.5v1.5h-1.5zM301.8 61.7h1.5v1.5h-1.5zM305.9 87.7h1.5v1.5h-1.5zM301.7 42.6h1.5v1.5h-1.5zM332.9 64.8h1.5v1.5h-1.5zM309.0 61.6h1.5v1.5h-1.5zM322.0 59.6h1.5v1.5h-1.5zM329.3 46.0h1.5v1.5h-1.5zM309.4 66.6h1.5v1.5h-1.5zM348.8 56.5h1.5v1.5h-1.5zM309.6 43.6h1.5v1.5h-1.5zM351.4 49.1h1.5v1.5h-1.5zM311.1 75.8h1.5v1.5h-1.5zM327.1 50.9h1.5v1.5h-1.5zM339.3 67.6h1.5v1.5h-1.5zM351.5 42.0h1.5v1.5h-1.5zM314.3 74.7h1.5v1.5h-1.5zM316.0 78.6h1.5v1.5h-1.5zM336.5 51.3h1.5v1.5h-1.5zM318.0 53.0h1.5v1.5h-1.5zM307.1 84.6h1.5v1.5h-1.5zM299.4 56.4h1.5v1.5h-1.5zM338.0 52.2h1.5v1.5h-1.5zM345.1 58.4h1.5v1.5h-1.5zM345.5 46.7h1.5v1.5h-1.5zM320.6 47.0h1.5v1.5h-1.5zM300.8 41.6h1.5v1.5h-1.5zM305.8 25.5h1.5v1.5h-1.5zM313.6 51.6h1.5v1.5h-1.5zM307.1 83.5h1.5v1.5h-1.5zM338.2 58.5h1.5v1.5h-1.5zM319.4 82.6h1.5v1.5h-1.5zM324.5 53.1h1.5v1.5h-1.5zM332.3 68.0h1.5v1.5h-1.5zM306.2 68.3h1.5v1.5h-1.5zM314.8 31.2h1.5v1.5h-1.5zM315.7 60.7h1.5v1.5h-1.5zM308.9 69.2h1.5v1.5h-1.5zM314.7 77.6h1.5v1.5h-1.5zM309.9 59.8h1.5v1.5h-1.5zM303.2 67.3h1.5v1.5h-1.5zM325.4 74.9h1.5v1.5h-1.5zM313.8 74.3h1.5v1.5h-1.5zM332.8 53.4h1.5v1.5h-1.5zM319.4 55.3h1.5v1.5h-1.5zM313.2 69.6h1.5v1.5h-1.5zM309.8 71.3h1.5v1.5h-1.5zM342.7 62.6h1.5v1.5h-1.5zM333.5 44.9h1.5v1.5h-1.5zM341.3 44.4h1.5v1.5h-1.5zM304.5 40.4h1.5v1.5h-1.5zM323.1 63.5h1.5v1.5h-1.5zM334.6 55.0h1.5v1.5h-1.5zM342.1 38.3h1.5v1.5h-1.5zM322.7 38.7h1.5v1.5h-1.5zM308.6 80.5h1.5v1.5h-1.5zM308.0 26.1h1.5v1.5h-1.5zM321.1 32.5h1.5v1.5h-1.5z" fill="#d4d4d4"/>
<path d="M324.8 78.4h1.5v1.5h-1.5zM302.0 46.7h1.5v1.5h-1.5zM304.4 63.2h1.5v1.5h-1.5zM339.1 67.0h1.5v1.5h-1.5zM313.3 66.5h1.5v1.5h-1.5zM321.9 59.2h1.5v1.5h-1.5zM307.9 59.5h1.5v1.5h-1.5zM322.2 56.6h1.5v1.5h-1.5zM341.1 59.4h1.5v1.5h-1.5zM331.8 71.8h1.5v1.5h-1.5zM305.0 62.9h1.5v1.5h-1.5zM335.0 72.0h1.5v1.5h-1.5zM328.8 69.9h1.5v1.5h-1.5zM314.8 56.3h1.5v1.5h-1.5zM317.1 33.7h1.5v1.5h-1.5zM319.2 79.3h1.5v1.5h-1.5zM316.2 61.8h1.5v1.5h-1.5zM322.8 32.2h1.5v1.5h-1.5zM301.2 69.3h1.5v1.5h-1.5zM347.0 42.2h1.5v1.5h-1.5zM335.8 35.5h1.5v1.5h-1.5zM299.2 53.3h1.5v1.5h-1.5zM309.1 85.0h1.5v1.5h-1.5zM340.7 45.4h1.5v1.5h-1.5zM319.0 49.4h1.5v1.5h-1.5zM333.5 74.9h1.5v1.5h-1.5zM303.3 48.3h1.5v1.5h-1.5zM348.8 45.7h1.5v1.5h-1.5zM354.0 48.4h1.5v1.5h-1.5zM321.7 65.4h1.5v1.5h-1.5zM302.6 71.2h1.5v1.5h-1.5zM326.9 34.5h1.5v1.5h-1.5zM316.2 48.7h1.5v1.5h-1.5zM336.3 71.0h1.5v1.5h-1.5zM327.8 57.5h1.5v1.5h-1.5zM326.4 28.5h1.5v1.5h-1.5zM295.6 38.9h1.5v1.5h-1.5zM309.7 37.5h1.5v1.5h-1.5zM329.1 60.0h1.5v1.5h-1.5zM328.7 70.2h1.5v1.5h-1.5zM317.4 60.9h1.5v1.5h-1.5zM333.5 53.0h1.5v1.5h-1.5zM307.3 25.6h1.5v1.5h-1.5zM318.9 41.6h1.5v1.5h-1.5zM325.4 70.3h1.5v1.5h-1.5zM339.9 66.0h1.5v1.5h-1.5zM319.8 39.3h1.5v1.5h-1.5zM316.3 80.5h1.5v1.5h-1.5zM302.7 43.5h1.5v1.5h-1.5zM303.6 66.8h1.5v1.5h-1.5zM309.0 65.8h1.5v1.5h-1.5zM330.7 65.5h1.5v1.5h-1.5zM321.1 47.6h1.5v1.5h-1.5zM328.6 59.3h1.5v1.5h-1.5zM315.4 39.9h1.5v1.5h-1.5zM327.1 57.6h1.5v1.5h-1.5zM327.6 39.9h1.5v1.5h-1.5zM307.2 72.5h1.5v1.5h-1.5zM322.8 66.9h1.5v1.5h-1.5zM302.0 55.8h1.5v1.5h-1.5zM300.4 25.7h1.5v1.5h-1.5zM352.0 62.0h1.5v1.5h-1.5zM340.8 53.2h1.5v1.5h-1.5zM336.3 56.8h1.5v1.5h-1.5zM321.7 79.4h1.5v1.5h-1.5zM331.7 57.9h1.5v1.5h-1.5zM312.0 37.9h1.5v1.5h-1.5zM344.8 63.9h1.5v1.5h-1.5zM311.1 75.6h1.5v1.5h-1.5zM307.6 47.9h1.5v1.5h-1.5zM319.0 74.6h1.5v1.5h-1.5zM328.9 54.8h1.5v1.5h-1.5zM302.0 43.6h1.5v1.5h-1.5zM333.6 60.5h1.5v1.5h-1.5zM305.1 66.5h1.5v1.5h-1.5zM320.8 33.1h1.5v1.5h-1.5zM322.6 40.1h1.5v1.5h-1.5zM336.0 58.4h1.5v1.5h-1.5zM313.4 84.7h1.5v1.5h-1.5zM306.0 65.6h1.5v1.5h-1.5zM342.6 60.4h1.5v1.5h-1.5zM329.4 65.9h1.5v1.5h-1.5zM315.4 54.8h1.5v1.5h-1.5zM303.5 75.6h1.5v1.5h-1.5zM299.3 38.3h1.5v1.5h-1.5zM320.8 60.7h1.5v1.5h-1.5zM306.8 55.0h1.5v1.5h-1.5zM318.6 54.5h1.5v1.5h-1.5zM314.3 56.7h1.5v1.5h-1.5zM338.5 56.7h1.5v1.5h-1.5zM316.5 79.0h1.5v1.5h-1.5zM308.2 37.2h1.5v1.5h-1.5zM342.7 68.0h1.5v1.5h-1.5zM336.7 61.1h1.5v1.5h-1.5zM339.9 62.0h1.5v1.5h-1.5zM317.6 62.2h1.5v1.5h-1.5zM299.4 57.1h1.5v1.5h-1.5zM322.5 74.3h1.5v1.5h-1.5zM312.6 36.4h1.5v1.5h-1.5zM311.2 84.8h1.5v1.5h-1.5zM305.7 60.2h1.5v1.5h-1.5zM332.0 53.6h1.5v1.5h-1.5zM309.8 37.9h1.5v1.5h-1.5zM312.8 40.5h1.5v1.5h-1.5zM334.2 65.8h1.5v1.5h-1.5zM312.1 42.9h1.5v1.5h-1.5zM333.1 34.1h1.5v1.5h-1.5zM339.4 46.8h1.5v1.5h-1.5zM325.5 57.9h1.5v1.5h-1.5zM316.8 31.0h1.5v1.5h-1.5zM326.3 54.6h1.5v1.5h-1.5zM327.1 53.4h1.5v1.5h-1.5zM322.8 72.1h1.5v1.5h-1.5zM309.2 65.6h1.5v1.5h-1.5zM322.8 42.9h1.5v1.5h-1.5zM321.0 73.3h1.5v1.5h-1.5zM315.8 72.1h1.5v1.5h-1.5zM323.6 54.8h1.5v1.5h-1.5zM342.8 59.4h1.5v1.5h-1.5zM306.1 42.0h1.5v1.5h-1.5zM304.4 79.7h1.5v1.5h-1.5zM302.4 60.2h1.5v1.5h-1.5zM304.5 68.4h1.5v1.5h-1.5zM324.0 47.2h1.5v1.5h-1.5zM319.4 28.2h1.5v1.5h-1.5zM339.7 53.8h1.5v1.5h-1.5zM342.4 42.5h1.5v1.5h-1.5zM309.7 68.3h1.5v1.5h-1.5zM314.9 81.1h1.5v1.5h-1.5zM338.5 65.2h1.5v1.5h-1.5zM309.5 70.0h1.5v1.5h-1.5zM326.3 69.9h1.5v1.5h-1.5zM320.7 67.3h1.5v1.5h-1.5zM300.3 42.4h1.5v1.5h-1.5zM326.3 59.6h1.5v1.5h-1.5zM342.7 60.8h1.5v1.5h-1.5zM303.5 56.7h1.5v1.5h-1.5zM312.6 66.3h1.5v1.5h-1.5zM323.4 50.9h1.5v1.5h-1.5zM319.1 74.4h1.5v1.5h-1.5zM342.6 39.3h1.5v1.5h-1.5zM318.0 43.2h1.5v1.5h-1.5zM308.8 40.5h1.5v1.5h-1.5zM323.4 32.8h1.5v1.5h-1.5zM296.7 36.4h1.5v1.5h-1.5zM343.9 34.5h1.5v1.5h-1.5zM337.1 54.1h1.5v1.5h-1.5zM335.7 71.1h1.5v1.5h-1.5zM337.8 61.7h1.5v1.5h-1.5zM346.9 47.2h1.5v1.5h-1.5zM348.7 41.1h1.5v1.5h-1.5zM352.2 40.8h1.5v1.5h-1.5zM299.1 25.7h1.5v1.5h-1.5zM311.9 48.7h1.5v1.5h-1.5zM327.1 65.3h1.5v1.5h-1.5zM339.3 62.1h1.5v1.5h-1.5zM325.2 63.7h1.5v1.5h-1.5zM333.5 68.0h1.5v1.5h-1.5zM312.1 51.3h1.5v1.5h-1.5zM321.2 25.8h1.5v1.5h-1.5zM302.7 74.8h1.5v1.5h-1.5zM310.8 26.9h1.5v1.5h-1.5zM343.0 69.2h1.5v1.5h-1.5zM305.6 68.2h1.5v1.5h-1.5zM311.1 77.6h1.5v1.5h-1.5zM337.3 56.0h1.5v1.5h-1.5zM310.4 82.4h1.5v1.5h-1.5zM318.8 60.2h1.5v1.5h-1.5zM308.7 79.4h1.5v1.5h-1.5zM321.2 61.3h1.5v1.5h-1.5zM310.4 50.2h1.5v1.5h-1.5zM322.2 38.7h1.5v1.5h-1.5zM305.3 66.0h1.5v1.5h-1.5zM299.8 62.3h1.5v1.5h-1.5zM328.8 60.0h1.5v1.5h-1.5zM318.6 57.7h1.5v1.5h-1.5zM310.0 63.0h1.5v1.5h-1.5zM327.8 52.6h1.5v1.5h-1.5zM334.1 49.4h1.5v1.5h-1.5zM347.5 60.2h1.5v1.5h-1.5zM317.6 44.1h1.5v1.5h-1.5zM306.5 58.0h1.5v1.5h-1.5zM312.9 28.2h1.5v1.5h-1.5zM318.5 47.8h1.5v1.5h-1.5zM309.7 76.9h1.5v1.5h-1.5zM310.7 82.7h1.5v1.5h-1.5zM299.8 46.4h1.5v1.5h-1.5zM316.2 74.5h1.5v1.5h-1.5zM339.3 33.3h1.5v1.5h-1.5zM344.5 66.6h1.5v1.5h-1.5zM349.4 48.9h1.5v1.5h-1.5zM306.7 49.3h1.5v1.5h-1.5zM315.4 45.9h1.5v1.5h-1.5zM307.7 85.6h1.5v1.5h-1.5zM312.7 38.8h1.5v1.5h-1.5zM312.9 47.2h1.5v1.5h-1.5zM333.0 74.0h1.5v1.5h-1.5zM337.7 47.5h1.5v1.5h-1.5zM304.2 75.4h1.5v1.5h-1.5zM313.2 50.5h1.5v1.5h-1.5zM357.6 59.4h1.5v1.5h-1.5zM339.0 66.0h1.5v1.5h-1.5zM307.0 77.2h1.5v1.5h-1.5zM303.2 58.9h1.5v1.5h-1.5zM358.0 54.3h1.5v1.5h-1.5zM319.5 58.5h1.5v1.5h-1.5zM315.3 25.0h1.5v1.5h-1.5zM310.4 40.0h1.5v1.5h-1.5zM351.4 44.0h1.5v1.5h-1.5zM319.7 50.3h1.5v1.5h-1.5zM314.0 69.5h1.5v1.5h-1.5zM337.5 30.6h1.5v1.5h-1.5zM342.3 59.7h1.5v1.5h-1.5zM339.4 47.8h1.5v1.5h-1.5zM311.9 35.6h1.5v1.5h-1.5zM325.0 58.2h1.5v1.5h-1.5zM304.2 88.9h1.5v1.5h-1.5zM317.1 43.5h1.5v1.5h-1.5zM317.0 60.0h1.5v1.5h-1.5zM300.3 24.6h1.5v1.5h-1.5zM326.7 47.3h1.5v1.5h-1.5zM306.2 23.6h1.5v1.5h-1.5zM318.1 40.3h1.5v1.5h-1.5zM339.0 71.9h1.5v1.5h-1.5zM319.0 56.5h1.5v1.5h-1.5zM308.0 35.4h1.5v1.5h-1.5zM349.0 58.3h1.5v1.5h-1.5zM335.1 43.6h1.5v1.5h-1.5zM338.4 56.6h1.5v1.5h-1.5zM318.8 76.3h1.5v1.5h-1.5zM302.4 70.9h1.5v1.5h-1.5zM335.3 73.6h1.5v1.5h-1.5zM315.5 24.0h1.5v1.5h-1.5zM350.9 31.6h1.5v1.5h-1.5zM319.4 70.1h1.5v1.5h-1.5zM330.7 62.9h1.5v1.5h-1.5zM321.3 36.8h1.5v1.5h-1.5zM306.9 85.8h1.5v1.5h-1.5zM309.1 64.4h1.5v1.5h-1.5zM341.1 68.6h1.5v1.5h-1.5zM312.8 83.3h1.5v1.5h-1.5zM333.0 70.1h1.5v1.5h-1.5zM353.2 31.6h1.5v1.5h-1.5zM304.0 57.9h1.5v1.5h-1.5zM305.9 62.4h1.5v1.5h-1.5zM302.9 85.2h1.5v1.5h-1.5zM302.0 68.0h1.5v1.5h-1.5zM301.3 43.1h1.5v1.5h-1.5zM354.4 41.8h1.5v1.5h-1.5zM303.9 76.8h1.5v1.5h-1.5zM302.7 77.2h1.5v1.5h-1.5zM347.4 46.0h1.5v1.5h-1.5zM311.3 84.0h1.5v1.5h-1.5zM341.2 59.0h1.5v1.5h-1.5zM309.4 27.2h1.5v1.5h-1.5zM304.2 87.4h1.5v1.5h-1.5zM343.8 41.1h1.5v1.5h-1.5zM308.3 43.5h1.5v1.5h-1.5zM307.1 85.6h1.5v1.5h-1.5zM311.9 60.0h1.5v1.5h-1.5zM303.3 55.7h1.5v1.5h-1.5zM330.4 54.2h1.5v1.5h-1.5zM305.7 58.3h1.5v1.5h-1.5zM306.4 78.4h1.5v1.5h-1.5zM322.6 77.9h1.5v1.5h-1.5zM334.6 65.2h1.5v1.5h-1.5zM353.6 41.7h1.5v1.5h-1.5zM325.5 75.8h1.5v1.5h-1.5zM306.5 58.8h1.5v1.5h-1.5zM318.5 52.6h1.5v1.5h-1.5zM321.5 39.6h1.5v1.5h-1.5zM301.5 55.1h1.5v1.5h-1.5zM301.8 72.7h1.5v1.5h-1.5zM320.6 57.6h1.5v1.5h-1.5zM353.9 24.5h1.5v1.5h-1.5zM330.2 36.5h1.5v1.5h-1.5zM330.7 45.8h1.5v1.5h-1.5zM305.7 65.6h1.5v1.5h-1.5zM328.1 75.1h1.5v1.5h-1.5zM341.5 63.1h1.5v1.5h-1.5zM341.4 43.5h1.5v1.5h-1.5zM300.2 55.2h1.5v1.5h-1.5zM306.2 68.8h1.5v1.5h-1.5zM327.2 77.3h1.5v1.5h-1.5zM318.2 49.5h1.5v1.5h-1.5zM334.2 66.0h1.5v1.5h-1.5zM312.2 71.1h1.5v1.5h-1.5zM314.1 71.6h1.5v1.5h-1.5zM314.9 50.2h1.5v1.5h-1.5zM314.9 69.4h1.5v1.5h-1.5zM306.8 67.1h1.5v1.5h-1.5zM329.6 65.0h1.5v1.5h-1.5zM319.7 74.9h1.5v1.5h-1.5zM342.4 39.9h1.5v1.5h-1.5zM323.8 77.3h1.5v1.5h-1.5zM354.4 63.0h1.5v1.5h-1.5zM321.6 49.1h1.5v1.5h-1.5zM301.0 61.8h1.5v1.5h-1.5zM315.5 72.1h1.5v1.5h-1.5zM313.9 79.0h1.5v1.5h-1.5zM302.9 61.2h1.5v1.5h-1.5zM299.5 51.1h1.5v1.5h-1.5zM352.3 57.3h1.5v1.5h-1.5zM332.2 68.7h1.5v1.5h-1.5zM305.7 74.8h1.5v1.5h-1.5zM319.4 62.7h1.5v1.5h-1.5zM321.3 60.4h1.5v1.5h-1.5zM320.6 50.1h1.5v1.5h-1.5zM326.6 75.1h1.5v1.5h-1.5zM314.9 50.0h1.5v1.5h-1.5zM312.7 72.3h1.5v1.5h-1.5zM304.0 66.3h1.5v1.5h-1.5zM325.5 69.1h1.5v1.5h-1.5zM314.4 58.2h1.5v1.5h-1.5zM316.6 31.2h1.5v1.5h-1.5zM317.3 48.4h1.5v1.5h-1.5zM325.6 48.3h1.5v1.5h-1.5zM356.4 49.4h1.5v1.5h-1.5zM349.0 39.3h1.5v1.5h-1.5zM320.9 46.7h1.5v1.5h-1.5zM341.7 47.7h1.5v1.5h-1.5zM320.2 73.0h1.5v1.5h-1.5zM337.4 56.8h1.5v1.5h-1.5zM304.9 37.4h1.5v1.5h-1.5zM332.7 57.4h1.5v1.5h-1.5zM311.6 28.8h1.5v1.5h-1.5zM317.2 78.9h1.5v1.5h-1.5zM315.9 70.7h1.5v1.5h-1.5zM324.3 60.9h1.5v1.5h-1.5zM325.7 78.2h1.5v1.5h-1.5zM306.1 50.9h1.5v1.5h-1.5zM299.9 74.9h1.5v1.5h-1.5zM306.8 25.0h1.5v1.5h-1.5zM305.1 82.7h1.5v1.5h-1.5zM305.1 60.1h1.5v1.5h-1.5zM321.8 77.9h1.5v1.5h-1.5zM302.2 88.9h1.5v1.5h-1.5zM302.0 85.0h1.5v1.5h-1.5zM335.8 50.0h1.5v1.5h-1.5zM337.1 60.9h1.5v1.5h-1.5zM340.7 44.1h1.5v1.5h-1.5zM298.2 50.3h1.5v1.5h-1.5zM299.9 69.0h1.5v1.5h-1.5zM352.5 62.4h1.5v1.5h-1.5zM307.1 36.7h1.5v1.5h-1.5zM333.4 44.5h1.5v1.5h-1.5zM310.9 85.3h1.5v1.5h-1.5zM298.0 50.4h1.5v1.5h-1.5zM351.7 59.7h1.5v1.5h-1.5zM307.7 84.1h1.5v1.5h-1.5zM303.9 71.3h1.5v1.5h-1.5zM337.3 51.2h1.5v1.5h-1.5zM305.0 62.4h1.5v1.5h-1.5zM332.5 30.5h1.5v1.5h-1.5zM300.1 72.7h1.5v1.5h-1.5zM333.5 69.4h1.5v1.5h-1.5zM329.2 69.8h1.5v1.5h-1.5zM310.7 84.9h1.5v1.5h-1.5zM355.8 39.6h1.5v1.5h-1.5zM324.4 66.1h1.5v1.5h-1.5zM297.0 41.3h1.5v1.5h-1.5zM303.8 55.3h1.5v1.5h-1.5zM326.3 72.6h1.5v1.5h-1.5zM327.6 58.8h1.5v1.5h-1.5zM348.9 54.9h1.5v1.5h-1.5zM337.4 38.9h1.5v1.5h-1.5zM329.4 77.3h1.5v1.5h-1.5zM303.1 34.6h1.5v1.5h-1.5zM310.8 50.5h1.5v1.5h-1.5zM303.3 57.2h1.5v1.5h-1.5zM336.4 64.4h1.5v1.5h-1.5zM350.3 57.8h1.5v1.5h-1.5zM335.7 24.5h1.5v1.5h-1.5zM319.3 76.8h1.5v1.5h-1.5zM303.3 88.2h1.5v1.5h-1.5zM349.9 41.5h1.5v1.5h-1.5zM297.9 38.2h1.5v1.5h-1.5zM340.1 69.9h1.5v1.5h-1.5zM325.8 57.2h1.5v1.5h-1.5zM296.1 32.8h1.5v1.5h-1.5zM299.2 47.0h1.5v1.5h-1.5zM306.9 63.2h1.5v1.5h-1.5zM302.1 70.5h1.5v1.5h-1.5zM326.0 44.2h1.5v1.5h-1.5zM331.3 76.6h1.5v1.5h-1.5zM317.2 56.1h1.5v1.5h-1.5zM355.0 62.3h1.5v1.5h-1.5zM321.5 70.7h1.5v1.5h-1.5zM311.5 46.9h1.5v1.5h-1.5zM336.3 34.7h1.5v1.5h-1.5zM309.4 67.1h1.5v1.5h-1.5zM332.1 38.4h1.5v1.5h-1.5zM346.5 51.2h1.5v1.5h-1.5zM315.9 68.8h1.5v1.5h-1.5zM318.4 48.6h1.5v1.5h-1.5zM331.0 48.3h1.5v1.5h-1.5zM328.0 45.9h1.5v1.5h-1.5zM331.7 50.6h1.5v1.5h-1.5zM315.8 58.3h1.5v1.5h-1.5zM301.9 68.9h1.5v1.5h-1.5zM345.9 65.2h1.5v1.5h-1.5zM345.0 51.1h1.5v1.5h-1.5zM314.3 45.0h1.5v1.5h-1.5zM340.5 63.9h1.5v1.5h-1.5zM334.0 42.8h1.5v1.5h-1.5zM338.7 35.8h1.5v1.5h-1.5zM331.1 39.7h1.5v1.5h-1.5zM341.9 59.2h1.5v1.5h-1.5zM339.8 47.2h1.5v1.5h-1.5zM308.0 58.8h1.5v1.5h-1.5zM309.8 79.4h1.5v1.5h-1.5zM312.8 77.1h1.5v1.5h-1.5zM319.4 50.8h1.5v1.5h-1.5zM300.3 29.7h1.5v1.5h-1.5zM338.8 58.0h1.5v1.5h-1.5zM312.1 78.5h1.5v1.5h-1.5zM320.6 53.2h1.5v1.5h-1.5zM303.8 53.4h1.5v1.5h-1.5zM308.5 35.4h1.5v1.5h-1.5zM310.7 67.3h1.5v1.5h-1.5zM309.9 73.8h1.5v1.5h-1.5zM304.4 55.3h1.5v1.5h-1.5zM306.1 63.8h1.5v1.5h-1.5zM314.0 79.1h1.5v1.5h-1.5zM316.8 36.4h1.5v1.5h-1.5zM335.3 61.0h1.5v1.5h-1.5zM304.5 42.3h1.5v1.5h-1.5zM356.9 38.9h1.5v1.5h-1.5zM322.4 54.0h1.5v1.5h-1.5zM342.5 63.5h1.5v1.5h-1.5z" fill="#e0e0e0"/>
<path d="M308.9 70.4h1.5v1.5h-1.5zM315.2 71.8h1.5v1.5h-1.5zM347.1 36.1h1.5v1.5h-1.5zM311.1 81.7h1.5v1.5h-1.5zM335.5 73.0h1.5v1.5h-1.5zM310.9 73.5h1.5v1.5h-1.5zM315.2 55.3h1.5v1.5h-1.5zM316.1 53.5h1.5v1.5h-1.5zM328.2 65.0h1.5v1.5h-1.5zM311.6 37.1h1.5v1.5h-1.5zM342.2 45.1h1.5v1.5h-1.5zM311.5 76.4h1.5v1.5h-1.5zM333.3 48.2h1.5v1.5h-1.5zM307.6 61.7h1.5v1.5h-1.5zM319.5 51.5h1.5v1.5h-1.5zM332.2 35.2h1.5v1.5h-1.5zM331.9 72.1h1.5v1.5h-1.5zM305.7 69.3h1.5v1.5h-1.5zM349.2 35.1h1.5v1.5h-1.5zM314.1 37.5h1.5v1.5h-1.5zM313.0 85.6h1.5v1.5h-1.5zM343.1 52.5h1.5v1.5h-1.5zM333.1 73.7h1.5v1.5h-1.5zM323.0 66.1h1.5v1.5h-1.5zM305.9 80.6h1.5v1.5h-1.5zM333.0 34.0h1.5v1.5h-1.5zM302.0 35.9h1.5v1.5h-1.5zM330.3 76.7h1.5v1.5h-1.5zM344.1 61.1h1.5v1.5h-1.5zM314.5 36.7h1.5v1.5h-1.5zM315.1 79.4h1.5v1.5h-1.5zM307.2 75.2h1.5v1.5h-1.5zM309.8 71.1h1.5v1.5h-1.5zM300.6 28.7h1.5v1.5h-1.5zM309.3 76.2h1.5v1.5h-1.5zM346.0 45.0h1.5v1.5h-1.5zM322.6 54.1h1.5v1.5h-1.5zM310.6 42.6h1.5v1.5h-1.5zM316.1 35.9h1.5v1.5h-1.5zM313.2 85.5h1.5v1.5h-1.5zM320.7 41.4h1.5v1.5h-1.5zM319.2 77.9h1.5v1.5h-1.5zM315.1 46.0h1.5v1.5h-1.5zM348.9 60.2h1.5v1.5h-1.5zM310.5 69.3h1.5v1.5h-1.5zM299.5 73.0h1.5v1.5h-1.5zM304.1 54.6h1.5v1.5h-1.5zM319.5 81.3h1.5v1.5h-1.5zM308.1 71.9h1.5v1.5h-1.5zM321.6 24.8h1.5v1.5h-1.5zM306.6 59.0h1.5v1.5h-1.5zM312.7 63.2h1.5v1.5h-1.5zM307.2 31.8h1.5v1.5h-1.5zM307.2 85.2h1.5v1.5h-1.5zM332.0 57.2h1.5v1.5h-1.5zM334.4 43.7h1.5v1.5h-1.5zM306.5 48.2h1.5v1.5h-1.5zM314.0 62.9h1.5v1.5h-1.5zM302.1 39.5h1.5v1.5h-1.5zM349.5 59.3h1.5v1.5h-1.5zM319.2 67.7h1.5v1.5h-1.5zM292.5 23.5h1.5v1.5h-1.5zM313.5 33.2h1.5v1.5h-1.5zM329.8 38.9h1.5v1.5h-1.5zM309.1 74.2h1.5v1.5h-1.5zM320.7 68.5h1.5v1.5h-1.5zM303.4 51.8h1.5v1.5h-1.5zM322.6 61.8h1.5v1.5h-1.5zM323.5 51.3h1.5v1.5h-1.5zM309.4 70.9h1.5v1.5h-1.5zM318.6 41.7h1.5v1.5h-1.5zM329.2 40.1h1.5v1.5h-1.5zM315.9 71.3h1.5v1.5h-1.5zM335.2 54.8h1.5v1.5h-1.5zM310.2 41.2h1.5v1.5h-1.5zM329.6 74.2h1.5v1.5h-1.5zM320.9 70.6h1.5v1.5h-1.5zM313.7 44.7h1.5v1.5h-1.5zM309.5 67.6h1.5v1.5h-1.5zM323.3 54.5h1.5v1.5h-1.5zM356.0 51.9h1.5v1.5h-1.5zM310.4 61.6h1.5v1.5h-1.5zM304.7 35.3h1.5v1.5h-1.5zM349.9 67.9h1.5v1.5h-1.5zM341.9 39.5h1.5v1.5h-1.5zM349.5 56.1h1.5v1.5h-1.5zM317.7 32.2h1.5v1.5h-1.5zM327.9 64.5h1.5v1.5h-1.5zM307.4 58.7h1.5v1.5h-1.5zM332.0 66.5h1.5v1.5h-1.5zM304.5 61.9h1.5v1.5h-1.5zM345.3 61.4h1.5v1.5h-1.5zM313.6 51.1h1.5v1.5h-1.5zM344.5 59.6h1.5v1.5h-1.5zM307.3 52.8h1.5v1.5h-1.5zM317.0 78.6h1.5v1.5h-1.5zM343.3 52.2h1.5v1.5h-1.5zM326.6 75.1h1.5v1.5h-1.5zM306.7 55.4h1.5v1.5h-1.5zM332.2 72.2h1.5v1.5h-1.5zM325.1 50.0h1.5v1.5h-1.5zM323.3 82.6h1.5v1.5h-1.5zM337.1 54.2h1.5v1.5h-1.5zM347.9 59.4h1.5v1.5h-1.5zM344.3 64.1h1.5v1.5h-1.5zM298.8 59.4h1.5v1.5h-1.5zM308.4 80.9h1.5v1.5h-1.5zM308.1 51.5h1.5v1.5h-1.5zM335.2 42.9h1.5v1.5h-1.5zM333.3 71.5h1.5v1.5h-1.5zM329.5 68.4h1.5v1.5h-1.5zM310.1 83.2h1.5v1.5h-1.5zM314.6 61.8h1.5v1.5h-1.5zM350.9 44.0h1.5v1.5h-1.5zM330.3 61.4h1.5v1.5h-1.5zM322.5 26.7h1.5v1.5h-1.5zM309.6 70.2h1.5v1.5h-1.5zM301.9 88.4h1.5v1.5h-1.5zM299.6 63.7h1.5v1.5h-1.5zM321.9 47.1h1.5v1.5h-1.5zM314.3 38.0h1.5v1.5h-1.5zM308.9 88.4h1.5v1.5h-1.5zM307.5 64.4h1.5v1.5h-1.5zM326.1 30.9h1.5v1.5h-1.5zM325.8 63.0h1.5v1.5h-1.5zM297.5 32.4h1.5v1.5h-1.5zM333.0 64.2h1.5v1.5h-1.5zM311.5 33.4h1.5v1.5h-1.5zM320.1 82.0h1.5v1.5h-1.5zM320.1 36.2h1.5v1.5h-1.5zM308.2 83.8h1.5v1.5h-1.5zM298.8 69.6h1.5v1.5h-1.5zM312.5 74.2h1.5v1.5h-1.5zM317.0 42.9h1.5v1.5h-1.5zM333.1 47.4h1.5v1.5h-1.5zM304.5 76.3h1.5v1.5h-1.5zM342.3 68.0h1.5v1.5h-1.5zM304.6 84.8h1.5v1.5h-1.5zM326.9 37.7h1.5v1.5h-1.5zM304.6 47.0h1.5v1.5h-1.5zM337.5 45.2h1.5v1.5h-1.5zM308.5 58.6h1.5v1.5h-1.5zM341.6 54.3h1.5v1.5h-1.5zM303.0 49.9h1.5v1.5h-1.5zM326.6 65.0h1.5v1.5h-1.5zM317.8 64.4h1.5v1.5h-1.5zM309.4 35.0h1.5v1.5h-1.5zM318.1 81.0h1.5v1.5h-1.5zM324.7 76.1h1.5v1.5h-1.5zM317.0 57.5h1.5v1.5h-1.5zM320.4 24.8h1.5v1.5h-1.5zM310.8 59.9h1.5v1.5h-1.5zM307.3 73.7h1.5v1.5h-1.5zM327.0 61.8h1.5v1.5h-1.5zM326.5 70.0h1.5v1.5h-1.5zM321.5 72.5h1.5v1.5h-1.5zM326.7 75.1h1.5v1.5h-1.5zM305.9 65.8h1.5v1.5h-1.5zM326.2 54.5h1.5v1.5h-1.5zM309.1 30.3h1.5v1.5h-1.5zM302.2 27.1h1.5v1.5h-1.5zM320.6 64.1h1.5v1.5h-1.5zM335.9 70.7h1.5v1.5h-1.5zM326.7 56.0h1.5v1.5h-1.5zM331.3 51.9h1.5v1.5h-1.5zM318.6 34.8h1.5v1.5h-1.5zM337.2 55.3h1.5v1.5h-1.5zM329.4 42.8h1.5v1.5h-1.5zM305.6 81.7h1.5v1.5h-1.5zM320.8 73.4h1.5v1.5h-1.5zM303.4 67.5h1.5v1.5h-1.5zM301.8 71.0h1.5v1.5h-1.5zM308.7 32.0h1.5v1.5h-1.5zM303.4 64.7h1.5v1.5h-1.5zM324.7 74.0h1.5v1.5h-1.5zM300.4 52.3h1.5v1.5h-1.5zM304.7 60.1h1.5v1.5h-1.5zM342.3 31.1h1.5v1.5h-1.5zM331.2 62.8h1.5v1.5h-1.5zM318.6 54.3h1.5v1.5h-1.5zM351.7 43.4h1.5v1.5h-1.5zM320.5 63.8h1.5v1.5h-1.5zM330.8 75.2h1.5v1.5h-1.5zM322.1 57.5h1.5v1.5h-1.5zM321.7 40.0h1.5v1.5h-1.5zM312.3 80.2h1.5v1.5h-1.5zM331.1 55.6h1.5v1.5h-1.5zM303.9 27.4h1.5v1.5h-1.5zM304.9 44.9h1.5v1.5h-1.5zM338.2 69.0h1.5v1.5h-1.5zM312.1 63.6h1.5v1.5h-1.5zM305.0 54.0h1.5v1.5h-1.5zM325.1 54.4h1.5v1.5h-1.5zM312.8 64.0h1.5v1.5h-1.5zM311.4 86.4h1.5v1.5h-1.5zM309.7 61.0h1.5v1.5h-1.5zM350.0 47.5h1.5v1.5h-1.5zM317.5 60.8h1.5v1.5h-1.5zM313.8 46.8h1.5v1.5h-1.5zM342.2 53.2h1.5v1.5h-1.5zM302.8 85.2h1.5v1.5h-1.5zM302.9 65.3h1.5v1.5h-1.5zM312.9 44.7h1.5v1.5h-1.5zM310.9 63.7h1.5v1.5h-1.5zM307.7 80.5h1.5v1.5h-1.5zM311.8 54.2h1.5v1.5h-1.5zM314.7 79.8h1.5v1.5h-1.5zM294.8 35.7h1.5v1.5h-1.5zM300.2 63.1h1.5v1.5h-1.5zM330.0 45.4h1.5v1.5h-1.5zM355.4 29.2h1.5v1.5h-1.5zM337.1 34.6h1.5v1.5h-1.5zM355.9 61.8h1.5v1.5h-1.5zM318.0 56.3h1.5v1.5h-1.5zM333.1 69.3h1.5v1.5h-1.5zM313.8 48.3h1.5v1.5h-1.5zM351.7 56.2h1.5v1.5h-1.5zM332.7 49.3h1.5v1.5h-1.5zM309.7 55.7h1.5v1.5h-1.5zM308.4 32.1h1.5v1.5h-1.5zM320.9 50.7h1.5v1.5h-1.5zM301.2 49.9h1.5v1.5h-1.5zM341.2 57.5h1.5v1.5h-1.5zM323.5 25.3h1.5v1.5h-1.5zM295.3 42.8h1.5v1.5h-1.5zM307.6 77.3h1.5v1.5h-1.5zM305.0 31.7h1.5v1.5h-1.5zM338.0 28.2h1.5v1.5h-1.5zM335.4 69.3h1.5v1.5h-1.5zM350.5 60.1h1.5v1.5h-1.5zM323.0 56.9h1.5v1.5h-1.5zM309.7 37.5h1.5v1.5h-1.5zM331.3 75.3h1.5v1.5h-1.5zM329.0 55.6h1.5v1.5h-1.5zM332.3 69.3h1.5v1.5h-1.5zM305.4 52.8h1.5v1.5h-1.5zM321.9 44.5h1.5v1.5h-1.5zM334.7 70.5h1.5v1.5h-1.5zM348.0 57.1h1.5v1.5h-1.5zM322.3 78.3h1.5v1.5h-1.5zM321.4 38.2h1.5v1.5h-1.5zM330.9 53.0h1.5v1.5h-1.5zM319.9 77.5h1.5v1.5h-1.5zM341.6 68.3h1.5v1.5h-1.5zM308.1 27.5h1.5v1.5h-1.5zM304.7 40.7h1.5v1.5h-1.5zM296.4 34.0h1.5v1.5h-1.5zM349.0 52.6h1.5v1.5h-1.5zM297.5 38.4h1.5v1.5h-1.5zM326.0 55.9h1.5v1.5h-1.5zM309.3 58.9h1.5v1.5h-1.5zM310.9 64.4h1.5v1.5h-1.5zM310.7 39.7h1.5v1.5h-1.5zM316.9 82.1h1.5v1.5h-1.5zM332.7 41.6h1.5v1.5h-1.5zM336.1 52.9h1.5v1.5h-1.5zM329.1 66.2h1.5v1.5h-1.5zM312.5 76.0h1.5v1.5h-1.5zM303.1 34.1h1.5v1.5h-1.5zM321.0 74.4h1.5v1.5h-1.5zM318.6 76.9h1.5v1.5h-1.5zM352.2 50.8h1.5v1.5h-1.5zM315.8 23.6h1.5v1.5h-1.5zM309.8 30.7h1.5v1.5h-1.5zM316.2 81.5h1.5v1.5h-1.5zM334.2 45.3h1.5v1.5h-1.5zM309.7 29.3h1.5v1.5h-1.5zM331.8 53.9h1.5v1.5h-1.5zM333.8 34.5h1.5v1.5h-1.5zM320.0 63.3h1.5v1.5h-1.5zM303.5 61.0h1.5v1.5h-1.5zM300.2 58.5h1.5v1.5h-1.5zM324.4 76.4h1.5v1.5h-1.5zM321.4 51.3h1.5v1.5h-1.5zM317.7 43.2h1.5v1.5h-1.5zM322.8 50.1h1.5v1.5h-1.5zM312.6 86.5h1.5v1.5h-1.5zM349.0 61.1h1.5v1.5h-1.5zM306.4 41.4h1.5v1.5h-1.5zM326.3 43.3h1.5v1.5h-1.5zM314.2 59.1h1.5v1.5h-1.5zM304.0 86.5h1.5v1.5h-1.5zM303.4 49.4h1.5v1.5h-1.5zM332.5 54.8h1.5v1.5h-1.5zM356.8 47.7h1.5v1.5h-1.5zM334.0 50.7h1.5v1.5h-1.5zM302.3 69.4h1.5v1.5h-1.5zM349.1 33.6h1.5v1.5h-1.5zM321.8 58.7h1.5v1.5h-1.5zM309.6 54.1h1.5v1.5h-1.5zM312.3 70.7h1.5v1.5h-1.5zM349.6 64.7h1.5v1.5h-1.5zM348.3 47.9h1.5v1.5h-1.5zM319.5 45.9h1.5v1.5h-1.5zM300.7 69.1h1.5v1.5h-1.5zM310.3 58.9h1.5v1.5h-1.5zM356.5 33.1h1.5v1.5h-1.5zM332.3 48.7h1.5v1.5h-1.5zM315.8 62.3h1.5v1.5h-1.5zM343.7 63.6h1.5v1.5h-1.5zM347.2 46.5h1.5v1.5h-1.5zM305.1 78.4h1.5v1.5h-1.5zM322.4 69.2h1.5v1.5h-1.5zM321.3 65.1h1.5v1.5h-1.5zM348.3 25.2h1.5v1.5h-1.5zM314.6 30.1h1.5v1.5h-1.5zM325.4 31.7h1.5v1.5h-1.5zM313.2 32.5h1.5v1.5h-1.5zM302.5 46.0h1.5v1.5h-1.5zM337.9 31.1h1.5v1.5h-1.5zM301.9 89.5h1.5v1.5h-1.5zM316.8 65.7h1.5v1.5h-1.5zM300.3 57.0h1.5v1.5h-1.5zM324.4 27.4h1.5v1.5h-1.5zM322.7 60.8h1.5v1.5h-1.5zM323.2 63.7h1.5v1.5h-1.5zM341.1 51.6h1.5v1.5h-1.5zM327.9 61.6h1.5v1.5h-1.5zM340.7 32.3h1.5v1.5h-1.5zM334.8 67.4h1.5v1.5h-1.5zM337.8 68.7h1.5v1.5h-1.5zM313.6 33.7h1.5v1.5h-1.5zM311.9 84.2h1.5v1.5h-1.5zM301.8 67.7h1.5v1.5h-1.5zM335.1 73.5h1.5v1.5h-1.5zM333.9 69.4h1.5v1.5h-1.5zM338.6 48.6h1.5v1.5h-1.5zM331.8 55.5h1.5v1.5h-1.5zM302.0 89.2h1.5v1.5h-1.5zM323.2 60.3h1.5v1.5h-1.5zM311.2 61.7h1.5v1.5h-1.5zM319.0 59.2h1.5v1.5h-1.5zM314.3 69.0h1.5v1.5h-1.5zM351.1 48.4h1.5v1.5h-1.5zM320.5 39.4h1.5v1.5h-1.5zM329.0 74.2h1.5v1.5h-1.5zM315.7 60.4h1.5v1.5h-1.5zM316.0 46.1h1.5v1.5h-1.5zM313.5 39.2h1.5v1.5h-1.5zM351.2 43.9h1.5v1.5h-1.5zM337.9 51.8h1.5v1.5h-1.5zM300.2 80.2h1.5v1.5h-1.5zM321.7 35.3h1.5v1.5h-1.5zM321.2 63.8h1.5v1.5h-1.5zM304.2 89.2h1.5v1.5h-1.5zM312.4 82.9h1.5v1.5h-1.5zM352.3 61.7h1.5v1.5h-1.5zM343.6 66.6h1.5v1.5h-1.5zM330.5 67.2h1.5v1.5h-1.5zM331.2 57.0h1.5v1.5h-1.5zM303.6 63.9h1.5v1.5h-1.5zM354.7 40.2h1.5v1.5h-1.5zM322.5 73.6h1.5v1.5h-1.5zM347.6 59.0h1.5v1.5h-1.5zM308.8 44.6h1.5v1.5h-1.5zM323.1 50.9h1.5v1.5h-1.5zM323.7 44.1h1.5v1.5h-1.5zM331.4 66.4h1.5v1.5h-1.5zM315.5 80.9h1.5v1.5h-1.5zM357.8 41.5h1.5v1.5h-1.5zM318.0 49.1h1.5v1.5h-1.5zM322.6 42.9h1.5v1.5h-1.5zM332.7 51.4h1.5v1.5h-1.5zM306.8 82.6h1.5v1.5h-1.5zM331.8 59.7h1.5v1.5h-1.5zM356.5 48.0h1.5v1.5h-1.5zM302.6 49.8h1.5v1.5h-1.5zM315.5 34.8h1.5v1.5h-1.5zM341.8 64.7h1.5v1.5h-1.5zM309.0 75.4h1.5v1.5h-1.5zM302.5 61.9h1.5v1.5h-1.5zM307.9 42.4h1.5v1.5h-1.5zM298.4 36.4h1.5v1.5h-1.5zM332.9 46.0h1.5v1.5h-1.5zM331.3 57.7h1.5v1.5h-1.5zM303.8 69.5h1.5v1.5h-1.5zM341.8 60.0h1.5v1.5h-1.5zM304.0 64.9h1.5v1.5h-1.5zM304.4 48.8h1.5v1.5h-1.5zM319.6 71.8h1.5v1.5h-1.5zM316.7 58.3h1.5v1.5h-1.5zM304.5 50.5h1.5v1.5h-1.5zM328.0 69.6h1.5v1.5h-1.5zM313.4 38.2h1.5v1.5h-1.5zM323.0 56.1h1.5v1.5h-1.5zM333.3 72.0h1.5v1.5h-1.5zM302.2 66.8h1.5v1.5h-1.5zM305.4 62.3h1.5v1.5h-1.5zM332.5 72.9h1.5v1.5h-1.5zM328.9 55.2h1.5v1.5h-1.5zM345.2 52.8h1.5v1.5h-1.5zM321.4 43.2h1.5v1.5h-1.5zM321.4 75.3h1.5v1.5h-1.5zM300.2 70.2h1.5v1.5h-1.5zM326.7 46.8h1.5v1.5h-1.5zM341.4 43.4h1.5v1.5h-1.5zM323.0 70.1h1.5v1.5h-1.5zM306.5 58.3h1.5v1.5h-1.5zM317.7 65.8h1.5v1.5h-1.5zM306.3 69.3h1.5v1.5h-1.5zM304.0 85.1h1.5v1.5h-1.5zM355.1 58.1h1.5v1.5h-1.5zM310.7 54.0h1.5v1.5h-1.5zM338.5 63.7h1.5v1.5h-1.5zM303.3 90.1h1.5v1.5h-1.5zM343.1 57.9h1.5v1.5h-1.5zM304.0 85.4h1.5v1.5h-1.5zM319.9 52.3h1.5v1.5h-1.5zM351.6 52.3h1.5v1.5h-1.5zM335.7 69.7h1.5v1.5h-1.5zM314.2 40.1h1.5v1.5h-1.5zM350.7 38.0h1.5v1.5h-1.5zM327.0 27.4h1.5v1.5h-1.5zM315.3 42.4h1.5v1.5h-1.5zM326.4 58.4h1.5v1.5h-1.5zM332.9 75.8h1.5v1.5h-1.5zM323.4 60.5h1.5v1.5h-1.5zM338.0 73.2h1.5v1.5h-1.5zM341.7 62.9h1.5v1.5h-1.5zM355.4 56.8h1.5v1.5h-1.5zM333.0 63.0h1.5v1.5h-1.5zM305.5 28.4h1.5v1.5h-1.5zM306.7 37.4h1.5v1.5h-1.5zM315.5 34.6h1.5v1.5h-1.5zM306.3 30.9h1.5v1.5h-1.5zM313.7 68.8h1.5v1.5h-1.5zM303.6 64.3h1.5v1.5h-1.5zM304.7 88.1h1.5v1.5h-1.5zM329.5 50.7h1.5v1.5h-1.5zM354.7 47.8h1.5v1.5h-1.5zM344.8 40.6h1.5v1.5h-1.5zM313.2 34.1h1.5v1.5h-1.5zM340.5 47.4h1.5v1.5h-1.5zM328.1 42.8h1.5v1.5h-1.5zM310.4 64.8h1.5v1.5h-1.5zM314.8 29.8h1.5v1.5h-1.5zM326.9 66.6h1.5v1.5h-1.5zM306.4 71.7h1.5v1.5h-1.5zM304.4 43.6h1.5v1.5h-1.5zM308.9 36.0h1.5v1.5h-1.5zM318.0 75.5h1.5v1.5h-1.5zM317.3 40.6h1.5v1.5h-1.5zM350.8 56.5h1.5v1.5h-1.5zM311.6 57.9h1.5v1.5h-1.5zM351.0 43.6h1.5v1.5h-1.5zM337.3 58.1h1.5v1.5h-1.5zM321.6 28.4h1.5v1.5h-1.5zM342.9 60.7h1.5v1.5h-1.5zM312.0 32.5h1.5v1.5h-1.5zM299.7 45.2h1.5v1.5h-1.5zM338.6 49.4h1.5v1.5h-1.5zM308.2 64.8h1.5v1.5h-1.5zM345.3 53.0h1.5v1.5h-1.5zM303.7 50.5h1.5v1.5h-1.5z" fill="#dadada"/>
</g>
<rect x="291.00" y="23.50" width="67.90" height="67.00" fill="none" stroke="#3c3c3c" stroke-width="1.0"/>
<g filter="url(#bl10)">
<polygon points="316.0,80.0 322.0,72.0 330.0,66.0 336.0,66.0 334.0,72.0 326.0,80.0 318.0,83.0" fill="#eeeef8"/>
</g>
<path d="M327.1 79.0h1.4v1.4h-1.4zM324.0 76.3h1.4v1.4h-1.4zM329.5 71.0h1.4v1.4h-1.4z" fill="#ffffff"/>
<path d="M332.6 66.2h1.4v1.4h-1.4zM328.6 69.3h1.4v1.4h-1.4zM329.6 75.5h1.4v1.4h-1.4zM326.7 78.1h1.4v1.4h-1.4zM331.2 69.5h1.4v1.4h-1.4zM326.8 69.1h1.4v1.4h-1.4zM327.8 71.6h1.4v1.4h-1.4z" fill="#c8c8e8"/>
<path d="M323.8 75.2h1.4v1.4h-1.4zM328.3 68.3h1.4v1.4h-1.4zM328.8 71.2h1.4v1.4h-1.4zM333.8 67.9h1.4v1.4h-1.4zM319.4 75.6h1.4v1.4h-1.4zM330.8 67.0h1.4v1.4h-1.4zM325.1 72.9h1.4v1.4h-1.4zM329.9 72.5h1.4v1.4h-1.4zM322.5 80.7h1.4v1.4h-1.4zM329.2 68.8h1.4v1.4h-1.4zM328.6 71.2h1.4v1.4h-1.4z" fill="#3a3a88"/>
<path d="M322.4 75.5h1.4v1.4h-1.4zM321.9 71.2h1.4v1.4h-1.4zM324.9 79.4h1.4v1.4h-1.4zM328.8 68.6h1.4v1.4h-1.4zM317.0 74.3h1.4v1.4h-1.4zM330.5 73.6h1.4v1.4h-1.4zM324.8 68.0h1.4v1.4h-1.4zM332.7 76.1h1.4v1.4h-1.4z" fill="#5a5aa0"/>
<path d="M317.0 79.4h1.4v1.4h-1.4zM332.2 73.1h1.4v1.4h-1.4zM330.9 74.3h1.4v1.4h-1.4zM326.3 72.2h1.4v1.4h-1.4zM330.1 70.0h1.4v1.4h-1.4z" fill="#a0a0d0"/>
<path d="M323.2 76.1h1.4v1.4h-1.4zM329.9 68.1h1.4v1.4h-1.4zM328.0 78.3h1.4v1.4h-1.4zM326.7 67.6h1.4v1.4h-1.4zM320.3 76.3h1.4v1.4h-1.4zM330.6 66.3h1.4v1.4h-1.4zM325.0 74.0h1.4v1.4h-1.4zM327.8 72.0h1.4v1.4h-1.4z" fill="#2a2a70"/>
<path d="M328.2 71.3h1.4v1.4h-1.4zM324.7 73.7h1.4v1.4h-1.4z" fill="#7878b8"/>
<path d="M310.6 83.3h1.2v1.2h-1.2zM313.7 83.0h1.2v1.2h-1.2zM314.4 81.7h1.2v1.2h-1.2zM320.0 79.4h1.2v1.2h-1.2zM311.5 85.4h1.2v1.2h-1.2z" fill="#bca080"/>
<path d="M312.7 84.0h1.2v1.2h-1.2zM319.3 78.6h1.2v1.2h-1.2zM317.4 80.1h1.2v1.2h-1.2z" fill="#c8a888"/>
<path d="M313.4 84.4h1.2v1.2h-1.2zM311.2 83.4h1.2v1.2h-1.2zM313.4 83.1h1.2v1.2h-1.2z" fill="#d8b898"/>
<path d="M319.4 79.2h1.2v1.2h-1.2z" fill="#d0b090"/>
<path d="M304.4 74.0h1.1v1.1h-1.1zM306.5 74.8h1.1v1.1h-1.1zM308.1 73.4h1.1v1.1h-1.1z" fill="#d0b090"/>
<path d="M302.4 75.2h1.1v1.1h-1.1zM304.4 78.1h1.1v1.1h-1.1z" fill="#a0a0a0"/>
<path d="M284.90 85.60 V97.10 H296.00" fill="none" stroke="#262626" stroke-width="1.2"/>
<path d="M284.90 82.60 L283.45 86.30 L286.35 86.30 Z" fill="#262626"/>
<path d="M299.00 97.10 L295.30 95.65 L295.30 98.55 Z" fill="#262626"/>
<text x="302.30" y="99.60" font-size="9.9" fill="#2a2a2a" textLength="21.2" lengthAdjust="spacingAndGlyphs">FSC-A</text>
<text x="287.90" y="80.40" font-size="9.9" fill="#2a2a2a" textLength="21.9" lengthAdjust="spacingAndGlyphs" transform="rotate(-90 287.90 80.40)">SSC-A</text>
<g filter="url(#bl6)">
<path d="M413.0 78.1h1.7v1.7h-1.7zM415.6 51.0h1.7v1.7h-1.7zM411.2 53.3h1.7v1.7h-1.7zM421.5 58.6h1.7v1.7h-1.7zM403.2 61.2h1.7v1.7h-1.7zM413.7 30.0h1.7v1.7h-1.7zM407.0 58.1h1.7v1.7h-1.7zM415.3 62.8h1.7v1.7h-1.7zM405.0 63.6h1.7v1.7h-1.7zM411.1 61.2h1.7v1.7h-1.7zM403.4 52.5h1.7v1.7h-1.7zM424.4 43.7h1.7v1.7h-1.7zM415.2 31.7h1.7v1.7h-1.7zM427.9 47.0h1.7v1.7h-1.7zM415.1 54.9h1.7v1.7h-1.7zM402.4 36.3h1.7v1.7h-1.7zM410.5 64.5h1.7v1.7h-1.7zM429.5 47.9h1.7v1.7h-1.7zM408.7 25.9h1.7v1.7h-1.7zM433.4 48.1h1.7v1.7h-1.7zM405.8 56.0h1.7v1.7h-1.7zM409.5 73.9h1.7v1.7h-1.7zM412.2 60.1h1.7v1.7h-1.7zM407.1 61.1h1.7v1.7h-1.7zM439.3 47.9h1.7v1.7h-1.7zM405.8 63.1h1.7v1.7h-1.7zM409.2 52.9h1.7v1.7h-1.7zM404.4 52.7h1.7v1.7h-1.7zM435.8 51.3h1.7v1.7h-1.7zM409.6 72.8h1.7v1.7h-1.7zM412.0 71.7h1.7v1.7h-1.7zM424.3 35.9h1.7v1.7h-1.7zM411.1 40.1h1.7v1.7h-1.7zM410.8 54.3h1.7v1.7h-1.7zM418.4 44.1h1.7v1.7h-1.7zM438.3 46.6h1.7v1.7h-1.7zM417.7 55.8h1.7v1.7h-1.7zM409.3 48.4h1.7v1.7h-1.7zM416.3 56.8h1.7v1.7h-1.7zM418.8 38.7h1.7v1.7h-1.7zM405.5 35.4h1.7v1.7h-1.7zM420.6 57.2h1.7v1.7h-1.7zM420.8 50.1h1.7v1.7h-1.7zM406.6 46.5h1.7v1.7h-1.7zM410.6 39.5h1.7v1.7h-1.7zM414.3 31.7h1.7v1.7h-1.7zM415.7 50.3h1.7v1.7h-1.7zM418.7 41.3h1.7v1.7h-1.7zM411.3 55.6h1.7v1.7h-1.7zM405.4 31.6h1.7v1.7h-1.7zM420.8 44.0h1.7v1.7h-1.7zM414.9 41.5h1.7v1.7h-1.7zM407.9 45.4h1.7v1.7h-1.7zM431.1 47.8h1.7v1.7h-1.7zM404.6 35.6h1.7v1.7h-1.7zM412.2 77.0h1.7v1.7h-1.7zM408.6 59.2h1.7v1.7h-1.7zM406.2 59.1h1.7v1.7h-1.7zM418.9 28.7h1.7v1.7h-1.7zM429.9 47.3h1.7v1.7h-1.7zM409.2 51.6h1.7v1.7h-1.7zM414.7 72.2h1.7v1.7h-1.7zM413.2 41.9h1.7v1.7h-1.7zM419.9 60.0h1.7v1.7h-1.7zM404.3 51.8h1.7v1.7h-1.7zM414.7 67.7h1.7v1.7h-1.7zM417.8 57.0h1.7v1.7h-1.7zM408.0 64.6h1.7v1.7h-1.7zM438.3 43.7h1.7v1.7h-1.7zM408.8 66.0h1.7v1.7h-1.7zM421.7 40.1h1.7v1.7h-1.7zM410.2 48.6h1.7v1.7h-1.7zM417.6 52.2h1.7v1.7h-1.7zM403.4 47.0h1.7v1.7h-1.7zM412.0 30.7h1.7v1.7h-1.7zM406.1 76.2h1.7v1.7h-1.7zM412.1 67.9h1.7v1.7h-1.7zM435.3 41.5h1.7v1.7h-1.7zM402.0 40.5h1.7v1.7h-1.7zM418.0 39.4h1.7v1.7h-1.7zM415.9 42.8h1.7v1.7h-1.7zM411.5 48.3h1.7v1.7h-1.7zM431.0 48.8h1.7v1.7h-1.7zM402.7 55.2h1.7v1.7h-1.7zM412.7 50.3h1.7v1.7h-1.7zM413.9 67.0h1.7v1.7h-1.7zM411.9 58.4h1.7v1.7h-1.7zM411.0 70.3h1.7v1.7h-1.7zM410.6 54.7h1.7v1.7h-1.7zM423.6 41.3h1.7v1.7h-1.7zM412.8 35.8h1.7v1.7h-1.7zM413.9 54.6h1.7v1.7h-1.7zM413.7 52.4h1.7v1.7h-1.7zM407.2 28.8h1.7v1.7h-1.7zM426.7 43.7h1.7v1.7h-1.7zM406.9 75.0h1.7v1.7h-1.7zM419.0 51.6h1.7v1.7h-1.7zM404.3 52.6h1.7v1.7h-1.7zM408.4 48.2h1.7v1.7h-1.7zM435.0 49.9h1.7v1.7h-1.7zM402.7 32.7h1.7v1.7h-1.7zM409.9 42.5h1.7v1.7h-1.7zM434.8 47.3h1.7v1.7h-1.7zM413.1 59.7h1.7v1.7h-1.7zM404.2 42.4h1.7v1.7h-1.7zM428.4 43.0h1.7v1.7h-1.7zM417.3 34.1h1.7v1.7h-1.7zM428.1 52.6h1.7v1.7h-1.7zM406.0 50.8h1.7v1.7h-1.7zM435.3 45.4h1.7v1.7h-1.7zM410.5 26.5h1.7v1.7h-1.7zM415.4 65.0h1.7v1.7h-1.7zM415.9 24.9h1.7v1.7h-1.7zM415.4 61.9h1.7v1.7h-1.7zM407.2 59.5h1.7v1.7h-1.7zM407.6 75.0h1.7v1.7h-1.7zM447.5 40.6h1.7v1.7h-1.7zM433.2 48.7h1.7v1.7h-1.7zM404.7 58.1h1.7v1.7h-1.7zM403.9 54.4h1.7v1.7h-1.7zM414.8 48.7h1.7v1.7h-1.7zM421.8 56.0h1.7v1.7h-1.7zM406.6 63.9h1.7v1.7h-1.7zM410.9 48.4h1.7v1.7h-1.7zM401.5 41.9h1.7v1.7h-1.7zM418.5 41.1h1.7v1.7h-1.7zM408.5 60.9h1.7v1.7h-1.7zM428.6 52.9h1.7v1.7h-1.7zM440.6 46.6h1.7v1.7h-1.7zM435.1 81.1h1.7v1.7h-1.7zM415.3 24.8h1.7v1.7h-1.7zM420.5 53.1h1.7v1.7h-1.7zM434.1 47.4h1.7v1.7h-1.7zM414.9 33.1h1.7v1.7h-1.7zM411.9 31.1h1.7v1.7h-1.7zM421.2 44.0h1.7v1.7h-1.7zM406.4 36.2h1.7v1.7h-1.7zM407.8 28.1h1.7v1.7h-1.7zM405.5 48.5h1.7v1.7h-1.7zM414.6 55.7h1.7v1.7h-1.7zM413.6 27.1h1.7v1.7h-1.7zM418.5 30.6h1.7v1.7h-1.7zM414.0 39.7h1.7v1.7h-1.7zM410.9 25.7h1.7v1.7h-1.7zM411.6 31.9h1.7v1.7h-1.7zM415.9 56.6h1.7v1.7h-1.7zM430.0 41.2h1.7v1.7h-1.7zM435.4 44.8h1.7v1.7h-1.7zM413.8 35.9h1.7v1.7h-1.7zM411.0 58.1h1.7v1.7h-1.7zM440.6 45.6h1.7v1.7h-1.7zM406.1 68.4h1.7v1.7h-1.7zM413.5 76.2h1.7v1.7h-1.7zM434.4 51.5h1.7v1.7h-1.7zM415.3 45.6h1.7v1.7h-1.7zM409.8 35.3h1.7v1.7h-1.7zM406.1 33.5h1.7v1.7h-1.7zM410.4 76.7h1.7v1.7h-1.7zM428.9 53.3h1.7v1.7h-1.7zM404.3 28.9h1.7v1.7h-1.7zM414.2 61.1h1.7v1.7h-1.7zM423.2 37.5h1.7v1.7h-1.7zM411.9 37.4h1.7v1.7h-1.7zM419.6 52.8h1.7v1.7h-1.7zM429.8 46.7h1.7v1.7h-1.7zM417.0 29.0h1.7v1.7h-1.7zM402.9 60.1h1.7v1.7h-1.7zM419.3 27.8h1.7v1.7h-1.7zM404.2 58.9h1.7v1.7h-1.7zM409.6 28.4h1.7v1.7h-1.7zM408.7 56.3h1.7v1.7h-1.7zM423.8 41.6h1.7v1.7h-1.7zM418.1 41.1h1.7v1.7h-1.7zM413.2 55.9h1.7v1.7h-1.7zM431.3 41.2h1.7v1.7h-1.7zM425.1 54.0h1.7v1.7h-1.7zM408.4 36.9h1.7v1.7h-1.7zM426.1 52.9h1.7v1.7h-1.7zM423.7 47.0h1.7v1.7h-1.7zM402.7 35.5h1.7v1.7h-1.7zM409.9 77.5h1.7v1.7h-1.7zM414.0 43.1h1.7v1.7h-1.7zM416.5 54.7h1.7v1.7h-1.7zM410.1 41.0h1.7v1.7h-1.7zM407.8 31.4h1.7v1.7h-1.7zM422.9 35.2h1.7v1.7h-1.7zM412.5 77.9h1.7v1.7h-1.7zM413.9 31.2h1.7v1.7h-1.7zM414.0 65.3h1.7v1.7h-1.7zM414.4 72.4h1.7v1.7h-1.7zM423.7 35.7h1.7v1.7h-1.7zM411.5 50.8h1.7v1.7h-1.7zM418.3 41.6h1.7v1.7h-1.7zM413.4 77.0h1.7v1.7h-1.7zM406.0 63.0h1.7v1.7h-1.7zM411.3 72.1h1.7v1.7h-1.7zM424.5 38.7h1.7v1.7h-1.7zM423.7 36.5h1.7v1.7h-1.7zM408.3 76.0h1.7v1.7h-1.7zM421.5 54.8h1.7v1.7h-1.7zM434.7 43.8h1.7v1.7h-1.7zM405.4 30.9h1.7v1.7h-1.7zM409.5 77.0h1.7v1.7h-1.7zM436.7 50.1h1.7v1.7h-1.7zM419.6 37.3h1.7v1.7h-1.7zM415.9 63.3h1.7v1.7h-1.7zM417.0 25.4h1.7v1.7h-1.7zM403.7 64.6h1.7v1.7h-1.7zM407.7 39.7h1.7v1.7h-1.7zM421.4 57.2h1.7v1.7h-1.7zM423.5 49.5h1.7v1.7h-1.7zM419.0 33.6h1.7v1.7h-1.7zM406.1 36.2h1.7v1.7h-1.7zM404.2 37.0h1.7v1.7h-1.7zM433.8 51.0h1.7v1.7h-1.7zM412.3 63.4h1.7v1.7h-1.7zM427.9 42.2h1.7v1.7h-1.7zM429.0 40.1h1.7v1.7h-1.7zM435.5 45.1h1.7v1.7h-1.7zM438.6 47.0h1.7v1.7h-1.7zM414.4 38.3h1.7v1.7h-1.7zM419.9 56.3h1.7v1.7h-1.7zM407.2 56.2h1.7v1.7h-1.7zM407.6 73.7h1.7v1.7h-1.7zM414.4 71.6h1.7v1.7h-1.7zM417.5 34.3h1.7v1.7h-1.7zM405.6 32.0h1.7v1.7h-1.7zM427.2 48.9h1.7v1.7h-1.7zM434.4 47.5h1.7v1.7h-1.7zM414.1 71.3h1.7v1.7h-1.7zM414.4 52.3h1.7v1.7h-1.7zM422.7 56.4h1.7v1.7h-1.7zM406.0 67.6h1.7v1.7h-1.7zM410.0 77.6h1.7v1.7h-1.7zM433.7 48.5h1.7v1.7h-1.7zM424.8 46.5h1.7v1.7h-1.7zM414.5 40.9h1.7v1.7h-1.7zM416.7 55.2h1.7v1.7h-1.7zM409.7 34.5h1.7v1.7h-1.7zM438.8 46.3h1.7v1.7h-1.7zM407.6 58.6h1.7v1.7h-1.7zM428.5 49.3h1.7v1.7h-1.7zM423.6 39.4h1.7v1.7h-1.7z" fill="#cfcfcf"/>
<path d="M407.1 37.3h1.7v1.7h-1.7zM413.2 52.5h1.7v1.7h-1.7zM412.0 66.4h1.7v1.7h-1.7zM425.9 44.1h1.7v1.7h-1.7zM412.2 61.3h1.7v1.7h-1.7zM452.6 43.1h1.7v1.7h-1.7zM406.1 54.1h1.7v1.7h-1.7zM430.1 42.4h1.7v1.7h-1.7zM419.1 36.5h1.7v1.7h-1.7zM413.9 37.8h1.7v1.7h-1.7zM406.5 29.0h1.7v1.7h-1.7zM432.1 51.3h1.7v1.7h-1.7zM435.3 49.5h1.7v1.7h-1.7zM422.4 32.6h1.7v1.7h-1.7zM430.7 52.3h1.7v1.7h-1.7zM421.6 31.8h1.7v1.7h-1.7zM414.0 49.1h1.7v1.7h-1.7zM415.4 34.6h1.7v1.7h-1.7zM414.6 47.8h1.7v1.7h-1.7zM412.9 36.2h1.7v1.7h-1.7zM412.2 26.2h1.7v1.7h-1.7zM414.1 66.8h1.7v1.7h-1.7zM414.3 53.4h1.7v1.7h-1.7zM432.7 48.3h1.7v1.7h-1.7zM418.0 50.2h1.7v1.7h-1.7zM408.1 36.5h1.7v1.7h-1.7zM415.1 39.5h1.7v1.7h-1.7zM412.6 27.9h1.7v1.7h-1.7zM407.8 48.7h1.7v1.7h-1.7zM409.8 73.9h1.7v1.7h-1.7zM423.4 52.2h1.7v1.7h-1.7zM427.1 52.3h1.7v1.7h-1.7zM421.8 38.2h1.7v1.7h-1.7zM408.8 36.2h1.7v1.7h-1.7zM406.7 32.1h1.7v1.7h-1.7zM418.1 40.3h1.7v1.7h-1.7zM437.7 49.3h1.7v1.7h-1.7zM423.3 49.1h1.7v1.7h-1.7zM426.8 38.8h1.7v1.7h-1.7zM415.5 61.7h1.7v1.7h-1.7zM409.5 48.1h1.7v1.7h-1.7zM436.7 51.1h1.7v1.7h-1.7zM423.3 48.5h1.7v1.7h-1.7zM407.4 52.1h1.7v1.7h-1.7zM412.2 45.8h1.7v1.7h-1.7zM410.3 55.5h1.7v1.7h-1.7zM433.4 42.0h1.7v1.7h-1.7zM409.6 41.9h1.7v1.7h-1.7zM405.0 57.7h1.7v1.7h-1.7zM420.1 29.2h1.7v1.7h-1.7zM408.5 61.6h1.7v1.7h-1.7zM412.0 32.0h1.7v1.7h-1.7zM409.9 41.4h1.7v1.7h-1.7zM429.6 43.8h1.7v1.7h-1.7zM417.7 53.6h1.7v1.7h-1.7zM417.3 50.7h1.7v1.7h-1.7zM414.5 69.0h1.7v1.7h-1.7zM414.8 48.0h1.7v1.7h-1.7zM411.9 44.0h1.7v1.7h-1.7zM425.1 41.0h1.7v1.7h-1.7zM412.7 65.9h1.7v1.7h-1.7zM416.4 48.5h1.7v1.7h-1.7zM407.6 65.1h1.7v1.7h-1.7zM408.0 44.9h1.7v1.7h-1.7zM435.2 42.1h1.7v1.7h-1.7zM408.4 72.4h1.7v1.7h-1.7zM420.1 58.6h1.7v1.7h-1.7zM402.8 58.5h1.7v1.7h-1.7zM410.0 38.2h1.7v1.7h-1.7zM421.2 35.7h1.7v1.7h-1.7zM405.2 46.2h1.7v1.7h-1.7zM412.9 39.8h1.7v1.7h-1.7zM413.1 44.7h1.7v1.7h-1.7zM409.9 30.0h1.7v1.7h-1.7zM407.0 69.7h1.7v1.7h-1.7zM419.5 32.6h1.7v1.7h-1.7zM423.5 54.0h1.7v1.7h-1.7zM414.5 61.6h1.7v1.7h-1.7zM403.7 52.0h1.7v1.7h-1.7zM423.0 41.2h1.7v1.7h-1.7zM439.5 47.2h1.7v1.7h-1.7zM414.5 32.8h1.7v1.7h-1.7zM409.8 40.5h1.7v1.7h-1.7zM418.5 40.4h1.7v1.7h-1.7zM411.7 45.8h1.7v1.7h-1.7zM410.5 40.5h1.7v1.7h-1.7zM407.2 49.3h1.7v1.7h-1.7zM427.1 48.1h1.7v1.7h-1.7zM402.4 41.8h1.7v1.7h-1.7zM420.6 49.6h1.7v1.7h-1.7zM419.0 35.0h1.7v1.7h-1.7zM425.2 53.3h1.7v1.7h-1.7zM412.6 40.3h1.7v1.7h-1.7zM409.2 53.9h1.7v1.7h-1.7zM407.2 67.8h1.7v1.7h-1.7zM420.9 42.1h1.7v1.7h-1.7zM402.6 39.2h1.7v1.7h-1.7zM410.8 75.0h1.7v1.7h-1.7zM421.2 66.1h1.7v1.7h-1.7zM422.8 38.5h1.7v1.7h-1.7zM406.9 66.9h1.7v1.7h-1.7zM412.6 61.5h1.7v1.7h-1.7zM409.2 54.7h1.7v1.7h-1.7zM401.9 41.2h1.7v1.7h-1.7zM408.1 45.7h1.7v1.7h-1.7zM418.9 48.4h1.7v1.7h-1.7zM406.1 71.9h1.7v1.7h-1.7zM424.7 40.1h1.7v1.7h-1.7zM434.7 47.2h1.7v1.7h-1.7zM409.7 50.6h1.7v1.7h-1.7zM462.5 64.8h1.7v1.7h-1.7zM436.0 42.1h1.7v1.7h-1.7zM423.9 55.8h1.7v1.7h-1.7zM417.6 26.7h1.7v1.7h-1.7zM402.6 45.1h1.7v1.7h-1.7zM404.7 34.2h1.7v1.7h-1.7zM418.6 52.0h1.7v1.7h-1.7zM410.2 45.7h1.7v1.7h-1.7zM419.4 55.9h1.7v1.7h-1.7zM407.1 56.7h1.7v1.7h-1.7zM406.7 61.9h1.7v1.7h-1.7zM415.0 41.6h1.7v1.7h-1.7zM404.7 29.8h1.7v1.7h-1.7zM428.6 48.2h1.7v1.7h-1.7zM418.6 47.4h1.7v1.7h-1.7zM421.5 40.0h1.7v1.7h-1.7zM404.1 40.8h1.7v1.7h-1.7zM428.9 41.2h1.7v1.7h-1.7zM417.6 55.3h1.7v1.7h-1.7zM406.4 64.8h1.7v1.7h-1.7zM404.9 53.5h1.7v1.7h-1.7zM412.1 59.2h1.7v1.7h-1.7zM412.8 30.5h1.7v1.7h-1.7zM408.0 53.2h1.7v1.7h-1.7zM404.1 31.9h1.7v1.7h-1.7zM415.2 46.0h1.7v1.7h-1.7zM420.8 44.7h1.7v1.7h-1.7zM410.8 48.8h1.7v1.7h-1.7zM405.4 46.1h1.7v1.7h-1.7zM406.1 75.2h1.7v1.7h-1.7zM439.2 45.9h1.7v1.7h-1.7zM418.9 57.5h1.7v1.7h-1.7zM425.3 48.2h1.7v1.7h-1.7zM420.4 27.4h1.7v1.7h-1.7zM437.5 48.9h1.7v1.7h-1.7zM416.9 30.6h1.7v1.7h-1.7zM409.8 53.7h1.7v1.7h-1.7zM402.2 47.6h1.7v1.7h-1.7zM405.8 55.1h1.7v1.7h-1.7zM404.8 44.3h1.7v1.7h-1.7zM406.4 72.1h1.7v1.7h-1.7zM420.7 59.2h1.7v1.7h-1.7zM417.1 38.3h1.7v1.7h-1.7zM410.8 49.7h1.7v1.7h-1.7zM415.8 36.8h1.7v1.7h-1.7zM424.5 46.0h1.7v1.7h-1.7zM409.8 61.9h1.7v1.7h-1.7zM417.8 51.1h1.7v1.7h-1.7zM417.8 59.0h1.7v1.7h-1.7zM410.6 27.6h1.7v1.7h-1.7zM411.6 66.6h1.7v1.7h-1.7zM429.6 41.2h1.7v1.7h-1.7zM411.3 66.2h1.7v1.7h-1.7zM407.8 40.3h1.7v1.7h-1.7zM407.3 30.5h1.7v1.7h-1.7zM408.7 34.5h1.7v1.7h-1.7zM414.0 73.8h1.7v1.7h-1.7zM412.8 45.2h1.7v1.7h-1.7zM404.0 33.6h1.7v1.7h-1.7zM431.9 42.9h1.7v1.7h-1.7zM430.7 48.7h1.7v1.7h-1.7zM421.9 27.9h1.7v1.7h-1.7zM401.8 50.0h1.7v1.7h-1.7zM431.7 41.3h1.7v1.7h-1.7zM427.5 50.8h1.7v1.7h-1.7zM428.9 43.4h1.7v1.7h-1.7zM409.5 69.0h1.7v1.7h-1.7zM402.6 54.4h1.7v1.7h-1.7zM407.2 35.8h1.7v1.7h-1.7zM413.0 37.9h1.7v1.7h-1.7zM403.3 32.5h1.7v1.7h-1.7zM420.4 28.9h1.7v1.7h-1.7zM423.2 46.8h1.7v1.7h-1.7zM409.2 63.5h1.7v1.7h-1.7zM406.8 77.0h1.7v1.7h-1.7zM409.2 58.8h1.7v1.7h-1.7zM413.4 50.4h1.7v1.7h-1.7zM408.6 56.8h1.7v1.7h-1.7zM407.7 60.2h1.7v1.7h-1.7zM402.8 41.3h1.7v1.7h-1.7zM405.0 41.0h1.7v1.7h-1.7zM417.0 31.6h1.7v1.7h-1.7zM421.8 32.2h1.7v1.7h-1.7zM409.2 50.0h1.7v1.7h-1.7zM413.5 39.4h1.7v1.7h-1.7zM402.7 46.5h1.7v1.7h-1.7zM413.5 45.7h1.7v1.7h-1.7zM430.0 43.3h1.7v1.7h-1.7zM408.0 57.4h1.7v1.7h-1.7zM414.2 31.4h1.7v1.7h-1.7zM438.1 42.2h1.7v1.7h-1.7zM412.7 34.3h1.7v1.7h-1.7zM411.1 84.5h1.7v1.7h-1.7zM403.9 39.3h1.7v1.7h-1.7zM405.0 52.5h1.7v1.7h-1.7zM430.6 42.5h1.7v1.7h-1.7zM421.8 40.5h1.7v1.7h-1.7zM406.5 76.5h1.7v1.7h-1.7zM407.7 64.7h1.7v1.7h-1.7zM409.2 44.7h1.7v1.7h-1.7zM417.2 54.9h1.7v1.7h-1.7zM409.2 33.0h1.7v1.7h-1.7zM408.3 76.2h1.7v1.7h-1.7zM417.1 42.6h1.7v1.7h-1.7zM424.3 40.1h1.7v1.7h-1.7zM417.1 52.8h1.7v1.7h-1.7zM406.6 65.7h1.7v1.7h-1.7zM419.3 36.9h1.7v1.7h-1.7zM427.9 41.9h1.7v1.7h-1.7zM418.8 36.6h1.7v1.7h-1.7zM404.2 36.6h1.7v1.7h-1.7zM406.1 76.1h1.7v1.7h-1.7zM413.1 77.5h1.7v1.7h-1.7zM425.2 49.6h1.7v1.7h-1.7zM429.5 51.7h1.7v1.7h-1.7zM404.1 66.9h1.7v1.7h-1.7zM411.8 68.0h1.7v1.7h-1.7zM414.3 47.1h1.7v1.7h-1.7zM411.0 72.9h1.7v1.7h-1.7zM425.8 54.4h1.7v1.7h-1.7zM417.6 27.3h1.7v1.7h-1.7zM409.6 77.9h1.7v1.7h-1.7zM416.9 30.9h1.7v1.7h-1.7zM421.6 44.6h1.7v1.7h-1.7zM402.5 57.2h1.7v1.7h-1.7zM407.6 71.4h1.7v1.7h-1.7zM403.4 51.7h1.7v1.7h-1.7zM407.9 35.1h1.7v1.7h-1.7zM417.6 63.3h1.7v1.7h-1.7zM408.2 74.5h1.7v1.7h-1.7zM406.0 64.6h1.7v1.7h-1.7zM416.0 27.2h1.7v1.7h-1.7zM420.7 52.8h1.7v1.7h-1.7zM407.8 64.0h1.7v1.7h-1.7zM413.9 28.2h1.7v1.7h-1.7zM417.2 61.0h1.7v1.7h-1.7zM419.7 36.5h1.7v1.7h-1.7z" fill="#dadada"/>
<path d="M402.9 44.4h1.7v1.7h-1.7zM417.4 55.9h1.7v1.7h-1.7zM420.5 58.7h1.7v1.7h-1.7zM412.8 33.1h1.7v1.7h-1.7zM423.6 36.6h1.7v1.7h-1.7zM407.4 46.0h1.7v1.7h-1.7zM421.8 52.9h1.7v1.7h-1.7zM407.0 71.6h1.7v1.7h-1.7zM420.2 49.2h1.7v1.7h-1.7zM415.3 46.8h1.7v1.7h-1.7zM419.3 37.6h1.7v1.7h-1.7zM410.0 68.6h1.7v1.7h-1.7zM410.1 61.8h1.7v1.7h-1.7zM414.0 52.0h1.7v1.7h-1.7zM405.8 75.8h1.7v1.7h-1.7zM410.1 51.7h1.7v1.7h-1.7zM418.5 44.6h1.7v1.7h-1.7zM402.4 45.7h1.7v1.7h-1.7zM416.8 52.1h1.7v1.7h-1.7zM423.4 36.0h1.7v1.7h-1.7zM430.3 45.5h1.7v1.7h-1.7zM442.0 45.9h1.7v1.7h-1.7zM407.2 62.8h1.7v1.7h-1.7zM405.3 37.8h1.7v1.7h-1.7zM414.4 70.9h1.7v1.7h-1.7zM414.6 51.0h1.7v1.7h-1.7zM428.5 49.1h1.7v1.7h-1.7zM405.7 43.7h1.7v1.7h-1.7zM416.2 31.6h1.7v1.7h-1.7zM415.7 45.2h1.7v1.7h-1.7zM408.8 38.5h1.7v1.7h-1.7zM406.5 78.0h1.7v1.7h-1.7zM435.9 44.6h1.7v1.7h-1.7zM402.9 52.1h1.7v1.7h-1.7zM418.9 36.2h1.7v1.7h-1.7zM421.4 47.4h1.7v1.7h-1.7zM412.7 26.4h1.7v1.7h-1.7zM430.5 50.9h1.7v1.7h-1.7zM436.8 44.7h1.7v1.7h-1.7zM413.5 42.3h1.7v1.7h-1.7zM408.3 56.5h1.7v1.7h-1.7zM426.0 48.4h1.7v1.7h-1.7zM403.3 63.4h1.7v1.7h-1.7zM407.6 47.8h1.7v1.7h-1.7zM405.1 39.9h1.7v1.7h-1.7zM412.4 69.6h1.7v1.7h-1.7zM409.4 42.3h1.7v1.7h-1.7zM409.9 73.6h1.7v1.7h-1.7zM410.9 59.6h1.7v1.7h-1.7zM423.9 40.5h1.7v1.7h-1.7zM429.1 51.2h1.7v1.7h-1.7zM430.7 50.9h1.7v1.7h-1.7zM412.6 64.6h1.7v1.7h-1.7zM416.3 50.1h1.7v1.7h-1.7zM406.6 43.4h1.7v1.7h-1.7zM416.8 27.3h1.7v1.7h-1.7zM419.8 42.2h1.7v1.7h-1.7zM413.9 45.5h1.7v1.7h-1.7zM415.8 36.3h1.7v1.7h-1.7zM414.1 46.9h1.7v1.7h-1.7zM409.4 77.1h1.7v1.7h-1.7zM412.3 40.5h1.7v1.7h-1.7zM413.0 39.0h1.7v1.7h-1.7zM402.7 40.5h1.7v1.7h-1.7zM405.7 70.5h1.7v1.7h-1.7zM402.1 50.4h1.7v1.7h-1.7zM427.3 43.3h1.7v1.7h-1.7zM414.0 30.4h1.7v1.7h-1.7zM417.7 35.1h1.7v1.7h-1.7zM406.6 50.6h1.7v1.7h-1.7zM408.5 49.2h1.7v1.7h-1.7zM404.9 51.9h1.7v1.7h-1.7zM407.9 61.9h1.7v1.7h-1.7zM419.0 26.5h1.7v1.7h-1.7zM415.2 61.9h1.7v1.7h-1.7zM407.9 60.9h1.7v1.7h-1.7zM413.7 39.1h1.7v1.7h-1.7zM422.8 44.7h1.7v1.7h-1.7zM442.9 44.3h1.7v1.7h-1.7zM406.3 37.1h1.7v1.7h-1.7zM411.3 40.6h1.7v1.7h-1.7zM402.3 38.4h1.7v1.7h-1.7zM404.7 66.8h1.7v1.7h-1.7zM405.2 48.3h1.7v1.7h-1.7zM411.3 69.3h1.7v1.7h-1.7zM409.7 60.4h1.7v1.7h-1.7zM411.1 54.7h1.7v1.7h-1.7zM428.4 51.3h1.7v1.7h-1.7zM408.7 49.6h1.7v1.7h-1.7zM417.2 31.3h1.7v1.7h-1.7zM439.2 48.7h1.7v1.7h-1.7zM408.9 45.3h1.7v1.7h-1.7zM424.3 50.9h1.7v1.7h-1.7zM415.2 48.4h1.7v1.7h-1.7zM407.0 66.1h1.7v1.7h-1.7zM408.9 46.9h1.7v1.7h-1.7zM402.7 36.3h1.7v1.7h-1.7zM406.7 50.3h1.7v1.7h-1.7zM421.2 35.4h1.7v1.7h-1.7zM427.9 42.7h1.7v1.7h-1.7zM440.1 45.9h1.7v1.7h-1.7zM434.0 45.1h1.7v1.7h-1.7zM413.6 68.0h1.7v1.7h-1.7zM417.6 34.7h1.7v1.7h-1.7zM408.6 39.0h1.7v1.7h-1.7zM415.0 48.3h1.7v1.7h-1.7zM435.4 42.2h1.7v1.7h-1.7zM402.7 38.3h1.7v1.7h-1.7zM405.9 43.7h1.7v1.7h-1.7zM407.0 67.5h1.7v1.7h-1.7zM413.2 33.7h1.7v1.7h-1.7zM412.7 61.8h1.7v1.7h-1.7zM422.4 49.2h1.7v1.7h-1.7zM405.7 57.0h1.7v1.7h-1.7zM420.3 28.0h1.7v1.7h-1.7zM411.7 56.5h1.7v1.7h-1.7zM416.0 47.1h1.7v1.7h-1.7zM411.5 39.2h1.7v1.7h-1.7zM426.0 51.9h1.7v1.7h-1.7zM418.5 53.6h1.7v1.7h-1.7zM402.5 50.6h1.7v1.7h-1.7zM427.0 38.8h1.7v1.7h-1.7zM420.2 38.9h1.7v1.7h-1.7zM413.5 38.3h1.7v1.7h-1.7zM408.1 47.8h1.7v1.7h-1.7zM431.1 49.0h1.7v1.7h-1.7zM426.0 47.0h1.7v1.7h-1.7zM409.8 76.2h1.7v1.7h-1.7zM421.3 31.2h1.7v1.7h-1.7zM415.7 29.0h1.7v1.7h-1.7zM431.9 49.8h1.7v1.7h-1.7zM420.2 34.6h1.7v1.7h-1.7zM414.3 68.5h1.7v1.7h-1.7zM409.8 37.2h1.7v1.7h-1.7zM428.2 52.5h1.7v1.7h-1.7zM405.6 40.0h1.7v1.7h-1.7zM425.8 41.1h1.7v1.7h-1.7zM423.5 56.0h1.7v1.7h-1.7zM402.0 43.5h1.7v1.7h-1.7zM440.3 28.2h1.7v1.7h-1.7zM403.7 54.4h1.7v1.7h-1.7zM411.8 68.4h1.7v1.7h-1.7zM418.0 59.8h1.7v1.7h-1.7zM435.3 43.7h1.7v1.7h-1.7zM422.0 49.3h1.7v1.7h-1.7zM407.5 78.0h1.7v1.7h-1.7zM420.5 40.1h1.7v1.7h-1.7zM411.1 76.0h1.7v1.7h-1.7zM413.8 50.7h1.7v1.7h-1.7zM411.5 60.9h1.7v1.7h-1.7zM425.7 40.3h1.7v1.7h-1.7zM402.7 58.1h1.7v1.7h-1.7zM411.7 77.8h1.7v1.7h-1.7zM416.2 51.8h1.7v1.7h-1.7zM432.5 48.4h1.7v1.7h-1.7zM408.2 56.5h1.7v1.7h-1.7zM409.6 65.9h1.7v1.7h-1.7zM416.6 27.6h1.7v1.7h-1.7zM432.5 48.8h1.7v1.7h-1.7zM413.2 48.9h1.7v1.7h-1.7zM426.4 45.4h1.7v1.7h-1.7zM410.4 35.5h1.7v1.7h-1.7zM409.4 63.8h1.7v1.7h-1.7zM420.3 38.4h1.7v1.7h-1.7zM416.2 61.5h1.7v1.7h-1.7zM437.4 47.3h1.7v1.7h-1.7zM435.0 50.7h1.7v1.7h-1.7zM405.6 40.3h1.7v1.7h-1.7zM409.3 43.2h1.7v1.7h-1.7zM407.3 59.7h1.7v1.7h-1.7zM423.6 35.9h1.7v1.7h-1.7zM406.2 42.0h1.7v1.7h-1.7zM406.2 25.8h1.7v1.7h-1.7zM403.2 31.5h1.7v1.7h-1.7zM429.4 40.4h1.7v1.7h-1.7zM440.1 46.0h1.7v1.7h-1.7zM415.6 33.2h1.7v1.7h-1.7zM407.5 71.7h1.7v1.7h-1.7zM425.0 51.8h1.7v1.7h-1.7zM409.6 70.1h1.7v1.7h-1.7zM416.0 28.4h1.7v1.7h-1.7zM407.0 41.6h1.7v1.7h-1.7zM409.4 50.4h1.7v1.7h-1.7zM402.5 34.8h1.7v1.7h-1.7zM422.2 43.9h1.7v1.7h-1.7zM408.9 75.8h1.7v1.7h-1.7zM430.1 48.4h1.7v1.7h-1.7zM406.7 75.4h1.7v1.7h-1.7zM418.2 49.8h1.7v1.7h-1.7zM425.5 52.5h1.7v1.7h-1.7zM441.8 43.5h1.7v1.7h-1.7zM418.1 49.9h1.7v1.7h-1.7zM407.1 26.4h1.7v1.7h-1.7zM408.1 68.4h1.7v1.7h-1.7zM412.9 32.8h1.7v1.7h-1.7zM408.2 48.1h1.7v1.7h-1.7zM423.0 52.9h1.7v1.7h-1.7zM405.8 47.6h1.7v1.7h-1.7zM412.0 60.0h1.7v1.7h-1.7zM406.6 40.9h1.7v1.7h-1.7zM426.2 45.2h1.7v1.7h-1.7zM405.1 32.0h1.7v1.7h-1.7zM408.2 67.2h1.7v1.7h-1.7zM424.6 52.5h1.7v1.7h-1.7zM403.3 35.5h1.7v1.7h-1.7zM408.7 44.2h1.7v1.7h-1.7zM406.9 62.5h1.7v1.7h-1.7zM411.8 45.1h1.7v1.7h-1.7zM428.2 51.7h1.7v1.7h-1.7zM416.2 31.4h1.7v1.7h-1.7zM423.1 55.2h1.7v1.7h-1.7zM420.8 43.1h1.7v1.7h-1.7zM421.6 48.6h1.7v1.7h-1.7zM414.0 59.8h1.7v1.7h-1.7zM403.8 37.5h1.7v1.7h-1.7zM412.4 72.4h1.7v1.7h-1.7zM416.7 28.7h1.7v1.7h-1.7zM402.7 38.5h1.7v1.7h-1.7zM438.1 65.5h1.7v1.7h-1.7zM430.6 47.6h1.7v1.7h-1.7zM427.8 43.4h1.7v1.7h-1.7zM412.0 28.7h1.7v1.7h-1.7zM422.9 43.0h1.7v1.7h-1.7zM408.6 36.3h1.7v1.7h-1.7zM420.2 41.0h1.7v1.7h-1.7zM420.7 46.7h1.7v1.7h-1.7zM409.0 36.9h1.7v1.7h-1.7zM405.8 66.7h1.7v1.7h-1.7zM438.0 47.5h1.7v1.7h-1.7zM407.5 43.0h1.7v1.7h-1.7zM406.9 70.8h1.7v1.7h-1.7zM436.9 44.5h1.7v1.7h-1.7zM428.1 52.4h1.7v1.7h-1.7zM430.5 41.0h1.7v1.7h-1.7zM411.7 74.2h1.7v1.7h-1.7zM405.3 67.4h1.7v1.7h-1.7zM422.7 38.7h1.7v1.7h-1.7zM422.1 49.5h1.7v1.7h-1.7zM419.6 36.2h1.7v1.7h-1.7zM402.6 35.9h1.7v1.7h-1.7zM415.2 60.1h1.7v1.7h-1.7zM402.9 39.7h1.7v1.7h-1.7zM426.2 47.7h1.7v1.7h-1.7zM432.5 46.3h1.7v1.7h-1.7zM431.0 49.0h1.7v1.7h-1.7zM439.1 46.6h1.7v1.7h-1.7zM410.4 74.3h1.7v1.7h-1.7zM402.1 36.5h1.7v1.7h-1.7zM419.8 48.2h1.7v1.7h-1.7zM430.4 44.4h1.7v1.7h-1.7zM419.8 36.4h1.7v1.7h-1.7zM424.4 55.7h1.7v1.7h-1.7zM417.6 51.6h1.7v1.7h-1.7zM409.2 62.0h1.7v1.7h-1.7zM415.5 35.4h1.7v1.7h-1.7zM402.5 36.8h1.7v1.7h-1.7z" fill="#e0e0e0"/>
<path d="M416.1 63.0h1.7v1.7h-1.7zM406.4 30.4h1.7v1.7h-1.7zM409.5 68.2h1.7v1.7h-1.7zM418.3 49.2h1.7v1.7h-1.7zM411.6 41.7h1.7v1.7h-1.7zM410.7 29.9h1.7v1.7h-1.7zM405.6 29.7h1.7v1.7h-1.7zM423.2 33.5h1.7v1.7h-1.7zM420.1 34.7h1.7v1.7h-1.7zM411.5 54.0h1.7v1.7h-1.7zM425.8 39.5h1.7v1.7h-1.7zM405.3 72.6h1.7v1.7h-1.7zM404.7 49.6h1.7v1.7h-1.7zM416.8 60.5h1.7v1.7h-1.7zM403.8 37.2h1.7v1.7h-1.7zM403.5 44.2h1.7v1.7h-1.7zM408.9 61.3h1.7v1.7h-1.7zM408.4 68.3h1.7v1.7h-1.7zM409.2 43.6h1.7v1.7h-1.7zM411.9 38.4h1.7v1.7h-1.7zM432.6 52.2h1.7v1.7h-1.7zM405.9 74.4h1.7v1.7h-1.7zM413.7 42.7h1.7v1.7h-1.7zM420.9 33.6h1.7v1.7h-1.7zM421.2 35.6h1.7v1.7h-1.7zM421.3 56.0h1.7v1.7h-1.7zM407.6 69.6h1.7v1.7h-1.7zM403.9 66.5h1.7v1.7h-1.7zM404.7 28.4h1.7v1.7h-1.7zM426.0 46.6h1.7v1.7h-1.7zM409.5 61.0h1.7v1.7h-1.7zM410.5 28.9h1.7v1.7h-1.7zM406.8 39.1h1.7v1.7h-1.7zM414.2 68.6h1.7v1.7h-1.7zM416.9 45.8h1.7v1.7h-1.7zM415.6 42.9h1.7v1.7h-1.7zM407.4 46.2h1.7v1.7h-1.7zM407.0 53.9h1.7v1.7h-1.7zM417.5 60.0h1.7v1.7h-1.7zM439.2 47.7h1.7v1.7h-1.7zM409.8 31.3h1.7v1.7h-1.7zM423.2 33.5h1.7v1.7h-1.7zM413.1 60.0h1.7v1.7h-1.7zM415.2 63.8h1.7v1.7h-1.7zM437.0 41.8h1.7v1.7h-1.7zM421.4 32.0h1.7v1.7h-1.7zM421.0 40.5h1.7v1.7h-1.7zM416.0 41.0h1.7v1.7h-1.7zM434.6 50.7h1.7v1.7h-1.7zM427.2 47.8h1.7v1.7h-1.7zM413.8 55.8h1.7v1.7h-1.7zM413.9 56.8h1.7v1.7h-1.7zM406.2 75.8h1.7v1.7h-1.7zM433.0 51.3h1.7v1.7h-1.7zM411.2 62.7h1.7v1.7h-1.7zM408.4 39.5h1.7v1.7h-1.7zM431.4 41.8h1.7v1.7h-1.7zM420.0 60.4h1.7v1.7h-1.7zM419.1 58.8h1.7v1.7h-1.7zM436.0 43.1h1.7v1.7h-1.7zM403.9 49.2h1.7v1.7h-1.7zM417.2 56.5h1.7v1.7h-1.7zM427.6 42.3h1.7v1.7h-1.7zM421.7 36.9h1.7v1.7h-1.7zM408.2 41.2h1.7v1.7h-1.7zM412.5 50.1h1.7v1.7h-1.7zM406.9 57.5h1.7v1.7h-1.7zM414.6 52.8h1.7v1.7h-1.7zM402.0 51.8h1.7v1.7h-1.7zM426.7 48.0h1.7v1.7h-1.7zM440.7 40.1h1.7v1.7h-1.7zM415.8 51.4h1.7v1.7h-1.7zM416.4 32.3h1.7v1.7h-1.7zM414.6 28.9h1.7v1.7h-1.7zM415.5 40.4h1.7v1.7h-1.7zM414.0 54.0h1.7v1.7h-1.7zM405.3 44.3h1.7v1.7h-1.7zM440.3 43.2h1.7v1.7h-1.7zM424.7 54.3h1.7v1.7h-1.7zM416.9 62.2h1.7v1.7h-1.7zM428.9 42.1h1.7v1.7h-1.7zM425.5 39.4h1.7v1.7h-1.7zM417.3 55.3h1.7v1.7h-1.7zM407.7 74.2h1.7v1.7h-1.7zM423.8 52.7h1.7v1.7h-1.7zM416.5 61.2h1.7v1.7h-1.7zM436.1 42.5h1.7v1.7h-1.7zM414.4 29.7h1.7v1.7h-1.7zM416.4 42.5h1.7v1.7h-1.7zM406.6 46.4h1.7v1.7h-1.7zM414.1 62.0h1.7v1.7h-1.7zM402.1 53.6h1.7v1.7h-1.7zM431.3 45.3h1.7v1.7h-1.7zM406.2 27.1h1.7v1.7h-1.7zM406.3 75.3h1.7v1.7h-1.7zM408.8 74.2h1.7v1.7h-1.7zM407.3 39.2h1.7v1.7h-1.7zM403.9 48.1h1.7v1.7h-1.7zM412.0 55.2h1.7v1.7h-1.7zM425.2 38.1h1.7v1.7h-1.7zM422.7 30.2h1.7v1.7h-1.7zM407.7 38.7h1.7v1.7h-1.7zM422.1 29.0h1.7v1.7h-1.7zM407.3 66.8h1.7v1.7h-1.7zM420.2 49.5h1.7v1.7h-1.7zM406.3 30.3h1.7v1.7h-1.7zM414.9 66.2h1.7v1.7h-1.7zM424.0 45.1h1.7v1.7h-1.7zM428.1 46.9h1.7v1.7h-1.7zM407.8 31.1h1.7v1.7h-1.7zM411.7 57.9h1.7v1.7h-1.7zM406.1 60.5h1.7v1.7h-1.7zM406.5 35.4h1.7v1.7h-1.7zM423.5 44.3h1.7v1.7h-1.7zM415.7 32.0h1.7v1.7h-1.7zM414.4 55.0h1.7v1.7h-1.7zM416.7 31.0h1.7v1.7h-1.7zM409.1 26.0h1.7v1.7h-1.7zM413.1 64.9h1.7v1.7h-1.7zM409.9 51.8h1.7v1.7h-1.7zM409.0 46.5h1.7v1.7h-1.7zM410.6 64.6h1.7v1.7h-1.7zM420.0 60.0h1.7v1.7h-1.7zM415.1 48.2h1.7v1.7h-1.7zM422.5 42.3h1.7v1.7h-1.7zM415.3 31.4h1.7v1.7h-1.7zM413.4 74.8h1.7v1.7h-1.7zM425.8 40.0h1.7v1.7h-1.7zM402.6 44.4h1.7v1.7h-1.7zM421.0 57.0h1.7v1.7h-1.7zM405.6 29.1h1.7v1.7h-1.7zM412.5 42.8h1.7v1.7h-1.7zM407.4 39.1h1.7v1.7h-1.7zM429.9 44.6h1.7v1.7h-1.7zM420.6 47.6h1.7v1.7h-1.7zM402.2 36.8h1.7v1.7h-1.7zM417.4 32.6h1.7v1.7h-1.7zM410.0 51.1h1.7v1.7h-1.7zM414.4 72.6h1.7v1.7h-1.7zM417.3 40.0h1.7v1.7h-1.7zM427.7 39.4h1.7v1.7h-1.7zM412.2 52.4h1.7v1.7h-1.7zM416.6 60.3h1.7v1.7h-1.7zM417.5 46.5h1.7v1.7h-1.7zM411.6 39.2h1.7v1.7h-1.7zM415.9 48.8h1.7v1.7h-1.7zM409.5 40.5h1.7v1.7h-1.7zM406.8 40.0h1.7v1.7h-1.7zM404.4 28.9h1.7v1.7h-1.7zM440.6 43.0h1.7v1.7h-1.7zM410.8 46.9h1.7v1.7h-1.7zM410.2 63.4h1.7v1.7h-1.7zM419.9 35.1h1.7v1.7h-1.7zM433.4 52.0h1.7v1.7h-1.7zM410.4 42.3h1.7v1.7h-1.7zM423.6 42.8h1.7v1.7h-1.7zM433.3 43.6h1.7v1.7h-1.7zM408.3 51.4h1.7v1.7h-1.7zM424.0 40.2h1.7v1.7h-1.7zM439.0 42.2h1.7v1.7h-1.7zM417.4 37.3h1.7v1.7h-1.7zM408.0 41.9h1.7v1.7h-1.7zM412.2 37.1h1.7v1.7h-1.7zM408.2 62.6h1.7v1.7h-1.7zM402.1 53.0h1.7v1.7h-1.7zM421.5 30.8h1.7v1.7h-1.7zM422.1 49.0h1.7v1.7h-1.7zM440.3 47.5h1.7v1.7h-1.7zM404.9 32.3h1.7v1.7h-1.7zM419.5 52.4h1.7v1.7h-1.7zM418.0 44.5h1.7v1.7h-1.7zM443.7 72.1h1.7v1.7h-1.7zM412.1 57.6h1.7v1.7h-1.7zM426.6 52.3h1.7v1.7h-1.7zM416.0 43.9h1.7v1.7h-1.7zM407.0 53.8h1.7v1.7h-1.7zM412.1 76.9h1.7v1.7h-1.7zM410.1 30.0h1.7v1.7h-1.7zM406.7 52.6h1.7v1.7h-1.7zM419.6 56.8h1.7v1.7h-1.7zM426.9 89.2h1.7v1.7h-1.7zM428.6 47.5h1.7v1.7h-1.7zM413.7 72.6h1.7v1.7h-1.7zM398.3 41.0h1.7v1.7h-1.7zM429.8 41.7h1.7v1.7h-1.7zM428.1 49.5h1.7v1.7h-1.7zM404.5 69.0h1.7v1.7h-1.7zM412.5 69.6h1.7v1.7h-1.7zM424.7 44.9h1.7v1.7h-1.7zM411.6 28.4h1.7v1.7h-1.7zM416.2 65.7h1.7v1.7h-1.7zM418.5 45.3h1.7v1.7h-1.7zM408.6 55.2h1.7v1.7h-1.7zM413.6 28.0h1.7v1.7h-1.7zM404.4 53.8h1.7v1.7h-1.7zM408.1 57.2h1.7v1.7h-1.7zM408.2 25.9h1.7v1.7h-1.7zM427.3 48.2h1.7v1.7h-1.7zM417.6 43.3h1.7v1.7h-1.7zM420.6 45.4h1.7v1.7h-1.7zM416.4 61.2h1.7v1.7h-1.7zM415.8 34.5h1.7v1.7h-1.7zM408.1 75.8h1.7v1.7h-1.7zM415.0 47.2h1.7v1.7h-1.7zM420.7 38.9h1.7v1.7h-1.7zM406.6 70.2h1.7v1.7h-1.7zM415.3 52.3h1.7v1.7h-1.7zM415.9 44.0h1.7v1.7h-1.7zM409.4 62.5h1.7v1.7h-1.7zM413.6 50.5h1.7v1.7h-1.7zM417.9 43.5h1.7v1.7h-1.7zM418.2 46.6h1.7v1.7h-1.7zM430.5 48.1h1.7v1.7h-1.7zM422.0 48.8h1.7v1.7h-1.7zM417.2 62.5h1.7v1.7h-1.7zM423.8 38.1h1.7v1.7h-1.7zM438.8 43.7h1.7v1.7h-1.7zM442.7 44.1h1.7v1.7h-1.7zM403.7 49.4h1.7v1.7h-1.7zM418.5 37.1h1.7v1.7h-1.7zM426.0 46.3h1.7v1.7h-1.7zM404.8 37.3h1.7v1.7h-1.7zM413.2 69.4h1.7v1.7h-1.7zM414.6 56.1h1.7v1.7h-1.7zM407.4 71.3h1.7v1.7h-1.7zM408.9 53.3h1.7v1.7h-1.7zM413.2 35.3h1.7v1.7h-1.7zM412.9 47.8h1.7v1.7h-1.7zM420.5 63.7h1.7v1.7h-1.7zM422.1 36.1h1.7v1.7h-1.7zM434.9 49.3h1.7v1.7h-1.7zM412.5 30.1h1.7v1.7h-1.7zM406.6 61.0h1.7v1.7h-1.7zM412.6 41.4h1.7v1.7h-1.7zM404.6 47.1h1.7v1.7h-1.7zM403.8 61.4h1.7v1.7h-1.7zM421.9 36.9h1.7v1.7h-1.7zM426.9 41.5h1.7v1.7h-1.7zM413.1 63.1h1.7v1.7h-1.7zM405.4 35.3h1.7v1.7h-1.7zM413.2 76.0h1.7v1.7h-1.7zM404.8 54.0h1.7v1.7h-1.7zM423.6 44.1h1.7v1.7h-1.7zM420.2 37.4h1.7v1.7h-1.7zM409.5 44.0h1.7v1.7h-1.7zM433.0 43.8h1.7v1.7h-1.7zM404.6 64.9h1.7v1.7h-1.7zM410.0 68.7h1.7v1.7h-1.7zM408.2 28.5h1.7v1.7h-1.7zM408.0 73.6h1.7v1.7h-1.7zM415.9 50.4h1.7v1.7h-1.7zM407.6 45.7h1.7v1.7h-1.7zM422.4 44.4h1.7v1.7h-1.7zM422.1 39.2h1.7v1.7h-1.7z" fill="#d4d4d4"/>
</g>
<rect x="397.00" y="23.20" width="68.00" height="67.60" fill="none" stroke="#3c3c3c" stroke-width="1.0"/>
<rect x="436.80" y="53.70" width="13.20" height="23.10" fill="#f4f4f8"/>
<path d="M440.6 59.4h1.2v1.2h-1.2zM443.2 63.3h1.2v1.2h-1.2zM444.5 60.8h1.2v1.2h-1.2zM440.2 59.6h1.2v1.2h-1.2zM439.0 66.1h1.2v1.2h-1.2z" fill="#c0c4e0"/>
<path d="M442.1 61.2h1.2v1.2h-1.2zM437.8 58.1h1.2v1.2h-1.2zM438.5 54.9h1.2v1.2h-1.2zM440.0 60.9h1.2v1.2h-1.2zM443.1 61.6h1.2v1.2h-1.2zM443.5 62.4h1.2v1.2h-1.2zM438.3 60.7h1.2v1.2h-1.2z" fill="#8080c0"/>
<path d="M443.5 64.9h1.2v1.2h-1.2zM441.4 59.9h1.2v1.2h-1.2zM442.9 66.4h1.2v1.2h-1.2zM438.1 64.6h1.2v1.2h-1.2z" fill="#a0a0d0"/>
<path d="M440.2 57.1h1.2v1.2h-1.2z" fill="#5060a0"/>
<path d="M443.9 57.5h1.2v1.2h-1.2zM441.6 63.5h1.2v1.2h-1.2zM445.5 55.7h1.2v1.2h-1.2zM439.6 56.8h1.2v1.2h-1.2z" fill="#3a3a80"/>
<path d="M439 57.3 L445.5 56.3 L441.2 63.5" stroke="#2a2a68" stroke-width="1.1" fill="none"/>
<path d="M441.4 71.0h1.1v1.1h-1.1zM444.9 70.3h1.1v1.1h-1.1z" fill="#888"/>
<path d="M438.9 74.3h1.1v1.1h-1.1zM445.1 73.6h1.1v1.1h-1.1zM444.5 73.4h1.1v1.1h-1.1z" fill="#9090c0"/>
<path d="M437.2 66.8h1.1v1.1h-1.1zM446.3 70.5h1.1v1.1h-1.1zM442.0 69.3h1.1v1.1h-1.1z" fill="#c0a060"/>
<path d="M445.9 70.2h1.1v1.1h-1.1z" fill="#b0b0b0"/>
<rect x="436.80" y="53.70" width="13.20" height="23.10" fill="none" stroke="#222" stroke-width="0.9"/>
<path d="M391.20 85.90 V97.00 H402.00" fill="none" stroke="#262626" stroke-width="1.2"/>
<path d="M391.20 82.90 L389.75 86.60 L392.65 86.60 Z" fill="#262626"/>
<path d="M405.00 97.00 L401.30 95.55 L401.30 98.45 Z" fill="#262626"/>
<text x="408.20" y="99.50" font-size="9.9" fill="#2a2a2a" textLength="18.5" lengthAdjust="spacingAndGlyphs">CD34</text>
<text x="394.00" y="79.80" font-size="9.9" fill="#2a2a2a" textLength="17.4" lengthAdjust="spacingAndGlyphs" transform="rotate(-90 394.00 79.80)">CD38</text>
<text x="472.80" y="32.10" font-size="6.0" fill="#2a2a2a" textLength="41.2" lengthAdjust="spacingAndGlyphs">Subpopulations</text>
<rect x="472.20" y="36.00" width="5.30" height="4.60" fill="#1c1c8c"/>
<text x="479.00" y="40.40" font-size="6.0" fill="#2a2a2a" text-anchor="start">My <tspan fill="#747474" stroke="#747474">IV</tspan></text>
<rect x="472.20" y="43.20" width="5.30" height="4.60" fill="#4d7fe6"/>
<text x="479.00" y="47.60" font-size="6.0" fill="#2a2a2a" text-anchor="start">My <tspan fill="#a29ea0" stroke="#a29ea0">III</tspan></text>
<rect x="472.20" y="50.40" width="5.30" height="4.60" fill="#7ccbbf"/>
<text x="479.00" y="54.80" font-size="6.0" fill="#2a2a2a" text-anchor="start">My <tspan fill="#a0a4a2" stroke="#a0a4a2">II</tspan></text>
<rect x="472.20" y="57.60" width="5.30" height="4.60" fill="#b2efe9"/>
<text x="479.00" y="62.00" font-size="6.0" fill="#2a2a2a" text-anchor="start">My <tspan fill="#a2a2a2" stroke="#a2a2a2">I</tspan></text>
<rect x="472.20" y="64.80" width="5.30" height="4.60" fill="#e0893a"/>
<text x="479.00" y="69.20" font-size="6.0" fill="#2a2a2a">Primitive</text>
<rect x="472.20" y="72.00" width="5.30" height="4.60" fill="#a0141a"/>
<text x="479.00" y="76.40" font-size="6.0" fill="#2a2a2a">Ly</text>
<rect x="472.20" y="79.20" width="5.30" height="4.60" fill="#7b1d8c"/>
<text x="479.00" y="83.60" font-size="6.0" fill="#2a2a2a">MegE</text>
<line x1="11.90" y1="112.50" x2="11.90" y2="290.00" stroke="#222" stroke-width="1.0"/>
<line x1="11.90" y1="361.00" x2="11.90" y2="541.80" stroke="#222" stroke-width="1.0"/>
<text x="14.80" y="358.40" font-size="8.4" fill="#2a2a2a" textLength="64.5" lengthAdjust="spacingAndGlyphs" transform="rotate(-90 14.80 358.40)">Lin-CD34+CD38-</text>
<line x1="269.00" y1="112.50" x2="269.00" y2="290.00" stroke="#222" stroke-width="1.0"/>
<line x1="269.00" y1="361.00" x2="269.00" y2="541.80" stroke="#222" stroke-width="1.0"/>
<text x="271.90" y="358.40" font-size="8.4" fill="#2a2a2a" textLength="64.5" lengthAdjust="spacingAndGlyphs" transform="rotate(-90 271.90 358.40)">Lin-CD34+CD38-</text>
<rect x="33.30" y="112.80" width="69.80" height="67.20" fill="none" stroke="#3c3c3c" stroke-width="1.1"/>
<line x1="58.20" y1="112.80" x2="58.20" y2="180.00" stroke="#3c3c3c" stroke-width="1.0"/>
<line x1="33.30" y1="155.40" x2="103.10" y2="155.40" stroke="#3c3c3c" stroke-width="1.0"/>
<path d="M27.50 173.80 V185.00 H38.60" fill="none" stroke="#262626" stroke-width="1.2"/>
<path d="M27.50 170.80 L26.05 174.50 L28.95 174.50 Z" fill="#262626"/>
<path d="M41.60 185.00 L37.90 183.55 L37.90 186.45 Z" fill="#262626"/>
<text x="44.10" y="188.10" font-size="9.9" fill="#2a2a2a" textLength="29.0" lengthAdjust="spacingAndGlyphs">CD45RA</text>
<text x="30.90" y="168.00" font-size="9.9" fill="#2a2a2a" textLength="18.5" lengthAdjust="spacingAndGlyphs" transform="rotate(-90 30.90 168.00)">CD90</text>
<rect x="33.30" y="202.40" width="69.70" height="66.00" fill="none" stroke="#3c3c3c" stroke-width="1.1"/>
<rect x="35.30" y="204.40" width="64.60" height="43.80" fill="none" stroke="#3c3c3c" stroke-width="1.1"/>
<path d="M27.50 263.20 V273.40 H38.60" fill="none" stroke="#262626" stroke-width="1.2"/>
<path d="M27.50 260.20 L26.05 263.90 L28.95 263.90 Z" fill="#262626"/>
<path d="M41.60 273.40 L37.90 271.95 L37.90 274.85 Z" fill="#262626"/>
<text x="44.10" y="276.50" font-size="9.9" fill="#2a2a2a" textLength="20.8" lengthAdjust="spacingAndGlyphs">FSC-A</text>
<text x="30.90" y="257.40" font-size="9.9" fill="#2a2a2a" textLength="18.2" lengthAdjust="spacingAndGlyphs" transform="rotate(-90 30.90 257.40)">CD26</text>
<rect x="33.30" y="291.60" width="69.70" height="65.60" fill="none" stroke="#3c3c3c" stroke-width="1.1"/>
<rect x="35.30" y="294.20" width="64.60" height="45.00" fill="none" stroke="#3c3c3c" stroke-width="1.1"/>
<path d="M27.50 352.30 V362.20 H38.60" fill="none" stroke="#262626" stroke-width="1.2"/>
<path d="M27.50 349.30 L26.05 353.00 L28.95 353.00 Z" fill="#262626"/>
<path d="M41.60 362.20 L37.90 360.75 L37.90 363.65 Z" fill="#262626"/>
<text x="44.10" y="365.30" font-size="9.9" fill="#2a2a2a" textLength="20.8" lengthAdjust="spacingAndGlyphs">FSC-A</text>
<text x="30.90" y="346.50" font-size="9.9" fill="#2a2a2a" textLength="25.5" lengthAdjust="spacingAndGlyphs" transform="rotate(-90 30.90 346.50)">IL1RAP</text>
<rect x="34.30" y="381.60" width="67.80" height="66.20" fill="none" stroke="#3c3c3c" stroke-width="1.1"/>
<rect x="35.30" y="382.80" width="65.80" height="38.00" fill="none" stroke="#3c3c3c" stroke-width="1.1"/>
<path d="M27.50 442.80 V452.80 H38.60" fill="none" stroke="#262626" stroke-width="1.2"/>
<path d="M27.50 439.80 L26.05 443.50 L28.95 443.50 Z" fill="#262626"/>
<path d="M41.60 452.80 L37.90 451.35 L37.90 454.25 Z" fill="#262626"/>
<text x="44.10" y="455.90" font-size="9.9" fill="#2a2a2a" textLength="20.8" lengthAdjust="spacingAndGlyphs">FSC-A</text>
<text x="30.90" y="437.00" font-size="9.9" fill="#2a2a2a" textLength="13.7" lengthAdjust="spacingAndGlyphs" transform="rotate(-90 30.90 437.00)">cKIT</text>
<rect x="33.50" y="470.90" width="68.50" height="67.00" fill="none" stroke="#3c3c3c" stroke-width="1.1"/>
<rect x="35.60" y="472.40" width="64.00" height="34.40" fill="none" stroke="#3c3c3c" stroke-width="1.1"/>
<path d="M27.50 532.70 V542.90 H38.60" fill="none" stroke="#262626" stroke-width="1.2"/>
<path d="M27.50 529.70 L26.05 533.40 L28.95 533.40 Z" fill="#262626"/>
<path d="M41.60 542.90 L37.90 541.45 L37.90 544.35 Z" fill="#262626"/>
<text x="44.10" y="546.00" font-size="9.9" fill="#2a2a2a" textLength="20.8" lengthAdjust="spacingAndGlyphs">FSC-A</text>
<text x="30.90" y="526.90" font-size="9.9" fill="#2a2a2a" textLength="19.0" lengthAdjust="spacingAndGlyphs" transform="rotate(-90 30.90 526.90)">CD25</text>
<rect x="290.50" y="112.30" width="69.20" height="67.00" fill="none" stroke="#3c3c3c" stroke-width="1.1"/>
<line x1="310.40" y1="112.30" x2="310.40" y2="179.30" stroke="#3c3c3c" stroke-width="1.0"/>
<line x1="290.50" y1="150.80" x2="359.70" y2="150.80" stroke="#3c3c3c" stroke-width="1.0"/>
<path d="M285.00 173.80 V183.90 H296.10" fill="none" stroke="#262626" stroke-width="1.2"/>
<path d="M285.00 170.80 L283.55 174.50 L286.45 174.50 Z" fill="#262626"/>
<path d="M299.10 183.90 L295.40 182.45 L295.40 185.35 Z" fill="#262626"/>
<text x="301.60" y="187.00" font-size="9.9" fill="#2a2a2a" textLength="29.0" lengthAdjust="spacingAndGlyphs">CD45RA</text>
<text x="288.40" y="168.00" font-size="9.9" fill="#2a2a2a" textLength="18.5" lengthAdjust="spacingAndGlyphs" transform="rotate(-90 288.40 168.00)">CD90</text>
<rect x="291.40" y="201.60" width="68.30" height="67.70" fill="none" stroke="#3c3c3c" stroke-width="1.1"/>
<rect x="292.80" y="203.60" width="65.20" height="46.60" fill="none" stroke="#3c3c3c" stroke-width="1.1"/>
<path d="M285.00 263.20 V273.90 H296.10" fill="none" stroke="#262626" stroke-width="1.2"/>
<path d="M285.00 260.20 L283.55 263.90 L286.45 263.90 Z" fill="#262626"/>
<path d="M299.10 273.90 L295.40 272.45 L295.40 275.35 Z" fill="#262626"/>
<text x="301.60" y="277.00" font-size="9.9" fill="#2a2a2a" textLength="20.8" lengthAdjust="spacingAndGlyphs">FSC-A</text>
<text x="288.40" y="257.40" font-size="9.9" fill="#2a2a2a" textLength="18.2" lengthAdjust="spacingAndGlyphs" transform="rotate(-90 288.40 257.40)">CD26</text>
<rect x="291.40" y="290.60" width="67.60" height="68.70" fill="none" stroke="#3c3c3c" stroke-width="1.1"/>
<rect x="292.80" y="292.40" width="64.80" height="45.00" fill="none" stroke="#3c3c3c" stroke-width="1.1"/>
<path d="M285.00 352.30 V363.90 H296.10" fill="none" stroke="#262626" stroke-width="1.2"/>
<path d="M285.00 349.30 L283.55 353.00 L286.45 353.00 Z" fill="#262626"/>
<path d="M299.10 363.90 L295.40 362.45 L295.40 365.35 Z" fill="#262626"/>
<text x="301.60" y="367.00" font-size="9.9" fill="#2a2a2a" textLength="20.8" lengthAdjust="spacingAndGlyphs">FSC-A</text>
<text x="288.40" y="346.50" font-size="9.9" fill="#2a2a2a" textLength="25.5" lengthAdjust="spacingAndGlyphs" transform="rotate(-90 288.40 346.50)">IL1RAP</text>
<rect x="292.00" y="380.60" width="67.00" height="67.20" fill="none" stroke="#3c3c3c" stroke-width="1.1"/>
<rect x="293.20" y="382.40" width="64.80" height="42.20" fill="none" stroke="#3c3c3c" stroke-width="1.1"/>
<path d="M285.00 442.80 V452.40 H296.10" fill="none" stroke="#262626" stroke-width="1.2"/>
<path d="M285.00 439.80 L283.55 443.50 L286.45 443.50 Z" fill="#262626"/>
<path d="M299.10 452.40 L295.40 450.95 L295.40 453.85 Z" fill="#262626"/>
<text x="301.60" y="455.50" font-size="9.9" fill="#2a2a2a" textLength="20.8" lengthAdjust="spacingAndGlyphs">FSC-A</text>
<text x="288.40" y="437.00" font-size="9.9" fill="#2a2a2a" textLength="13.7" lengthAdjust="spacingAndGlyphs" transform="rotate(-90 288.40 437.00)">cKIT</text>
<rect x="292.00" y="470.90" width="66.70" height="66.10" fill="none" stroke="#3c3c3c" stroke-width="1.1"/>
<rect x="293.50" y="472.20" width="64.10" height="33.10" fill="none" stroke="#3c3c3c" stroke-width="1.1"/>
<path d="M285.00 532.70 V541.60 H296.10" fill="none" stroke="#262626" stroke-width="1.2"/>
<path d="M285.00 529.70 L283.55 533.40 L286.45 533.40 Z" fill="#262626"/>
<path d="M299.10 541.60 L295.40 540.15 L295.40 543.05 Z" fill="#262626"/>
<text x="301.60" y="544.70" font-size="9.9" fill="#2a2a2a" textLength="20.8" lengthAdjust="spacingAndGlyphs">FSC-A</text>
<text x="288.40" y="526.90" font-size="9.9" fill="#2a2a2a" textLength="19.0" lengthAdjust="spacingAndGlyphs" transform="rotate(-90 288.40 526.90)">CD25</text>
<path d="M43.3 152.8h1.3v1.3h-1.3zM42.8 141.8h1.3v1.3h-1.3zM45.0 133.2h1.3v1.3h-1.3zM45.2 137.2h1.3v1.3h-1.3z" fill="#7ccbbf"/>
<path d="M44.2 130.3h1.3v1.3h-1.3zM43.8 141.5h1.3v1.3h-1.3zM42.7 147.0h1.3v1.3h-1.3zM48.2 128.9h1.3v1.3h-1.3zM45.2 150.9h1.3v1.3h-1.3zM43.4 138.9h1.3v1.3h-1.3zM44.7 152.1h1.3v1.3h-1.3zM45.2 144.7h1.3v1.3h-1.3zM46.2 137.6h1.3v1.3h-1.3z" fill="#1c1c8c"/>
<path d="M46.3 129.5h1.3v1.3h-1.3zM46.8 138.1h1.3v1.3h-1.3zM46.8 135.1h1.3v1.3h-1.3zM45.1 143.0h1.3v1.3h-1.3zM50.2 142.8h1.3v1.3h-1.3z" fill="#4d7fe6"/>
<path d="M47.5 139.4h1.3v1.3h-1.3zM50.5 135.7h1.3v1.3h-1.3zM44.6 146.6h1.3v1.3h-1.3zM47.3 133.0h1.3v1.3h-1.3zM48.2 141.9h1.3v1.3h-1.3z" fill="#8ab0e0"/>
<path d="M50.1 141.8h1.3v1.3h-1.3zM46.1 144.2h1.3v1.3h-1.3zM48.0 142.0h1.3v1.3h-1.3z" fill="#b2efe9"/>
<path d="M60.3 164.8h1.3v1.3h-1.3zM62.7 167.1h1.3v1.3h-1.3zM55.1 170.5h1.3v1.3h-1.3zM55.5 163.4h1.3v1.3h-1.3zM54.2 159.5h1.3v1.3h-1.3zM47.3 160.8h1.3v1.3h-1.3zM53.3 165.4h1.3v1.3h-1.3zM50.6 167.3h1.3v1.3h-1.3zM56.4 159.2h1.3v1.3h-1.3zM45.5 163.7h1.3v1.3h-1.3z" fill="#4d7fe6"/>
<path d="M48.8 163.3h1.3v1.3h-1.3zM46.8 163.2h1.3v1.3h-1.3zM43.0 162.1h1.3v1.3h-1.3zM54.0 161.6h1.3v1.3h-1.3zM48.5 165.2h1.3v1.3h-1.3zM57.3 164.3h1.3v1.3h-1.3zM54.8 159.9h1.3v1.3h-1.3zM46.2 164.8h1.3v1.3h-1.3zM65.8 156.6h1.3v1.3h-1.3zM53.8 158.8h1.3v1.3h-1.3zM50.9 162.1h1.3v1.3h-1.3zM57.4 164.0h1.3v1.3h-1.3zM44.4 168.6h1.3v1.3h-1.3zM51.3 168.8h1.3v1.3h-1.3z" fill="#1c1c8c"/>
<path d="M54.5 167.8h1.3v1.3h-1.3zM42.6 170.1h1.3v1.3h-1.3zM53.0 163.8h1.3v1.3h-1.3z" fill="#7b1d8c"/>
<path d="M51.4 157.8h1.3v1.3h-1.3zM50.8 166.2h1.3v1.3h-1.3zM59.2 165.0h1.3v1.3h-1.3zM47.1 161.3h1.3v1.3h-1.3zM56.5 165.3h1.3v1.3h-1.3zM52.3 159.9h1.3v1.3h-1.3z" fill="#3a3aa0"/>
<path d="M53.6 161.9h1.3v1.3h-1.3zM54.7 162.5h1.3v1.3h-1.3zM52.6 159.1h1.3v1.3h-1.3z" fill="#7ccbbf"/>
<path d="M62.2 233.7h1.3v1.3h-1.3zM63.1 232.8h1.3v1.3h-1.3zM69.7 248.9h1.3v1.3h-1.3zM67.7 243.2h1.3v1.3h-1.3zM61.4 230.4h1.3v1.3h-1.3zM62.1 238.9h1.3v1.3h-1.3zM68.1 244.2h1.3v1.3h-1.3zM70.9 239.9h1.3v1.3h-1.3zM67.3 244.1h1.3v1.3h-1.3z" fill="#4d7fe6"/>
<path d="M65.8 230.8h1.3v1.3h-1.3zM61.4 245.7h1.3v1.3h-1.3zM72.1 237.5h1.3v1.3h-1.3z" fill="#b2efe9"/>
<path d="M58.2 228.7h1.3v1.3h-1.3zM60.5 242.4h1.3v1.3h-1.3zM63.7 233.4h1.3v1.3h-1.3zM62.3 239.4h1.3v1.3h-1.3zM62.5 239.7h1.3v1.3h-1.3z" fill="#a0a0b0"/>
<path d="M61.1 248.2h1.3v1.3h-1.3zM69.7 236.2h1.3v1.3h-1.3zM65.4 230.8h1.3v1.3h-1.3z" fill="#1c1c8c"/>
<path d="M65.2 235.3h1.3v1.3h-1.3zM66.7 234.3h1.3v1.3h-1.3zM66.3 234.2h1.3v1.3h-1.3zM68.2 228.7h1.3v1.3h-1.3zM63.4 244.7h1.3v1.3h-1.3z" fill="#8ab0e0"/>
<path d="M59.2 235.5h1.3v1.3h-1.3z" fill="#7ccbbf"/>
<path d="M63.7 253.5h1.4v1.4h-1.4zM61.4 257.1h1.4v1.4h-1.4zM72.0 254.3h1.4v1.4h-1.4zM64.7 250.4h1.4v1.4h-1.4zM61.2 249.8h1.4v1.4h-1.4zM66.1 252.8h1.4v1.4h-1.4zM65.4 250.9h1.4v1.4h-1.4zM75.5 254.3h1.4v1.4h-1.4zM72.5 249.6h1.4v1.4h-1.4z" fill="#4d7fe6"/>
<path d="M67.4 253.4h1.4v1.4h-1.4zM73.9 248.1h1.4v1.4h-1.4zM68.7 254.0h1.4v1.4h-1.4zM65.2 249.8h1.4v1.4h-1.4zM69.3 252.6h1.4v1.4h-1.4zM62.8 252.4h1.4v1.4h-1.4zM68.4 251.6h1.4v1.4h-1.4zM67.6 253.1h1.4v1.4h-1.4zM61.1 251.9h1.4v1.4h-1.4zM68.8 250.1h1.4v1.4h-1.4zM75.2 251.2h1.4v1.4h-1.4zM69.3 254.0h1.4v1.4h-1.4zM71.0 252.2h1.4v1.4h-1.4z" fill="#1c1c8c"/>
<path d="M60.9 251.4h1.4v1.4h-1.4zM64.2 252.0h1.4v1.4h-1.4zM67.7 251.7h1.4v1.4h-1.4zM65.3 249.7h1.4v1.4h-1.4zM67.2 251.3h1.4v1.4h-1.4zM71.3 255.4h1.4v1.4h-1.4zM62.5 251.7h1.4v1.4h-1.4zM61.0 251.5h1.4v1.4h-1.4z" fill="#2a2aa0"/>
<path d="M67.1 328.7h1.3v1.3h-1.3zM68.0 327.1h1.3v1.3h-1.3zM67.6 325.6h1.3v1.3h-1.3zM62.6 318.2h1.3v1.3h-1.3zM64.4 326.6h1.3v1.3h-1.3zM58.1 322.7h1.3v1.3h-1.3zM54.7 324.9h1.3v1.3h-1.3zM71.7 330.1h1.3v1.3h-1.3zM61.8 325.2h1.3v1.3h-1.3zM69.4 330.8h1.3v1.3h-1.3z" fill="#7ccbbf"/>
<path d="M64.3 322.8h1.3v1.3h-1.3zM65.7 327.2h1.3v1.3h-1.3zM67.0 325.1h1.3v1.3h-1.3zM62.8 333.8h1.3v1.3h-1.3zM73.1 325.5h1.3v1.3h-1.3zM73.3 320.7h1.3v1.3h-1.3zM74.9 322.6h1.3v1.3h-1.3zM73.0 319.7h1.3v1.3h-1.3zM58.2 321.5h1.3v1.3h-1.3z" fill="#4d7fe6"/>
<path d="M64.5 318.1h1.3v1.3h-1.3zM57.3 318.0h1.3v1.3h-1.3zM66.4 321.2h1.3v1.3h-1.3zM61.3 320.8h1.3v1.3h-1.3zM63.1 325.5h1.3v1.3h-1.3zM62.3 331.0h1.3v1.3h-1.3zM71.4 332.9h1.3v1.3h-1.3zM67.7 328.1h1.3v1.3h-1.3zM82.3 336.6h1.3v1.3h-1.3zM66.4 323.4h1.3v1.3h-1.3zM65.9 328.5h1.3v1.3h-1.3z" fill="#b2efe9"/>
<path d="M69.2 322.0h1.3v1.3h-1.3zM68.9 319.0h1.3v1.3h-1.3zM68.6 326.6h1.3v1.3h-1.3zM63.8 324.7h1.3v1.3h-1.3zM74.6 320.9h1.3v1.3h-1.3zM70.2 329.7h1.3v1.3h-1.3zM69.2 324.7h1.3v1.3h-1.3zM67.2 320.1h1.3v1.3h-1.3zM57.4 317.3h1.3v1.3h-1.3zM61.1 331.3h1.3v1.3h-1.3zM76.4 321.8h1.3v1.3h-1.3zM70.5 330.4h1.3v1.3h-1.3zM66.2 329.5h1.3v1.3h-1.3zM63.7 325.5h1.3v1.3h-1.3zM72.8 328.1h1.3v1.3h-1.3z" fill="#1c1c8c"/>
<path d="M62.7 319.2h1.3v1.3h-1.3zM58.7 324.2h1.3v1.3h-1.3zM68.5 325.9h1.3v1.3h-1.3zM60.1 325.6h1.3v1.3h-1.3zM67.6 336.5h1.3v1.3h-1.3zM69.3 330.0h1.3v1.3h-1.3zM66.1 321.0h1.3v1.3h-1.3zM65.7 329.9h1.3v1.3h-1.3z" fill="#3a3aa0"/>
<path d="M64.8 330.4h1.3v1.3h-1.3zM70.2 316.8h1.3v1.3h-1.3zM66.9 323.4h1.3v1.3h-1.3zM61.8 326.2h1.3v1.3h-1.3zM62.1 329.9h1.3v1.3h-1.3zM71.1 319.0h1.3v1.3h-1.3zM68.6 322.7h1.3v1.3h-1.3z" fill="#7b1d8c"/>
<path d="M59.0 298.9h1.5v1.5h-1.5z" fill="#c0c0c0"/>
<path d="M49.7 304.7h1.5v1.5h-1.5z" fill="#c8c8c8"/>
<path d="M70.3 418.1h1.3v1.3h-1.3zM69.3 420.5h1.3v1.3h-1.3zM62.4 419.3h1.3v1.3h-1.3zM63.0 420.8h1.3v1.3h-1.3zM67.2 415.5h1.3v1.3h-1.3zM75.6 423.7h1.3v1.3h-1.3zM70.5 422.3h1.3v1.3h-1.3zM65.2 419.7h1.3v1.3h-1.3z" fill="#4d7fe6"/>
<path d="M68.9 417.4h1.3v1.3h-1.3zM68.7 412.4h1.3v1.3h-1.3zM65.9 416.5h1.3v1.3h-1.3zM69.4 418.4h1.3v1.3h-1.3zM66.3 420.2h1.3v1.3h-1.3zM69.3 418.3h1.3v1.3h-1.3zM67.8 420.2h1.3v1.3h-1.3zM70.2 416.7h1.3v1.3h-1.3zM61.2 421.0h1.3v1.3h-1.3zM73.3 423.2h1.3v1.3h-1.3zM78.6 418.1h1.3v1.3h-1.3zM78.7 419.0h1.3v1.3h-1.3zM71.1 418.8h1.3v1.3h-1.3zM61.1 417.6h1.3v1.3h-1.3z" fill="#1c1c8c"/>
<path d="M64.6 422.6h1.3v1.3h-1.3zM71.3 419.6h1.3v1.3h-1.3zM67.4 421.5h1.3v1.3h-1.3zM64.4 416.1h1.3v1.3h-1.3zM62.8 423.8h1.3v1.3h-1.3zM61.3 421.5h1.3v1.3h-1.3zM72.9 422.3h1.3v1.3h-1.3zM70.2 416.2h1.3v1.3h-1.3z" fill="#2a2aa0"/>
<path d="M67.3 424.1h1.3v1.3h-1.3zM60.9 429.6h1.3v1.3h-1.3zM69.5 423.6h1.3v1.3h-1.3zM69.2 425.1h1.3v1.3h-1.3z" fill="#1c1c8c"/>
<path d="M65.1 429.1h1.3v1.3h-1.3zM67.3 425.8h1.3v1.3h-1.3zM70.1 426.4h1.3v1.3h-1.3zM57.6 427.6h1.3v1.3h-1.3zM75.7 428.8h1.3v1.3h-1.3zM61.3 429.5h1.3v1.3h-1.3zM68.1 425.3h1.3v1.3h-1.3z" fill="#8ab0e0"/>
<path d="M73.4 427.1h1.3v1.3h-1.3zM68.4 425.8h1.3v1.3h-1.3zM69.2 423.9h1.3v1.3h-1.3zM69.6 430.2h1.3v1.3h-1.3zM77.4 426.6h1.3v1.3h-1.3z" fill="#7ccbbf"/>
<path d="M72.9 426.0h1.3v1.3h-1.3zM70.1 425.5h1.3v1.3h-1.3zM64.4 424.9h1.3v1.3h-1.3zM68.8 429.3h1.3v1.3h-1.3zM69.6 429.8h1.3v1.3h-1.3zM70.0 426.7h1.3v1.3h-1.3zM71.5 425.9h1.3v1.3h-1.3z" fill="#b2efe9"/>
<path d="M72.7 429.7h1.3v1.3h-1.3zM69.3 427.4h1.3v1.3h-1.3zM67.7 427.5h1.3v1.3h-1.3zM65.6 421.4h1.3v1.3h-1.3zM65.4 424.2h1.3v1.3h-1.3zM65.9 428.3h1.3v1.3h-1.3zM71.4 424.2h1.3v1.3h-1.3z" fill="#4d7fe6"/>
<path d="M61.2 505.1h1.3v1.3h-1.3zM65.4 504.7h1.3v1.3h-1.3zM56.2 504.4h1.3v1.3h-1.3zM68.3 517.6h1.3v1.3h-1.3zM70.7 515.6h1.3v1.3h-1.3zM65.3 506.6h1.3v1.3h-1.3zM67.3 518.7h1.3v1.3h-1.3zM67.2 501.7h1.3v1.3h-1.3zM63.0 508.8h1.3v1.3h-1.3zM68.1 488.7h1.3v1.3h-1.3zM63.3 507.0h1.3v1.3h-1.3zM66.6 502.6h1.3v1.3h-1.3zM58.2 501.5h1.3v1.3h-1.3zM63.3 502.4h1.3v1.3h-1.3zM66.0 509.1h1.3v1.3h-1.3zM69.9 491.5h1.3v1.3h-1.3zM66.0 498.8h1.3v1.3h-1.3z" fill="#4d7fe6"/>
<path d="M70.2 516.6h1.3v1.3h-1.3zM63.4 511.5h1.3v1.3h-1.3zM62.2 497.8h1.3v1.3h-1.3zM63.7 501.3h1.3v1.3h-1.3zM72.2 501.7h1.3v1.3h-1.3zM71.9 488.2h1.3v1.3h-1.3zM69.2 493.8h1.3v1.3h-1.3z" fill="#3a3aa0"/>
<path d="M64.1 502.4h1.3v1.3h-1.3zM69.8 511.7h1.3v1.3h-1.3zM66.9 504.8h1.3v1.3h-1.3zM67.7 494.7h1.3v1.3h-1.3zM65.7 506.7h1.3v1.3h-1.3z" fill="#b2efe9"/>
<path d="M67.6 498.5h1.3v1.3h-1.3zM64.9 505.4h1.3v1.3h-1.3zM63.5 510.8h1.3v1.3h-1.3zM66.4 512.8h1.3v1.3h-1.3zM63.8 498.4h1.3v1.3h-1.3zM68.8 507.3h1.3v1.3h-1.3zM68.0 512.7h1.3v1.3h-1.3zM67.5 505.6h1.3v1.3h-1.3zM70.2 497.6h1.3v1.3h-1.3zM67.0 506.1h1.3v1.3h-1.3zM69.3 495.7h1.3v1.3h-1.3z" fill="#7ccbbf"/>
<path d="M70.1 497.0h1.3v1.3h-1.3zM68.0 496.5h1.3v1.3h-1.3zM62.6 504.3h1.3v1.3h-1.3zM63.6 509.4h1.3v1.3h-1.3zM65.9 499.8h1.3v1.3h-1.3zM66.4 505.5h1.3v1.3h-1.3zM70.7 497.3h1.3v1.3h-1.3zM64.9 501.9h1.3v1.3h-1.3zM67.7 507.7h1.3v1.3h-1.3zM64.3 507.5h1.3v1.3h-1.3zM68.6 503.8h1.3v1.3h-1.3zM64.1 498.3h1.3v1.3h-1.3zM66.6 500.0h1.3v1.3h-1.3zM64.1 517.4h1.3v1.3h-1.3zM68.7 511.4h1.3v1.3h-1.3z" fill="#1c1c8c"/>
<path d="M71.1 513.7h1.2v1.2h-1.2z" fill="#c0c0d0"/>
<path d="M66.8 511.9h1.2v1.2h-1.2zM66.2 518.7h1.2v1.2h-1.2zM64.5 521.9h1.2v1.2h-1.2zM66.5 527.2h1.2v1.2h-1.2zM62.9 521.5h1.2v1.2h-1.2z" fill="#a0a0c0"/>
<path d="M70.1 520.8h1.2v1.2h-1.2zM66.3 520.6h1.2v1.2h-1.2z" fill="#7ccbbf"/>
<path d="M312.4 164.3h1.3v1.3h-1.3zM313.9 162.9h1.3v1.3h-1.3zM309.8 159.2h1.3v1.3h-1.3zM303.4 159.5h1.3v1.3h-1.3zM298.3 159.7h1.3v1.3h-1.3zM310.3 156.0h1.3v1.3h-1.3zM309.5 158.5h1.3v1.3h-1.3zM325.0 158.1h1.3v1.3h-1.3zM305.0 156.9h1.3v1.3h-1.3zM314.3 160.5h1.3v1.3h-1.3z" fill="#b8b8c8"/>
<path d="M303.9 156.2h1.3v1.3h-1.3zM313.0 158.4h1.3v1.3h-1.3zM307.8 159.6h1.3v1.3h-1.3zM302.7 157.3h1.3v1.3h-1.3zM324.0 163.2h1.3v1.3h-1.3zM293.2 166.1h1.3v1.3h-1.3z" fill="#3a3a80"/>
<path d="M308.4 158.6h1.3v1.3h-1.3zM314.5 161.2h1.3v1.3h-1.3zM300.9 155.2h1.3v1.3h-1.3zM310.0 164.4h1.3v1.3h-1.3zM318.7 157.5h1.3v1.3h-1.3zM317.3 160.6h1.3v1.3h-1.3zM311.7 157.4h1.3v1.3h-1.3z" fill="#9a9ac0"/>
<path d="M301.1 163.8h1.3v1.3h-1.3zM311.4 157.3h1.3v1.3h-1.3zM316.9 163.0h1.3v1.3h-1.3zM303.6 163.7h1.3v1.3h-1.3zM303.6 161.8h1.3v1.3h-1.3zM320.5 159.0h1.3v1.3h-1.3z" fill="#6a6aa0"/>
<path d="M332.3 163.2h1.3v1.3h-1.3zM307.7 161.1h1.3v1.3h-1.3zM312.7 160.4h1.3v1.3h-1.3zM317.8 159.0h1.3v1.3h-1.3z" fill="#2a2a70"/>
<path d="M310.7 165.1h1.3v1.3h-1.3zM312.4 158.1h1.3v1.3h-1.3zM304.1 160.1h1.3v1.3h-1.3zM301.3 160.0h1.3v1.3h-1.3z" fill="#c0c0c0"/>
<path d="M322.7 163.9h1.3v1.3h-1.3zM323.6 160.1h1.3v1.3h-1.3zM305.9 159.9h1.3v1.3h-1.3z" fill="#8aa0d0"/>
<path d="M299.2 163.4h1.3v1.3h-1.3z" fill="#c8a080"/>
<path d="M305.7 158.0h1.3v1.3h-1.3zM303.3 157.4h1.3v1.3h-1.3z" fill="#d8b08a"/>
<path d="M297.7 160.6h1.3v1.3h-1.3zM302.4 161.2h1.3v1.3h-1.3z" fill="#e0c0a0"/>
<path d="M303.1 131.9h1.3v1.3h-1.3zM304.0 133.4h1.3v1.3h-1.3z" fill="#b8b8c8"/>
<path d="M299.4 143.0h1.3v1.3h-1.3z" fill="#c0c0c0"/>
<path d="M303.9 133.3h1.3v1.3h-1.3z" fill="#2a2a70"/>
<path d="M303.5 132.3h1.3v1.3h-1.3z" fill="#6a6aa0"/>
<path d="M309.9 127.1h1.3v1.3h-1.3z" fill="#9a9ac0"/>
<path d="M313.1 251.5h1.3v1.3h-1.3zM326.2 255.5h1.3v1.3h-1.3zM320.3 254.3h1.3v1.3h-1.3zM327.4 257.7h1.3v1.3h-1.3zM315.8 256.1h1.3v1.3h-1.3zM316.0 258.5h1.3v1.3h-1.3zM330.4 254.8h1.3v1.3h-1.3z" fill="#9a9ac0"/>
<path d="M323.1 257.5h1.3v1.3h-1.3zM318.5 254.5h1.3v1.3h-1.3z" fill="#6a6aa0"/>
<path d="M319.2 258.4h1.3v1.3h-1.3zM325.7 256.1h1.3v1.3h-1.3zM326.0 252.7h1.3v1.3h-1.3zM323.2 257.3h1.3v1.3h-1.3zM323.0 259.8h1.3v1.3h-1.3z" fill="#3a3a80"/>
<path d="M315.4 261.3h1.3v1.3h-1.3zM314.2 253.9h1.3v1.3h-1.3zM324.3 255.0h1.3v1.3h-1.3zM329.3 260.9h1.3v1.3h-1.3zM325.0 259.8h1.3v1.3h-1.3z" fill="#8aa0d0"/>
<path d="M330.6 254.6h1.3v1.3h-1.3zM324.3 256.3h1.3v1.3h-1.3zM318.9 257.7h1.3v1.3h-1.3zM321.4 258.0h1.3v1.3h-1.3zM326.5 259.8h1.3v1.3h-1.3zM324.8 258.8h1.3v1.3h-1.3z" fill="#2a2a70"/>
<path d="M319.3 253.1h1.3v1.3h-1.3zM322.1 256.4h1.3v1.3h-1.3zM312.6 253.6h1.3v1.3h-1.3zM325.4 257.7h1.3v1.3h-1.3zM321.8 261.0h1.3v1.3h-1.3zM326.1 258.2h1.3v1.3h-1.3z" fill="#c0c0c0"/>
<path d="M325.7 258.9h1.3v1.3h-1.3zM315.0 258.3h1.3v1.3h-1.3zM321.4 254.8h1.3v1.3h-1.3zM333.4 254.1h1.3v1.3h-1.3zM322.9 256.9h1.3v1.3h-1.3zM316.5 253.1h1.3v1.3h-1.3zM313.9 258.2h1.3v1.3h-1.3z" fill="#b8b8c8"/>
<path d="M315.1 214.4h1.3v1.3h-1.3zM323.1 225.0h1.3v1.3h-1.3z" fill="#8aa0d0"/>
<path d="M312.8 219.9h1.3v1.3h-1.3z" fill="#3a3a80"/>
<path d="M317.3 235.9h1.3v1.3h-1.3z" fill="#c8a080"/>
<path d="M306.2 237.1h1.3v1.3h-1.3zM317.4 212.4h1.3v1.3h-1.3z" fill="#d8b08a"/>
<path d="M316.0 242.4h1.3v1.3h-1.3zM324.7 232.4h1.3v1.3h-1.3zM302.5 236.9h1.3v1.3h-1.3z" fill="#c0c0c0"/>
<path d="M309.8 230.2h1.3v1.3h-1.3z" fill="#e0c0a0"/>
<path d="M307.4 209.1h1.3v1.3h-1.3z" fill="#bcbcbc"/>
<path d="M311.7 222.5h1.3v1.3h-1.3z" fill="#9a9ac0"/>
<path d="M312.0 331.9h1.3v1.3h-1.3zM326.6 325.1h1.3v1.3h-1.3zM313.5 328.6h1.3v1.3h-1.3zM319.3 330.8h1.3v1.3h-1.3zM320.7 316.3h1.3v1.3h-1.3zM322.0 330.0h1.3v1.3h-1.3zM321.5 329.5h1.3v1.3h-1.3zM327.1 326.9h1.3v1.3h-1.3z" fill="#2a2a70"/>
<path d="M322.2 323.6h1.3v1.3h-1.3zM327.4 318.6h1.3v1.3h-1.3zM317.7 324.3h1.3v1.3h-1.3zM316.0 325.7h1.3v1.3h-1.3zM312.5 326.7h1.3v1.3h-1.3zM327.4 321.5h1.3v1.3h-1.3z" fill="#3a3a80"/>
<path d="M324.6 318.7h1.3v1.3h-1.3zM321.9 328.1h1.3v1.3h-1.3zM321.3 312.4h1.3v1.3h-1.3zM330.5 328.0h1.3v1.3h-1.3z" fill="#8aa0d0"/>
<path d="M309.5 335.6h1.3v1.3h-1.3zM321.6 325.4h1.3v1.3h-1.3zM322.0 332.8h1.3v1.3h-1.3zM330.7 321.6h1.3v1.3h-1.3zM328.3 319.9h1.3v1.3h-1.3zM332.5 329.1h1.3v1.3h-1.3zM316.7 319.8h1.3v1.3h-1.3zM329.3 324.8h1.3v1.3h-1.3zM339.4 315.3h1.3v1.3h-1.3zM319.3 325.4h1.3v1.3h-1.3zM325.0 331.4h1.3v1.3h-1.3z" fill="#9a9ac0"/>
<path d="M320.5 318.7h1.3v1.3h-1.3zM328.8 324.0h1.3v1.3h-1.3zM313.3 330.9h1.3v1.3h-1.3zM322.1 324.2h1.3v1.3h-1.3zM325.8 324.3h1.3v1.3h-1.3zM325.3 314.7h1.3v1.3h-1.3z" fill="#c0c0c0"/>
<path d="M329.9 325.5h1.3v1.3h-1.3zM318.8 329.2h1.3v1.3h-1.3zM314.1 334.1h1.3v1.3h-1.3zM326.6 326.2h1.3v1.3h-1.3zM325.9 326.8h1.3v1.3h-1.3zM322.6 325.6h1.3v1.3h-1.3z" fill="#6a6aa0"/>
<path d="M327.7 332.1h1.3v1.3h-1.3z" fill="#b8b8c8"/>
<path d="M318.8 344.7h1.3v1.3h-1.3z" fill="#e0c0a0"/>
<path d="M309.5 347.8h1.3v1.3h-1.3zM317.1 342.2h1.3v1.3h-1.3zM315.1 344.9h1.3v1.3h-1.3zM310.4 345.1h1.3v1.3h-1.3z" fill="#d8b08a"/>
<path d="M314.9 343.1h1.3v1.3h-1.3zM310.4 353.6h1.3v1.3h-1.3z" fill="#c8a080"/>
<path d="M319.5 321.6h1.5v1.5h-1.5zM310.4 322.2h1.5v1.5h-1.5z" fill="#c0c0c0"/>
<path d="M328.0 314.6h1.5v1.5h-1.5zM324.1 304.0h1.5v1.5h-1.5zM304.7 327.7h1.5v1.5h-1.5z" fill="#d0d0d0"/>
<path d="M330.1 420.9h1.3v1.3h-1.3zM317.9 422.9h1.3v1.3h-1.3zM318.5 423.1h1.3v1.3h-1.3zM325.3 421.3h1.3v1.3h-1.3zM318.2 426.1h1.3v1.3h-1.3zM323.9 419.9h1.3v1.3h-1.3zM323.0 420.4h1.3v1.3h-1.3zM322.3 409.7h1.3v1.3h-1.3zM323.1 404.4h1.3v1.3h-1.3z" fill="#8aa0d0"/>
<path d="M318.9 421.9h1.3v1.3h-1.3zM324.3 426.8h1.3v1.3h-1.3zM324.5 415.4h1.3v1.3h-1.3zM323.1 410.3h1.3v1.3h-1.3zM316.6 418.5h1.3v1.3h-1.3zM328.4 415.3h1.3v1.3h-1.3z" fill="#9a9ac0"/>
<path d="M314.5 423.9h1.3v1.3h-1.3zM324.0 419.8h1.3v1.3h-1.3zM331.0 400.7h1.3v1.3h-1.3zM322.0 420.1h1.3v1.3h-1.3zM319.2 419.3h1.3v1.3h-1.3z" fill="#6a6aa0"/>
<path d="M321.6 427.1h1.3v1.3h-1.3zM316.0 414.9h1.3v1.3h-1.3zM322.0 420.8h1.3v1.3h-1.3zM325.6 417.4h1.3v1.3h-1.3zM316.3 424.7h1.3v1.3h-1.3zM323.2 416.0h1.3v1.3h-1.3zM316.5 427.9h1.3v1.3h-1.3z" fill="#c0c0c0"/>
<path d="M325.2 421.3h1.3v1.3h-1.3zM328.4 415.3h1.3v1.3h-1.3zM321.8 411.9h1.3v1.3h-1.3zM316.9 422.6h1.3v1.3h-1.3zM327.7 413.1h1.3v1.3h-1.3zM321.8 414.2h1.3v1.3h-1.3z" fill="#3a3a80"/>
<path d="M324.1 416.5h1.3v1.3h-1.3zM320.5 420.5h1.3v1.3h-1.3zM324.1 411.7h1.3v1.3h-1.3zM318.6 420.5h1.3v1.3h-1.3zM316.8 423.6h1.3v1.3h-1.3zM327.1 415.3h1.3v1.3h-1.3z" fill="#2a2a70"/>
<path d="M316.8 435.6h1.3v1.3h-1.3z" fill="#b8b8c8"/>
<path d="M311.8 438.1h1.3v1.3h-1.3zM317.7 436.4h1.3v1.3h-1.3zM318.1 435.5h1.3v1.3h-1.3z" fill="#d8b08a"/>
<path d="M316.0 439.6h1.3v1.3h-1.3zM313.0 433.7h1.3v1.3h-1.3zM314.9 433.5h1.3v1.3h-1.3z" fill="#bcbcbc"/>
<path d="M309.1 439.8h1.3v1.3h-1.3zM312.7 437.4h1.3v1.3h-1.3z" fill="#c8a080"/>
<path d="M310.4 431.8h1.3v1.3h-1.3zM313.1 433.3h1.3v1.3h-1.3z" fill="#e0c0a0"/>
<path d="M331.1 506.1h1.3v1.3h-1.3zM330.3 509.1h1.3v1.3h-1.3zM326.5 511.1h1.3v1.3h-1.3zM323.7 510.5h1.3v1.3h-1.3zM326.3 507.3h1.3v1.3h-1.3z" fill="#8aa0d0"/>
<path d="M325.8 509.8h1.3v1.3h-1.3zM319.4 513.4h1.3v1.3h-1.3zM326.4 509.2h1.3v1.3h-1.3zM317.1 513.3h1.3v1.3h-1.3zM325.7 508.1h1.3v1.3h-1.3zM331.4 506.9h1.3v1.3h-1.3zM323.0 509.8h1.3v1.3h-1.3z" fill="#2a2a70"/>
<path d="M319.7 512.2h1.3v1.3h-1.3zM321.7 514.2h1.3v1.3h-1.3zM329.7 506.6h1.3v1.3h-1.3zM326.9 505.4h1.3v1.3h-1.3z" fill="#6a6aa0"/>
<path d="M325.4 507.5h1.3v1.3h-1.3zM330.5 508.4h1.3v1.3h-1.3zM328.8 504.3h1.3v1.3h-1.3zM331.7 507.6h1.3v1.3h-1.3zM324.2 520.0h1.3v1.3h-1.3zM326.6 509.2h1.3v1.3h-1.3zM320.9 513.0h1.3v1.3h-1.3zM319.6 518.1h1.3v1.3h-1.3z" fill="#c0c0c0"/>
<path d="M325.7 510.8h1.3v1.3h-1.3zM325.8 513.2h1.3v1.3h-1.3zM322.5 509.6h1.3v1.3h-1.3zM320.5 520.1h1.3v1.3h-1.3z" fill="#b8b8c8"/>
<path d="M324.7 512.3h1.3v1.3h-1.3zM320.5 511.8h1.3v1.3h-1.3zM326.0 509.4h1.3v1.3h-1.3zM325.8 513.3h1.3v1.3h-1.3zM319.7 515.6h1.3v1.3h-1.3z" fill="#3a3a80"/>
<path d="M318.5 514.7h1.3v1.3h-1.3zM326.1 507.0h1.3v1.3h-1.3zM327.0 509.4h1.3v1.3h-1.3z" fill="#9a9ac0"/>
<path d="M321.7 501.2h1.3v1.3h-1.3zM319.5 494.9h1.3v1.3h-1.3zM314.5 492.2h1.3v1.3h-1.3z" fill="#b0b0c0"/>
<path d="M318.2 496.3h1.3v1.3h-1.3zM322.9 489.3h1.3v1.3h-1.3zM312.5 494.4h1.3v1.3h-1.3zM319.2 503.7h1.3v1.3h-1.3z" fill="#a0a0b8"/>
<path d="M307.0 493.8h1.3v1.3h-1.3zM318.8 494.4h1.3v1.3h-1.3zM320.3 501.4h1.3v1.3h-1.3zM317.2 492.9h1.3v1.3h-1.3zM319.8 491.2h1.3v1.3h-1.3z" fill="#c0c0d0"/>
<path d="M312.1 514.2h1.3v1.3h-1.3zM313.3 513.0h1.3v1.3h-1.3zM312.4 518.7h1.3v1.3h-1.3zM308.1 523.1h1.3v1.3h-1.3z" fill="#d8b08a"/>
<path d="M310.4 515.8h1.3v1.3h-1.3z" fill="#c8a080"/>
<path d="M317.1 520.3h1.3v1.3h-1.3z" fill="#e0c0a0"/>
<rect x="139.70" y="113.15" width="67.10" height="6.10" fill="#2d4b84" stroke="#1f3a68" stroke-width="0.5"/>
<rect x="139.70" y="113.15" width="3.09" height="6.10" fill="#b1062e" stroke="#8e0424" stroke-width="0.5"/>
<line x1="136.50" y1="116.20" x2="139.70" y2="116.20" stroke="#111" stroke-width="0.9"/>
<text x="133.40" y="118.80" font-size="6.4" fill="#2a2a2a" text-anchor="end">MegE</text>
<rect x="139.70" y="122.90" width="67.10" height="6.10" fill="#2d4b84" stroke="#1f3a68" stroke-width="0.5"/>
<rect x="139.70" y="122.90" width="20.53" height="6.10" fill="#b1062e" stroke="#8e0424" stroke-width="0.5"/>
<line x1="136.50" y1="125.95" x2="139.70" y2="125.95" stroke="#111" stroke-width="0.9"/>
<text x="133.40" y="128.55" font-size="6.4" fill="#2a2a2a" text-anchor="end">Ly</text>
<rect x="139.70" y="132.65" width="67.10" height="6.10" fill="#2d4b84" stroke="#1f3a68" stroke-width="0.5"/>
<rect x="139.70" y="132.65" width="3.09" height="6.10" fill="#b1062e" stroke="#8e0424" stroke-width="0.5"/>
<line x1="136.50" y1="135.70" x2="139.70" y2="135.70" stroke="#111" stroke-width="0.9"/>
<text x="133.40" y="138.30" font-size="6.4" fill="#2a2a2a" text-anchor="end">Primitive</text>
<rect x="139.70" y="142.40" width="67.10" height="6.10" fill="#2d4b84" stroke="#1f3a68" stroke-width="0.5"/>
<rect x="139.70" y="142.40" width="1.21" height="6.10" fill="#b1062e" stroke="#8e0424" stroke-width="0.5"/>
<line x1="136.50" y1="145.45" x2="139.70" y2="145.45" stroke="#111" stroke-width="0.9"/>
<text x="133.40" y="148.05" font-size="6.4" fill="#2a2a2a" text-anchor="end">My <tspan fill="#a89a9c" stroke="#a89a9c">I</tspan></text>
<rect x="139.70" y="152.15" width="67.10" height="6.10" fill="#2d4b84" stroke="#1f3a68" stroke-width="0.5"/>
<rect x="139.70" y="152.15" width="8.92" height="6.10" fill="#b1062e" stroke="#8e0424" stroke-width="0.5"/>
<line x1="136.50" y1="155.20" x2="139.70" y2="155.20" stroke="#111" stroke-width="0.9"/>
<text x="133.40" y="157.80" font-size="6.4" fill="#2a2a2a" text-anchor="end">My <tspan fill="#8eaaa2" stroke="#8eaaa2">II</tspan></text>
<rect x="139.70" y="161.90" width="67.10" height="6.10" fill="#2d4b84" stroke="#1f3a68" stroke-width="0.5"/>
<rect x="139.70" y="161.90" width="14.76" height="6.10" fill="#b1062e" stroke="#8e0424" stroke-width="0.5"/>
<line x1="136.50" y1="164.95" x2="139.70" y2="164.95" stroke="#111" stroke-width="0.9"/>
<text x="133.40" y="167.55" font-size="6.4" fill="#2a2a2a" text-anchor="end">My <tspan fill="#a89aa2" stroke="#a89aa2">III</tspan></text>
<rect x="139.70" y="171.65" width="67.10" height="6.10" fill="#2d4b84" stroke="#1f3a68" stroke-width="0.5"/>
<rect x="139.70" y="171.65" width="20.13" height="6.10" fill="#b1062e" stroke="#8e0424" stroke-width="0.5"/>
<line x1="136.50" y1="174.70" x2="139.70" y2="174.70" stroke="#111" stroke-width="0.9"/>
<text x="133.40" y="177.30" font-size="6.4" fill="#2a2a2a" text-anchor="end">My IV</text>
<line x1="139.70" y1="109.60" x2="139.70" y2="180.20" stroke="#111" stroke-width="1.15"/>
<line x1="139.10" y1="179.60" x2="209.80" y2="179.60" stroke="#111" stroke-width="1.15"/>
<line x1="139.70" y1="179.60" x2="139.70" y2="182.60" stroke="#111" stroke-width="0.9"/>
<text x="139.70" y="190.00" font-size="6.5" fill="#2a2a2a" text-anchor="middle">0</text>
<line x1="153.12" y1="179.60" x2="153.12" y2="182.60" stroke="#111" stroke-width="0.9"/>
<text x="153.12" y="190.00" font-size="6.5" fill="#2a2a2a" text-anchor="middle">20</text>
<line x1="166.54" y1="179.60" x2="166.54" y2="182.60" stroke="#111" stroke-width="0.9"/>
<text x="166.54" y="190.00" font-size="6.5" fill="#2a2a2a" text-anchor="middle">40</text>
<line x1="179.96" y1="179.60" x2="179.96" y2="182.60" stroke="#111" stroke-width="0.9"/>
<text x="179.96" y="190.00" font-size="6.5" fill="#2a2a2a" text-anchor="middle">60</text>
<line x1="193.38" y1="179.60" x2="193.38" y2="182.60" stroke="#111" stroke-width="0.9"/>
<text x="193.38" y="190.00" font-size="6.5" fill="#2a2a2a" text-anchor="middle">80</text>
<line x1="206.80" y1="179.60" x2="206.80" y2="182.60" stroke="#111" stroke-width="0.9"/>
<text x="206.80" y="190.00" font-size="6.5" fill="#2a2a2a" text-anchor="middle">100</text>
<rect x="217.20" y="112.50" width="5.20" height="4.50" fill="#1f4b62"/>
<rect x="217.20" y="119.50" width="5.20" height="4.50" fill="#9c0c34"/>
<text x="224.00" y="117.00" font-size="6.1" fill="#2a2a2a">CD45RA-</text>
<text x="224.00" y="124.00" font-size="6.1" fill="#2a2a2a">CD45RA+</text>
<rect x="397.10" y="112.35" width="67.10" height="6.10" fill="#2d4b84" stroke="#1f3a68" stroke-width="0.5"/>
<rect x="397.10" y="112.35" width="2.95" height="6.10" fill="#b1062e" stroke="#8e0424" stroke-width="0.5"/>
<line x1="393.90" y1="115.40" x2="397.10" y2="115.40" stroke="#111" stroke-width="0.9"/>
<text x="390.80" y="118.00" font-size="6.4" fill="#2a2a2a" text-anchor="end">MegE</text>
<rect x="397.10" y="122.10" width="67.10" height="6.10" fill="#2d4b84" stroke="#1f3a68" stroke-width="0.5"/>
<line x1="393.90" y1="125.15" x2="397.10" y2="125.15" stroke="#111" stroke-width="0.9"/>
<text x="390.80" y="127.75" font-size="6.4" fill="#2a2a2a" text-anchor="end">Ly</text>
<rect x="397.10" y="131.85" width="67.10" height="6.10" fill="#2d4b84" stroke="#1f3a68" stroke-width="0.5"/>
<line x1="393.90" y1="134.90" x2="397.10" y2="134.90" stroke="#111" stroke-width="0.9"/>
<text x="390.80" y="137.50" font-size="6.4" fill="#2a2a2a" text-anchor="end">Primitive</text>
<rect x="397.10" y="141.60" width="67.10" height="6.10" fill="#2d4b84" stroke="#1f3a68" stroke-width="0.5"/>
<rect x="397.10" y="141.60" width="9.13" height="6.10" fill="#b1062e" stroke="#8e0424" stroke-width="0.5"/>
<line x1="393.90" y1="144.65" x2="397.10" y2="144.65" stroke="#111" stroke-width="0.9"/>
<text x="390.80" y="147.25" font-size="6.4" fill="#2a2a2a" text-anchor="end">My <tspan fill="#a2a2a2" stroke="#a2a2a2">I</tspan></text>
<rect x="397.10" y="151.35" width="67.10" height="6.10" fill="#2d4b84" stroke="#1f3a68" stroke-width="0.5"/>
<line x1="393.90" y1="154.40" x2="397.10" y2="154.40" stroke="#111" stroke-width="0.9"/>
<text x="390.80" y="157.00" font-size="6.4" fill="#2a2a2a" text-anchor="end">My <tspan fill="#a0a4a2" stroke="#a0a4a2">II</tspan></text>
<rect x="397.10" y="161.10" width="67.10" height="6.10" fill="#2d4b84" stroke="#1f3a68" stroke-width="0.5"/>
<rect x="397.10" y="161.10" width="12.35" height="6.10" fill="#b1062e" stroke="#8e0424" stroke-width="0.5"/>
<line x1="393.90" y1="164.15" x2="397.10" y2="164.15" stroke="#111" stroke-width="0.9"/>
<text x="390.80" y="166.75" font-size="6.4" fill="#2a2a2a" text-anchor="end">My <tspan fill="#a29ea0" stroke="#a29ea0">III</tspan></text>
<rect x="397.10" y="170.85" width="67.10" height="6.10" fill="#2d4b84" stroke="#1f3a68" stroke-width="0.5"/>
<rect x="397.10" y="170.85" width="28.85" height="6.10" fill="#b1062e" stroke="#8e0424" stroke-width="0.5"/>
<line x1="393.90" y1="173.90" x2="397.10" y2="173.90" stroke="#111" stroke-width="0.9"/>
<text x="390.80" y="176.50" font-size="6.4" fill="#2a2a2a" text-anchor="end">My <tspan fill="#747474" stroke="#747474">IV</tspan></text>
<line x1="397.10" y1="108.80" x2="397.10" y2="179.40" stroke="#111" stroke-width="1.15"/>
<line x1="396.50" y1="178.80" x2="467.20" y2="178.80" stroke="#111" stroke-width="1.15"/>
<line x1="397.10" y1="178.80" x2="397.10" y2="181.80" stroke="#111" stroke-width="0.9"/>
<text x="397.10" y="189.20" font-size="6.5" fill="#2a2a2a" text-anchor="middle">0</text>
<line x1="410.52" y1="178.80" x2="410.52" y2="181.80" stroke="#111" stroke-width="0.9"/>
<text x="410.52" y="189.20" font-size="6.5" fill="#2a2a2a" text-anchor="middle">20</text>
<line x1="423.94" y1="178.80" x2="423.94" y2="181.80" stroke="#111" stroke-width="0.9"/>
<text x="423.94" y="189.20" font-size="6.5" fill="#2a2a2a" text-anchor="middle">40</text>
<line x1="437.36" y1="178.80" x2="437.36" y2="181.80" stroke="#111" stroke-width="0.9"/>
<text x="437.36" y="189.20" font-size="6.5" fill="#2a2a2a" text-anchor="middle">60</text>
<line x1="450.78" y1="178.80" x2="450.78" y2="181.80" stroke="#111" stroke-width="0.9"/>
<text x="450.78" y="189.20" font-size="6.5" fill="#2a2a2a" text-anchor="middle">80</text>
<line x1="464.20" y1="178.80" x2="464.20" y2="181.80" stroke="#111" stroke-width="0.9"/>
<text x="464.20" y="189.20" font-size="6.5" fill="#2a2a2a" text-anchor="middle">100</text>
<rect x="474.10" y="112.50" width="5.20" height="4.50" fill="#1f4b62"/>
<rect x="474.10" y="119.50" width="5.20" height="4.50" fill="#9c0c34"/>
<text x="480.90" y="117.00" font-size="6.1" fill="#2a2a2a">CD45RA-</text>
<text x="480.90" y="124.00" font-size="6.1" fill="#2a2a2a">CD45RA+</text>
<rect x="139.70" y="202.55" width="67.10" height="6.10" fill="#2d4b84" stroke="#1f3a68" stroke-width="0.5"/>
<rect x="139.70" y="202.55" width="16.10" height="6.10" fill="#b1062e" stroke="#8e0424" stroke-width="0.5"/>
<line x1="136.50" y1="205.60" x2="139.70" y2="205.60" stroke="#111" stroke-width="0.9"/>
<text x="133.40" y="208.20" font-size="6.4" fill="#2a2a2a" text-anchor="end">MegE</text>
<rect x="139.70" y="212.30" width="67.10" height="6.10" fill="#2d4b84" stroke="#1f3a68" stroke-width="0.5"/>
<rect x="139.70" y="212.30" width="33.55" height="6.10" fill="#b1062e" stroke="#8e0424" stroke-width="0.5"/>
<line x1="136.50" y1="215.35" x2="139.70" y2="215.35" stroke="#111" stroke-width="0.9"/>
<text x="133.40" y="217.95" font-size="6.4" fill="#2a2a2a" text-anchor="end">Ly</text>
<rect x="139.70" y="222.05" width="67.10" height="6.10" fill="#2d4b84" stroke="#1f3a68" stroke-width="0.5"/>
<rect x="139.70" y="222.05" width="44.29" height="6.10" fill="#b1062e" stroke="#8e0424" stroke-width="0.5"/>
<line x1="136.50" y1="225.10" x2="139.70" y2="225.10" stroke="#111" stroke-width="0.9"/>
<text x="133.40" y="227.70" font-size="6.4" fill="#2a2a2a" text-anchor="end">Primitive</text>
<rect x="139.70" y="231.80" width="67.10" height="6.10" fill="#2d4b84" stroke="#1f3a68" stroke-width="0.5"/>
<rect x="139.70" y="231.80" width="57.71" height="6.10" fill="#b1062e" stroke="#8e0424" stroke-width="0.5"/>
<line x1="136.50" y1="234.85" x2="139.70" y2="234.85" stroke="#111" stroke-width="0.9"/>
<text x="133.40" y="237.45" font-size="6.4" fill="#2a2a2a" text-anchor="end">My <tspan fill="#a89a9c" stroke="#a89a9c">I</tspan></text>
<rect x="139.70" y="241.55" width="67.10" height="6.10" fill="#2d4b84" stroke="#1f3a68" stroke-width="0.5"/>
<rect x="139.70" y="241.55" width="48.31" height="6.10" fill="#b1062e" stroke="#8e0424" stroke-width="0.5"/>
<line x1="136.50" y1="244.60" x2="139.70" y2="244.60" stroke="#111" stroke-width="0.9"/>
<text x="133.40" y="247.20" font-size="6.4" fill="#2a2a2a" text-anchor="end">My <tspan fill="#8eaaa2" stroke="#8eaaa2">II</tspan></text>
<rect x="139.70" y="251.30" width="67.10" height="6.10" fill="#2d4b84" stroke="#1f3a68" stroke-width="0.5"/>
<rect x="139.70" y="251.30" width="59.72" height="6.10" fill="#b1062e" stroke="#8e0424" stroke-width="0.5"/>
<line x1="136.50" y1="254.35" x2="139.70" y2="254.35" stroke="#111" stroke-width="0.9"/>
<text x="133.40" y="256.95" font-size="6.4" fill="#2a2a2a" text-anchor="end">My <tspan fill="#a89aa2" stroke="#a89aa2">III</tspan></text>
<rect x="139.70" y="261.05" width="67.10" height="6.10" fill="#2d4b84" stroke="#1f3a68" stroke-width="0.5"/>
<rect x="139.70" y="261.05" width="40.60" height="6.10" fill="#b1062e" stroke="#8e0424" stroke-width="0.5"/>
<line x1="136.50" y1="264.10" x2="139.70" y2="264.10" stroke="#111" stroke-width="0.9"/>
<text x="133.40" y="266.70" font-size="6.4" fill="#2a2a2a" text-anchor="end">My IV</text>
<line x1="139.70" y1="199.00" x2="139.70" y2="269.60" stroke="#111" stroke-width="1.15"/>
<line x1="139.10" y1="269.00" x2="209.80" y2="269.00" stroke="#111" stroke-width="1.15"/>
<line x1="139.70" y1="269.00" x2="139.70" y2="272.00" stroke="#111" stroke-width="0.9"/>
<text x="139.70" y="279.40" font-size="6.5" fill="#2a2a2a" text-anchor="middle">0</text>
<line x1="153.12" y1="269.00" x2="153.12" y2="272.00" stroke="#111" stroke-width="0.9"/>
<text x="153.12" y="279.40" font-size="6.5" fill="#2a2a2a" text-anchor="middle">20</text>
<line x1="166.54" y1="269.00" x2="166.54" y2="272.00" stroke="#111" stroke-width="0.9"/>
<text x="166.54" y="279.40" font-size="6.5" fill="#2a2a2a" text-anchor="middle">40</text>
<line x1="179.96" y1="269.00" x2="179.96" y2="272.00" stroke="#111" stroke-width="0.9"/>
<text x="179.96" y="279.40" font-size="6.5" fill="#2a2a2a" text-anchor="middle">60</text>
<line x1="193.38" y1="269.00" x2="193.38" y2="272.00" stroke="#111" stroke-width="0.9"/>
<text x="193.38" y="279.40" font-size="6.5" fill="#2a2a2a" text-anchor="middle">80</text>
<line x1="206.80" y1="269.00" x2="206.80" y2="272.00" stroke="#111" stroke-width="0.9"/>
<text x="206.80" y="279.40" font-size="6.5" fill="#2a2a2a" text-anchor="middle">100</text>
<rect x="217.20" y="201.90" width="5.20" height="4.50" fill="#1f4b62"/>
<rect x="217.20" y="208.90" width="5.20" height="4.50" fill="#9c0c34"/>
<text x="224.00" y="206.40" font-size="6.1" fill="#2a2a2a">CD26-</text>
<text x="224.00" y="213.40" font-size="6.1" fill="#2a2a2a">CD26+</text>
<rect x="397.10" y="202.35" width="67.10" height="6.10" fill="#2d4b84" stroke="#1f3a68" stroke-width="0.5"/>
<rect x="397.10" y="202.35" width="33.95" height="6.10" fill="#b1062e" stroke="#8e0424" stroke-width="0.5"/>
<line x1="393.90" y1="205.40" x2="397.10" y2="205.40" stroke="#111" stroke-width="0.9"/>
<text x="390.80" y="208.00" font-size="6.4" fill="#2a2a2a" text-anchor="end">MegE</text>
<line x1="393.90" y1="215.15" x2="397.10" y2="215.15" stroke="#111" stroke-width="0.9"/>
<text x="390.80" y="217.75" font-size="6.4" fill="#2a2a2a" text-anchor="end">Ly</text>
<rect x="397.10" y="221.85" width="67.10" height="6.10" fill="#2d4b84" stroke="#1f3a68" stroke-width="0.5"/>
<rect x="397.10" y="221.85" width="51.47" height="6.10" fill="#b1062e" stroke="#8e0424" stroke-width="0.5"/>
<line x1="393.90" y1="224.90" x2="397.10" y2="224.90" stroke="#111" stroke-width="0.9"/>
<text x="390.80" y="227.50" font-size="6.4" fill="#2a2a2a" text-anchor="end">Primitive</text>
<rect x="397.10" y="231.60" width="67.10" height="6.10" fill="#2d4b84" stroke="#1f3a68" stroke-width="0.5"/>
<rect x="397.10" y="231.60" width="46.84" height="6.10" fill="#b1062e" stroke="#8e0424" stroke-width="0.5"/>
<line x1="393.90" y1="234.65" x2="397.10" y2="234.65" stroke="#111" stroke-width="0.9"/>
<text x="390.80" y="237.25" font-size="6.4" fill="#2a2a2a" text-anchor="end">My <tspan fill="#a2a2a2" stroke="#a2a2a2">I</tspan></text>
<rect x="397.10" y="241.35" width="67.10" height="6.10" fill="#2d4b84" stroke="#1f3a68" stroke-width="0.5"/>
<rect x="397.10" y="241.35" width="46.84" height="6.10" fill="#b1062e" stroke="#8e0424" stroke-width="0.5"/>
<line x1="393.90" y1="244.40" x2="397.10" y2="244.40" stroke="#111" stroke-width="0.9"/>
<text x="390.80" y="247.00" font-size="6.4" fill="#2a2a2a" text-anchor="end">My <tspan fill="#a0a4a2" stroke="#a0a4a2">II</tspan></text>
<rect x="397.10" y="251.10" width="67.10" height="6.10" fill="#2d4b84" stroke="#1f3a68" stroke-width="0.5"/>
<rect x="397.10" y="251.10" width="34.89" height="6.10" fill="#b1062e" stroke="#8e0424" stroke-width="0.5"/>
<line x1="393.90" y1="254.15" x2="397.10" y2="254.15" stroke="#111" stroke-width="0.9"/>
<text x="390.80" y="256.75" font-size="6.4" fill="#2a2a2a" text-anchor="end">My <tspan fill="#a29ea0" stroke="#a29ea0">III</tspan></text>
<rect x="397.10" y="260.85" width="67.10" height="6.10" fill="#2d4b84" stroke="#1f3a68" stroke-width="0.5"/>
<line x1="393.90" y1="263.90" x2="397.10" y2="263.90" stroke="#111" stroke-width="0.9"/>
<text x="390.80" y="266.50" font-size="6.4" fill="#2a2a2a" text-anchor="end">My <tspan fill="#747474" stroke="#747474">IV</tspan></text>
<line x1="397.10" y1="198.80" x2="397.10" y2="269.40" stroke="#111" stroke-width="1.15"/>
<line x1="396.50" y1="268.80" x2="467.20" y2="268.80" stroke="#111" stroke-width="1.15"/>
<line x1="397.10" y1="268.80" x2="397.10" y2="271.80" stroke="#111" stroke-width="0.9"/>
<text x="397.10" y="279.20" font-size="6.5" fill="#2a2a2a" text-anchor="middle">0</text>
<line x1="410.52" y1="268.80" x2="410.52" y2="271.80" stroke="#111" stroke-width="0.9"/>
<text x="410.52" y="279.20" font-size="6.5" fill="#2a2a2a" text-anchor="middle">20</text>
<line x1="423.94" y1="268.80" x2="423.94" y2="271.80" stroke="#111" stroke-width="0.9"/>
<text x="423.94" y="279.20" font-size="6.5" fill="#2a2a2a" text-anchor="middle">40</text>
<line x1="437.36" y1="268.80" x2="437.36" y2="271.80" stroke="#111" stroke-width="0.9"/>
<text x="437.36" y="279.20" font-size="6.5" fill="#2a2a2a" text-anchor="middle">60</text>
<line x1="450.78" y1="268.80" x2="450.78" y2="271.80" stroke="#111" stroke-width="0.9"/>
<text x="450.78" y="279.20" font-size="6.5" fill="#2a2a2a" text-anchor="middle">80</text>
<line x1="464.20" y1="268.80" x2="464.20" y2="271.80" stroke="#111" stroke-width="0.9"/>
<text x="464.20" y="279.20" font-size="6.5" fill="#2a2a2a" text-anchor="middle">100</text>
<rect x="474.10" y="201.90" width="5.20" height="4.50" fill="#1f4b62"/>
<rect x="474.10" y="208.90" width="5.20" height="4.50" fill="#9c0c34"/>
<text x="480.90" y="206.40" font-size="6.1" fill="#2a2a2a">CD26-</text>
<text x="480.90" y="213.40" font-size="6.1" fill="#2a2a2a">CD26+</text>
<rect x="139.70" y="292.45" width="67.10" height="6.10" fill="#2d4b84" stroke="#1f3a68" stroke-width="0.5"/>
<rect x="139.70" y="292.45" width="67.10" height="6.10" fill="#b1062e" stroke="#8e0424" stroke-width="0.5"/>
<line x1="136.50" y1="295.50" x2="139.70" y2="295.50" stroke="#111" stroke-width="0.9"/>
<text x="133.40" y="298.10" font-size="6.4" fill="#2a2a2a" text-anchor="end">MegE</text>
<rect x="139.70" y="302.20" width="67.10" height="6.10" fill="#2d4b84" stroke="#1f3a68" stroke-width="0.5"/>
<rect x="139.70" y="302.20" width="67.10" height="6.10" fill="#b1062e" stroke="#8e0424" stroke-width="0.5"/>
<line x1="136.50" y1="305.25" x2="139.70" y2="305.25" stroke="#111" stroke-width="0.9"/>
<text x="133.40" y="307.85" font-size="6.4" fill="#2a2a2a" text-anchor="end">Ly</text>
<rect x="139.70" y="311.95" width="67.10" height="6.10" fill="#2d4b84" stroke="#1f3a68" stroke-width="0.5"/>
<rect x="139.70" y="311.95" width="61.06" height="6.10" fill="#b1062e" stroke="#8e0424" stroke-width="0.5"/>
<line x1="136.50" y1="315.00" x2="139.70" y2="315.00" stroke="#111" stroke-width="0.9"/>
<text x="133.40" y="317.60" font-size="6.4" fill="#2a2a2a" text-anchor="end">Primitive</text>
<rect x="139.70" y="321.70" width="67.10" height="6.10" fill="#2d4b84" stroke="#1f3a68" stroke-width="0.5"/>
<rect x="139.70" y="321.70" width="67.10" height="6.10" fill="#b1062e" stroke="#8e0424" stroke-width="0.5"/>
<line x1="136.50" y1="324.75" x2="139.70" y2="324.75" stroke="#111" stroke-width="0.9"/>
<text x="133.40" y="327.35" font-size="6.4" fill="#2a2a2a" text-anchor="end">My <tspan fill="#a89a9c" stroke="#a89a9c">I</tspan></text>
<rect x="139.70" y="331.45" width="67.10" height="6.10" fill="#2d4b84" stroke="#1f3a68" stroke-width="0.5"/>
<rect x="139.70" y="331.45" width="67.10" height="6.10" fill="#b1062e" stroke="#8e0424" stroke-width="0.5"/>
<line x1="136.50" y1="334.50" x2="139.70" y2="334.50" stroke="#111" stroke-width="0.9"/>
<text x="133.40" y="337.10" font-size="6.4" fill="#2a2a2a" text-anchor="end">My <tspan fill="#8eaaa2" stroke="#8eaaa2">II</tspan></text>
<rect x="139.70" y="341.20" width="67.10" height="6.10" fill="#2d4b84" stroke="#1f3a68" stroke-width="0.5"/>
<rect x="139.70" y="341.20" width="67.10" height="6.10" fill="#b1062e" stroke="#8e0424" stroke-width="0.5"/>
<line x1="136.50" y1="344.25" x2="139.70" y2="344.25" stroke="#111" stroke-width="0.9"/>
<text x="133.40" y="346.85" font-size="6.4" fill="#2a2a2a" text-anchor="end">My <tspan fill="#a89aa2" stroke="#a89aa2">III</tspan></text>
<rect x="139.70" y="350.95" width="67.10" height="6.10" fill="#2d4b84" stroke="#1f3a68" stroke-width="0.5"/>
<rect x="139.70" y="350.95" width="67.10" height="6.10" fill="#b1062e" stroke="#8e0424" stroke-width="0.5"/>
<line x1="136.50" y1="354.00" x2="139.70" y2="354.00" stroke="#111" stroke-width="0.9"/>
<text x="133.40" y="356.60" font-size="6.4" fill="#2a2a2a" text-anchor="end">My IV</text>
<line x1="139.70" y1="288.90" x2="139.70" y2="359.50" stroke="#111" stroke-width="1.15"/>
<line x1="139.10" y1="358.90" x2="209.80" y2="358.90" stroke="#111" stroke-width="1.15"/>
<line x1="139.70" y1="358.90" x2="139.70" y2="361.90" stroke="#111" stroke-width="0.9"/>
<text x="139.70" y="369.30" font-size="6.5" fill="#2a2a2a" text-anchor="middle">0</text>
<line x1="153.12" y1="358.90" x2="153.12" y2="361.90" stroke="#111" stroke-width="0.9"/>
<text x="153.12" y="369.30" font-size="6.5" fill="#2a2a2a" text-anchor="middle">20</text>
<line x1="166.54" y1="358.90" x2="166.54" y2="361.90" stroke="#111" stroke-width="0.9"/>
<text x="166.54" y="369.30" font-size="6.5" fill="#2a2a2a" text-anchor="middle">40</text>
<line x1="179.96" y1="358.90" x2="179.96" y2="361.90" stroke="#111" stroke-width="0.9"/>
<text x="179.96" y="369.30" font-size="6.5" fill="#2a2a2a" text-anchor="middle">60</text>
<line x1="193.38" y1="358.90" x2="193.38" y2="361.90" stroke="#111" stroke-width="0.9"/>
<text x="193.38" y="369.30" font-size="6.5" fill="#2a2a2a" text-anchor="middle">80</text>
<line x1="206.80" y1="358.90" x2="206.80" y2="361.90" stroke="#111" stroke-width="0.9"/>
<text x="206.80" y="369.30" font-size="6.5" fill="#2a2a2a" text-anchor="middle">100</text>
<rect x="217.20" y="291.80" width="5.20" height="4.50" fill="#1f4b62"/>
<rect x="217.20" y="298.80" width="5.20" height="4.50" fill="#9c0c34"/>
<text x="224.00" y="296.30" font-size="6.1" fill="#2a2a2a">IL1RAP-</text>
<text x="224.00" y="303.30" font-size="6.1" fill="#2a2a2a">IL1RAP+</text>
<rect x="397.10" y="291.95" width="67.10" height="6.10" fill="#2d4b84" stroke="#1f3a68" stroke-width="0.5"/>
<rect x="397.10" y="291.95" width="18.05" height="6.10" fill="#b1062e" stroke="#8e0424" stroke-width="0.5"/>
<line x1="393.90" y1="295.00" x2="397.10" y2="295.00" stroke="#111" stroke-width="0.9"/>
<text x="390.80" y="297.60" font-size="6.4" fill="#2a2a2a" text-anchor="end">MegE</text>
<line x1="393.90" y1="304.75" x2="397.10" y2="304.75" stroke="#111" stroke-width="0.9"/>
<text x="390.80" y="307.35" font-size="6.4" fill="#2a2a2a" text-anchor="end">Ly</text>
<rect x="397.10" y="311.45" width="67.10" height="6.10" fill="#2d4b84" stroke="#1f3a68" stroke-width="0.5"/>
<rect x="397.10" y="311.45" width="9.13" height="6.10" fill="#b1062e" stroke="#8e0424" stroke-width="0.5"/>
<line x1="393.90" y1="314.50" x2="397.10" y2="314.50" stroke="#111" stroke-width="0.9"/>
<text x="390.80" y="317.10" font-size="6.4" fill="#2a2a2a" text-anchor="end">Primitive</text>
<rect x="397.10" y="321.20" width="67.10" height="6.10" fill="#2d4b84" stroke="#1f3a68" stroke-width="0.5"/>
<line x1="393.90" y1="324.25" x2="397.10" y2="324.25" stroke="#111" stroke-width="0.9"/>
<text x="390.80" y="326.85" font-size="6.4" fill="#2a2a2a" text-anchor="end">My <tspan fill="#a2a2a2" stroke="#a2a2a2">I</tspan></text>
<rect x="397.10" y="330.95" width="67.10" height="6.10" fill="#2d4b84" stroke="#1f3a68" stroke-width="0.5"/>
<rect x="397.10" y="330.95" width="45.83" height="6.10" fill="#b1062e" stroke="#8e0424" stroke-width="0.5"/>
<line x1="393.90" y1="334.00" x2="397.10" y2="334.00" stroke="#111" stroke-width="0.9"/>
<text x="390.80" y="336.60" font-size="6.4" fill="#2a2a2a" text-anchor="end">My <tspan fill="#a0a4a2" stroke="#a0a4a2">II</tspan></text>
<rect x="397.10" y="340.70" width="67.10" height="6.10" fill="#2d4b84" stroke="#1f3a68" stroke-width="0.5"/>
<rect x="397.10" y="340.70" width="51.26" height="6.10" fill="#b1062e" stroke="#8e0424" stroke-width="0.5"/>
<line x1="393.90" y1="343.75" x2="397.10" y2="343.75" stroke="#111" stroke-width="0.9"/>
<text x="390.80" y="346.35" font-size="6.4" fill="#2a2a2a" text-anchor="end">My <tspan fill="#a29ea0" stroke="#a29ea0">III</tspan></text>
<rect x="397.10" y="350.45" width="67.10" height="6.10" fill="#2d4b84" stroke="#1f3a68" stroke-width="0.5"/>
<rect x="397.10" y="350.45" width="67.10" height="6.10" fill="#b1062e" stroke="#8e0424" stroke-width="0.5"/>
<line x1="393.90" y1="353.50" x2="397.10" y2="353.50" stroke="#111" stroke-width="0.9"/>
<text x="390.80" y="356.10" font-size="6.4" fill="#2a2a2a" text-anchor="end">My <tspan fill="#747474" stroke="#747474">IV</tspan></text>
<line x1="397.10" y1="288.40" x2="397.10" y2="359.00" stroke="#111" stroke-width="1.15"/>
<line x1="396.50" y1="358.40" x2="467.20" y2="358.40" stroke="#111" stroke-width="1.15"/>
<line x1="397.10" y1="358.40" x2="397.10" y2="361.40" stroke="#111" stroke-width="0.9"/>
<text x="397.10" y="368.80" font-size="6.5" fill="#2a2a2a" text-anchor="middle">0</text>
<line x1="410.52" y1="358.40" x2="410.52" y2="361.40" stroke="#111" stroke-width="0.9"/>
<text x="410.52" y="368.80" font-size="6.5" fill="#2a2a2a" text-anchor="middle">20</text>
<line x1="423.94" y1="358.40" x2="423.94" y2="361.40" stroke="#111" stroke-width="0.9"/>
<text x="423.94" y="368.80" font-size="6.5" fill="#2a2a2a" text-anchor="middle">40</text>
<line x1="437.36" y1="358.40" x2="437.36" y2="361.40" stroke="#111" stroke-width="0.9"/>
<text x="437.36" y="368.80" font-size="6.5" fill="#2a2a2a" text-anchor="middle">60</text>
<line x1="450.78" y1="358.40" x2="450.78" y2="361.40" stroke="#111" stroke-width="0.9"/>
<text x="450.78" y="368.80" font-size="6.5" fill="#2a2a2a" text-anchor="middle">80</text>
<line x1="464.20" y1="358.40" x2="464.20" y2="361.40" stroke="#111" stroke-width="0.9"/>
<text x="464.20" y="368.80" font-size="6.5" fill="#2a2a2a" text-anchor="middle">100</text>
<rect x="474.10" y="291.80" width="5.20" height="4.50" fill="#1f4b62"/>
<rect x="474.10" y="298.80" width="5.20" height="4.50" fill="#9c0c34"/>
<text x="480.90" y="296.30" font-size="6.1" fill="#2a2a2a">IL1RAP-</text>
<text x="480.90" y="303.30" font-size="6.1" fill="#2a2a2a">IL1RAP+</text>
<rect x="139.70" y="381.95" width="67.10" height="6.10" fill="#2d4b84" stroke="#1f3a68" stroke-width="0.5"/>
<rect x="139.70" y="381.95" width="14.09" height="6.10" fill="#b1062e" stroke="#8e0424" stroke-width="0.5"/>
<line x1="136.50" y1="385.00" x2="139.70" y2="385.00" stroke="#111" stroke-width="0.9"/>
<text x="133.40" y="387.60" font-size="6.4" fill="#2a2a2a" text-anchor="end">MegE</text>
<rect x="139.70" y="391.70" width="67.10" height="6.10" fill="#2d4b84" stroke="#1f3a68" stroke-width="0.5"/>
<rect x="139.70" y="391.70" width="33.89" height="6.10" fill="#b1062e" stroke="#8e0424" stroke-width="0.5"/>
<line x1="136.50" y1="394.75" x2="139.70" y2="394.75" stroke="#111" stroke-width="0.9"/>
<text x="133.40" y="397.35" font-size="6.4" fill="#2a2a2a" text-anchor="end">Ly</text>
<rect x="139.70" y="401.45" width="67.10" height="6.10" fill="#2d4b84" stroke="#1f3a68" stroke-width="0.5"/>
<rect x="139.70" y="401.45" width="12.35" height="6.10" fill="#b1062e" stroke="#8e0424" stroke-width="0.5"/>
<line x1="136.50" y1="404.50" x2="139.70" y2="404.50" stroke="#111" stroke-width="0.9"/>
<text x="133.40" y="407.10" font-size="6.4" fill="#2a2a2a" text-anchor="end">Primitive</text>
<rect x="139.70" y="411.20" width="67.10" height="6.10" fill="#2d4b84" stroke="#1f3a68" stroke-width="0.5"/>
<rect x="139.70" y="411.20" width="13.29" height="6.10" fill="#b1062e" stroke="#8e0424" stroke-width="0.5"/>
<line x1="136.50" y1="414.25" x2="139.70" y2="414.25" stroke="#111" stroke-width="0.9"/>
<text x="133.40" y="416.85" font-size="6.4" fill="#2a2a2a" text-anchor="end">My <tspan fill="#a89a9c" stroke="#a89a9c">I</tspan></text>
<rect x="139.70" y="420.95" width="67.10" height="6.10" fill="#2d4b84" stroke="#1f3a68" stroke-width="0.5"/>
<rect x="139.70" y="420.95" width="18.52" height="6.10" fill="#b1062e" stroke="#8e0424" stroke-width="0.5"/>
<line x1="136.50" y1="424.00" x2="139.70" y2="424.00" stroke="#111" stroke-width="0.9"/>
<text x="133.40" y="426.60" font-size="6.4" fill="#2a2a2a" text-anchor="end">My <tspan fill="#8eaaa2" stroke="#8eaaa2">II</tspan></text>
<rect x="139.70" y="430.70" width="67.10" height="6.10" fill="#2d4b84" stroke="#1f3a68" stroke-width="0.5"/>
<rect x="139.70" y="430.70" width="18.99" height="6.10" fill="#b1062e" stroke="#8e0424" stroke-width="0.5"/>
<line x1="136.50" y1="433.75" x2="139.70" y2="433.75" stroke="#111" stroke-width="0.9"/>
<text x="133.40" y="436.35" font-size="6.4" fill="#2a2a2a" text-anchor="end">My <tspan fill="#a89aa2" stroke="#a89aa2">III</tspan></text>
<rect x="139.70" y="440.45" width="67.10" height="6.10" fill="#2d4b84" stroke="#1f3a68" stroke-width="0.5"/>
<rect x="139.70" y="440.45" width="47.51" height="6.10" fill="#b1062e" stroke="#8e0424" stroke-width="0.5"/>
<line x1="136.50" y1="443.50" x2="139.70" y2="443.50" stroke="#111" stroke-width="0.9"/>
<text x="133.40" y="446.10" font-size="6.4" fill="#2a2a2a" text-anchor="end">My IV</text>
<line x1="139.70" y1="378.40" x2="139.70" y2="449.00" stroke="#111" stroke-width="1.15"/>
<line x1="139.10" y1="448.40" x2="209.80" y2="448.40" stroke="#111" stroke-width="1.15"/>
<line x1="139.70" y1="448.40" x2="139.70" y2="451.40" stroke="#111" stroke-width="0.9"/>
<text x="139.70" y="458.80" font-size="6.5" fill="#2a2a2a" text-anchor="middle">0</text>
<line x1="153.12" y1="448.40" x2="153.12" y2="451.40" stroke="#111" stroke-width="0.9"/>
<text x="153.12" y="458.80" font-size="6.5" fill="#2a2a2a" text-anchor="middle">20</text>
<line x1="166.54" y1="448.40" x2="166.54" y2="451.40" stroke="#111" stroke-width="0.9"/>
<text x="166.54" y="458.80" font-size="6.5" fill="#2a2a2a" text-anchor="middle">40</text>
<line x1="179.96" y1="448.40" x2="179.96" y2="451.40" stroke="#111" stroke-width="0.9"/>
<text x="179.96" y="458.80" font-size="6.5" fill="#2a2a2a" text-anchor="middle">60</text>
<line x1="193.38" y1="448.40" x2="193.38" y2="451.40" stroke="#111" stroke-width="0.9"/>
<text x="193.38" y="458.80" font-size="6.5" fill="#2a2a2a" text-anchor="middle">80</text>
<line x1="206.80" y1="448.40" x2="206.80" y2="451.40" stroke="#111" stroke-width="0.9"/>
<text x="206.80" y="458.80" font-size="6.5" fill="#2a2a2a" text-anchor="middle">100</text>
<rect x="217.20" y="381.30" width="5.20" height="4.50" fill="#1f4b62"/>
<rect x="217.20" y="388.30" width="5.20" height="4.50" fill="#9c0c34"/>
<text x="224.00" y="385.80" font-size="6.1" fill="#2a2a2a">cKit-</text>
<text x="224.00" y="392.80" font-size="6.1" fill="#2a2a2a">cKit+</text>
<rect x="397.10" y="381.85" width="67.10" height="6.10" fill="#2d4b84" stroke="#1f3a68" stroke-width="0.5"/>
<rect x="397.10" y="381.85" width="51.26" height="6.10" fill="#b1062e" stroke="#8e0424" stroke-width="0.5"/>
<line x1="393.90" y1="384.90" x2="397.10" y2="384.90" stroke="#111" stroke-width="0.9"/>
<text x="390.80" y="387.50" font-size="6.4" fill="#2a2a2a" text-anchor="end">MegE</text>
<line x1="393.90" y1="394.65" x2="397.10" y2="394.65" stroke="#111" stroke-width="0.9"/>
<text x="390.80" y="397.25" font-size="6.4" fill="#2a2a2a" text-anchor="end">Ly</text>
<rect x="397.10" y="401.35" width="67.10" height="6.10" fill="#2d4b84" stroke="#1f3a68" stroke-width="0.5"/>
<line x1="393.90" y1="404.40" x2="397.10" y2="404.40" stroke="#111" stroke-width="0.9"/>
<text x="390.80" y="407.00" font-size="6.4" fill="#2a2a2a" text-anchor="end">Primitive</text>
<rect x="397.10" y="411.10" width="67.10" height="6.10" fill="#2d4b84" stroke="#1f3a68" stroke-width="0.5"/>
<rect x="397.10" y="411.10" width="45.83" height="6.10" fill="#b1062e" stroke="#8e0424" stroke-width="0.5"/>
<line x1="393.90" y1="414.15" x2="397.10" y2="414.15" stroke="#111" stroke-width="0.9"/>
<text x="390.80" y="416.75" font-size="6.4" fill="#2a2a2a" text-anchor="end">My <tspan fill="#a2a2a2" stroke="#a2a2a2">I</tspan></text>
<rect x="397.10" y="420.85" width="67.10" height="6.10" fill="#2d4b84" stroke="#1f3a68" stroke-width="0.5"/>
<rect x="397.10" y="420.85" width="45.83" height="6.10" fill="#b1062e" stroke="#8e0424" stroke-width="0.5"/>
<line x1="393.90" y1="423.90" x2="397.10" y2="423.90" stroke="#111" stroke-width="0.9"/>
<text x="390.80" y="426.50" font-size="6.4" fill="#2a2a2a" text-anchor="end">My <tspan fill="#a0a4a2" stroke="#a0a4a2">II</tspan></text>
<rect x="397.10" y="430.60" width="67.10" height="6.10" fill="#2d4b84" stroke="#1f3a68" stroke-width="0.5"/>
<rect x="397.10" y="430.60" width="35.29" height="6.10" fill="#b1062e" stroke="#8e0424" stroke-width="0.5"/>
<line x1="393.90" y1="433.65" x2="397.10" y2="433.65" stroke="#111" stroke-width="0.9"/>
<text x="390.80" y="436.25" font-size="6.4" fill="#2a2a2a" text-anchor="end">My <tspan fill="#a29ea0" stroke="#a29ea0">III</tspan></text>
<rect x="397.10" y="440.35" width="67.10" height="6.10" fill="#2d4b84" stroke="#1f3a68" stroke-width="0.5"/>
<rect x="397.10" y="440.35" width="51.26" height="6.10" fill="#b1062e" stroke="#8e0424" stroke-width="0.5"/>
<line x1="393.90" y1="443.40" x2="397.10" y2="443.40" stroke="#111" stroke-width="0.9"/>
<text x="390.80" y="446.00" font-size="6.4" fill="#2a2a2a" text-anchor="end">My <tspan fill="#747474" stroke="#747474">IV</tspan></text>
<line x1="397.10" y1="378.30" x2="397.10" y2="448.90" stroke="#111" stroke-width="1.15"/>
<line x1="396.50" y1="448.30" x2="467.20" y2="448.30" stroke="#111" stroke-width="1.15"/>
<line x1="397.10" y1="448.30" x2="397.10" y2="451.30" stroke="#111" stroke-width="0.9"/>
<text x="397.10" y="458.70" font-size="6.5" fill="#2a2a2a" text-anchor="middle">0</text>
<line x1="410.52" y1="448.30" x2="410.52" y2="451.30" stroke="#111" stroke-width="0.9"/>
<text x="410.52" y="458.70" font-size="6.5" fill="#2a2a2a" text-anchor="middle">20</text>
<line x1="423.94" y1="448.30" x2="423.94" y2="451.30" stroke="#111" stroke-width="0.9"/>
<text x="423.94" y="458.70" font-size="6.5" fill="#2a2a2a" text-anchor="middle">40</text>
<line x1="437.36" y1="448.30" x2="437.36" y2="451.30" stroke="#111" stroke-width="0.9"/>
<text x="437.36" y="458.70" font-size="6.5" fill="#2a2a2a" text-anchor="middle">60</text>
<line x1="450.78" y1="448.30" x2="450.78" y2="451.30" stroke="#111" stroke-width="0.9"/>
<text x="450.78" y="458.70" font-size="6.5" fill="#2a2a2a" text-anchor="middle">80</text>
<line x1="464.20" y1="448.30" x2="464.20" y2="451.30" stroke="#111" stroke-width="0.9"/>
<text x="464.20" y="458.70" font-size="6.5" fill="#2a2a2a" text-anchor="middle">100</text>
<rect x="474.10" y="381.30" width="5.20" height="4.50" fill="#1f4b62"/>
<rect x="474.10" y="388.30" width="5.20" height="4.50" fill="#9c0c34"/>
<text x="480.90" y="385.80" font-size="6.1" fill="#2a2a2a">cKit-</text>
<text x="480.90" y="392.80" font-size="6.1" fill="#2a2a2a">cKit+</text>
<rect x="139.70" y="471.85" width="67.10" height="6.10" fill="#2d4b84" stroke="#1f3a68" stroke-width="0.5"/>
<rect x="139.70" y="471.85" width="12.35" height="6.10" fill="#b1062e" stroke="#8e0424" stroke-width="0.5"/>
<line x1="136.50" y1="474.90" x2="139.70" y2="474.90" stroke="#111" stroke-width="0.9"/>
<text x="133.40" y="477.50" font-size="6.4" fill="#2a2a2a" text-anchor="end">MegE</text>
<rect x="139.70" y="481.60" width="67.10" height="6.10" fill="#2d4b84" stroke="#1f3a68" stroke-width="0.5"/>
<rect x="139.70" y="481.60" width="33.89" height="6.10" fill="#b1062e" stroke="#8e0424" stroke-width="0.5"/>
<line x1="136.50" y1="484.65" x2="139.70" y2="484.65" stroke="#111" stroke-width="0.9"/>
<text x="133.40" y="487.25" font-size="6.4" fill="#2a2a2a" text-anchor="end">Ly</text>
<rect x="139.70" y="491.35" width="67.10" height="6.10" fill="#2d4b84" stroke="#1f3a68" stroke-width="0.5"/>
<rect x="139.70" y="491.35" width="36.70" height="6.10" fill="#b1062e" stroke="#8e0424" stroke-width="0.5"/>
<line x1="136.50" y1="494.40" x2="139.70" y2="494.40" stroke="#111" stroke-width="0.9"/>
<text x="133.40" y="497.00" font-size="6.4" fill="#2a2a2a" text-anchor="end">Primitive</text>
<rect x="139.70" y="501.10" width="67.10" height="6.10" fill="#2d4b84" stroke="#1f3a68" stroke-width="0.5"/>
<rect x="139.70" y="501.10" width="42.14" height="6.10" fill="#b1062e" stroke="#8e0424" stroke-width="0.5"/>
<line x1="136.50" y1="504.15" x2="139.70" y2="504.15" stroke="#111" stroke-width="0.9"/>
<text x="133.40" y="506.75" font-size="6.4" fill="#2a2a2a" text-anchor="end">My <tspan fill="#a89a9c" stroke="#a89a9c">I</tspan></text>
<rect x="139.70" y="510.85" width="67.10" height="6.10" fill="#2d4b84" stroke="#1f3a68" stroke-width="0.5"/>
<rect x="139.70" y="510.85" width="41.60" height="6.10" fill="#b1062e" stroke="#8e0424" stroke-width="0.5"/>
<line x1="136.50" y1="513.90" x2="139.70" y2="513.90" stroke="#111" stroke-width="0.9"/>
<text x="133.40" y="516.50" font-size="6.4" fill="#2a2a2a" text-anchor="end">My <tspan fill="#8eaaa2" stroke="#8eaaa2">II</tspan></text>
<rect x="139.70" y="520.60" width="67.10" height="6.10" fill="#2d4b84" stroke="#1f3a68" stroke-width="0.5"/>
<rect x="139.70" y="520.60" width="47.17" height="6.10" fill="#b1062e" stroke="#8e0424" stroke-width="0.5"/>
<line x1="136.50" y1="523.65" x2="139.70" y2="523.65" stroke="#111" stroke-width="0.9"/>
<text x="133.40" y="526.25" font-size="6.4" fill="#2a2a2a" text-anchor="end">My <tspan fill="#a89aa2" stroke="#a89aa2">III</tspan></text>
<rect x="139.70" y="530.35" width="67.10" height="6.10" fill="#2d4b84" stroke="#1f3a68" stroke-width="0.5"/>
<rect x="139.70" y="530.35" width="47.51" height="6.10" fill="#b1062e" stroke="#8e0424" stroke-width="0.5"/>
<line x1="136.50" y1="533.40" x2="139.70" y2="533.40" stroke="#111" stroke-width="0.9"/>
<text x="133.40" y="536.00" font-size="6.4" fill="#2a2a2a" text-anchor="end">My IV</text>
<line x1="139.70" y1="468.30" x2="139.70" y2="538.90" stroke="#111" stroke-width="1.15"/>
<line x1="139.10" y1="538.30" x2="209.80" y2="538.30" stroke="#111" stroke-width="1.15"/>
<line x1="139.70" y1="538.30" x2="139.70" y2="541.30" stroke="#111" stroke-width="0.9"/>
<text x="139.70" y="548.70" font-size="6.5" fill="#2a2a2a" text-anchor="middle">0</text>
<line x1="153.12" y1="538.30" x2="153.12" y2="541.30" stroke="#111" stroke-width="0.9"/>
<text x="153.12" y="548.70" font-size="6.5" fill="#2a2a2a" text-anchor="middle">20</text>
<line x1="166.54" y1="538.30" x2="166.54" y2="541.30" stroke="#111" stroke-width="0.9"/>
<text x="166.54" y="548.70" font-size="6.5" fill="#2a2a2a" text-anchor="middle">40</text>
<line x1="179.96" y1="538.30" x2="179.96" y2="541.30" stroke="#111" stroke-width="0.9"/>
<text x="179.96" y="548.70" font-size="6.5" fill="#2a2a2a" text-anchor="middle">60</text>
<line x1="193.38" y1="538.30" x2="193.38" y2="541.30" stroke="#111" stroke-width="0.9"/>
<text x="193.38" y="548.70" font-size="6.5" fill="#2a2a2a" text-anchor="middle">80</text>
<line x1="206.80" y1="538.30" x2="206.80" y2="541.30" stroke="#111" stroke-width="0.9"/>
<text x="206.80" y="548.70" font-size="6.5" fill="#2a2a2a" text-anchor="middle">100</text>
<rect x="217.20" y="471.20" width="5.20" height="4.50" fill="#1f4b62"/>
<rect x="217.20" y="478.20" width="5.20" height="4.50" fill="#9c0c34"/>
<text x="224.00" y="475.70" font-size="6.1" fill="#2a2a2a">CD25-</text>
<text x="224.00" y="482.70" font-size="6.1" fill="#2a2a2a">CD25+</text>
<rect x="397.10" y="472.95" width="67.10" height="6.10" fill="#2d4b84" stroke="#1f3a68" stroke-width="0.5"/>
<line x1="393.90" y1="476.00" x2="397.10" y2="476.00" stroke="#111" stroke-width="0.9"/>
<text x="390.80" y="478.60" font-size="6.4" fill="#2a2a2a" text-anchor="end">MegE</text>
<line x1="393.90" y1="485.75" x2="397.10" y2="485.75" stroke="#111" stroke-width="0.9"/>
<text x="390.80" y="488.35" font-size="6.4" fill="#2a2a2a" text-anchor="end">Ly</text>
<rect x="397.10" y="492.45" width="67.10" height="6.10" fill="#2d4b84" stroke="#1f3a68" stroke-width="0.5"/>
<line x1="393.90" y1="495.50" x2="397.10" y2="495.50" stroke="#111" stroke-width="0.9"/>
<text x="390.80" y="498.10" font-size="6.4" fill="#2a2a2a" text-anchor="end">Primitive</text>
<rect x="397.10" y="502.20" width="67.10" height="6.10" fill="#2d4b84" stroke="#1f3a68" stroke-width="0.5"/>
<line x1="393.90" y1="505.25" x2="397.10" y2="505.25" stroke="#111" stroke-width="0.9"/>
<text x="390.80" y="507.85" font-size="6.4" fill="#2a2a2a" text-anchor="end">My <tspan fill="#a2a2a2" stroke="#a2a2a2">I</tspan></text>
<rect x="397.10" y="511.95" width="67.10" height="6.10" fill="#2d4b84" stroke="#1f3a68" stroke-width="0.5"/>
<rect x="397.10" y="511.95" width="22.55" height="6.10" fill="#b1062e" stroke="#8e0424" stroke-width="0.5"/>
<line x1="393.90" y1="515.00" x2="397.10" y2="515.00" stroke="#111" stroke-width="0.9"/>
<text x="390.80" y="517.60" font-size="6.4" fill="#2a2a2a" text-anchor="end">My <tspan fill="#a0a4a2" stroke="#a0a4a2">II</tspan></text>
<rect x="397.10" y="521.70" width="67.10" height="6.10" fill="#2d4b84" stroke="#1f3a68" stroke-width="0.5"/>
<line x1="393.90" y1="524.75" x2="397.10" y2="524.75" stroke="#111" stroke-width="0.9"/>
<text x="390.80" y="527.35" font-size="6.4" fill="#2a2a2a" text-anchor="end">My <tspan fill="#a29ea0" stroke="#a29ea0">III</tspan></text>
<rect x="397.10" y="531.45" width="67.10" height="6.10" fill="#2d4b84" stroke="#1f3a68" stroke-width="0.5"/>
<line x1="393.90" y1="534.50" x2="397.10" y2="534.50" stroke="#111" stroke-width="0.9"/>
<text x="390.80" y="537.10" font-size="6.4" fill="#2a2a2a" text-anchor="end">My <tspan fill="#747474" stroke="#747474">IV</tspan></text>
<line x1="397.10" y1="469.40" x2="397.10" y2="540.00" stroke="#111" stroke-width="1.15"/>
<line x1="396.50" y1="539.40" x2="467.20" y2="539.40" stroke="#111" stroke-width="1.15"/>
<line x1="397.10" y1="539.40" x2="397.10" y2="542.40" stroke="#111" stroke-width="0.9"/>
<text x="397.10" y="549.80" font-size="6.5" fill="#2a2a2a" text-anchor="middle">0</text>
<line x1="410.52" y1="539.40" x2="410.52" y2="542.40" stroke="#111" stroke-width="0.9"/>
<text x="410.52" y="549.80" font-size="6.5" fill="#2a2a2a" text-anchor="middle">20</text>
<line x1="423.94" y1="539.40" x2="423.94" y2="542.40" stroke="#111" stroke-width="0.9"/>
<text x="423.94" y="549.80" font-size="6.5" fill="#2a2a2a" text-anchor="middle">40</text>
<line x1="437.36" y1="539.40" x2="437.36" y2="542.40" stroke="#111" stroke-width="0.9"/>
<text x="437.36" y="549.80" font-size="6.5" fill="#2a2a2a" text-anchor="middle">60</text>
<line x1="450.78" y1="539.40" x2="450.78" y2="542.40" stroke="#111" stroke-width="0.9"/>
<text x="450.78" y="549.80" font-size="6.5" fill="#2a2a2a" text-anchor="middle">80</text>
<line x1="464.20" y1="539.40" x2="464.20" y2="542.40" stroke="#111" stroke-width="0.9"/>
<text x="464.20" y="549.80" font-size="6.5" fill="#2a2a2a" text-anchor="middle">100</text>
<rect x="474.10" y="471.20" width="5.20" height="4.50" fill="#1f4b62"/>
<rect x="474.10" y="478.20" width="5.20" height="4.50" fill="#9c0c34"/>
<text x="480.90" y="475.70" font-size="6.1" fill="#2a2a2a">CD25-</text>
<text x="480.90" y="482.70" font-size="6.1" fill="#2a2a2a">CD25+</text>
<text x="27.80" y="589.80" font-size="8.8" fill="#2a2a2a" textLength="66.5" lengthAdjust="spacingAndGlyphs">Lin-CD34+CD38-</text>
<rect x="27.60" y="593.10" width="66.60" height="66.30" fill="none" stroke="#3c3c3c" stroke-width="1.1"/>
<rect x="28.60" y="594.60" width="17.60" height="63.00" fill="none" stroke="#3c3c3c" stroke-width="1.1"/>
<rect x="39.4" y="600.1" width="1.4" height="1.4" fill="#a0a0a0"/>
<rect x="48.2" y="606.8" width="1.4" height="1.4" fill="#a8a8a8"/>
<rect x="37.8" y="617.3" width="1.4" height="1.4" fill="#b0b0b0"/>
<rect x="38.8" y="622.3" width="1.4" height="1.4" fill="#909090"/>
<rect x="39.8" y="628.3" width="1.4" height="1.4" fill="#202050"/>
<rect x="38.3" y="632.3" width="1.4" height="1.4" fill="#a0a0a0"/>
<rect x="39.8" y="636.3" width="1.4" height="1.4" fill="#303060"/>
<rect x="40.8" y="625.3" width="1.4" height="1.4" fill="#c0c0c0"/>
<path d="M38.2 639.3h1.3v1.3h-1.3zM37.3 640.3h1.3v1.3h-1.3z" fill="#b08060"/>
<path d="M39.5 640.9h1.3v1.3h-1.3zM37.0 641.6h1.3v1.3h-1.3zM41.5 642.0h1.3v1.3h-1.3z" fill="#d09060"/>
<path d="M34.5 641.8h1.3v1.3h-1.3zM36.6 641.5h1.3v1.3h-1.3zM37.1 642.4h1.3v1.3h-1.3z" fill="#c88850"/>
<path d="M54.1 638.1h1.3v1.3h-1.3z" fill="#aaaaaa"/>
<path d="M50.7 638.0h1.3v1.3h-1.3zM51.6 640.0h1.3v1.3h-1.3zM52.4 640.3h1.3v1.3h-1.3z" fill="#333333"/>
<path d="M52.8 644.6h1.3v1.3h-1.3zM52.3 640.6h1.3v1.3h-1.3zM50.0 640.6h1.3v1.3h-1.3zM51.6 641.8h1.3v1.3h-1.3zM57.5 635.6h1.3v1.3h-1.3z" fill="#202040"/>
<path d="M50.6 638.6h1.3v1.3h-1.3z" fill="#555555"/>
<path d="M54.1 641.1h1.3v1.3h-1.3zM48.1 635.8h1.3v1.3h-1.3zM48.6 641.7h1.3v1.3h-1.3z" fill="#888888"/>
<path d="M54.1 638.1h1.3v1.3h-1.3zM54.6 639.7h1.3v1.3h-1.3zM48.1 638.2h1.3v1.3h-1.3z" fill="#bbbbbb"/>
<path d="M46.4 649.2 H63" stroke="#222" stroke-width="0.9"/><path d="M65.6 649.2 L62.6 647.8 L62.6 650.6 Z" fill="#222"/>
<path d="M22.10 653.60 V665.30 H33.00" fill="none" stroke="#262626" stroke-width="1.2"/>
<path d="M22.10 650.60 L20.65 654.30 L23.55 654.30 Z" fill="#262626"/>
<path d="M36.00 665.30 L32.30 663.85 L32.30 666.75 Z" fill="#262626"/>
<text x="38.40" y="668.00" font-size="9.9" fill="#2a2a2a" textLength="29.0" lengthAdjust="spacingAndGlyphs">CD45RA</text>
<text x="26.00" y="647.60" font-size="9.9" fill="#2a2a2a" textLength="17.5" lengthAdjust="spacingAndGlyphs" transform="rotate(-90 26.00 647.60)">CD90</text>
<rect x="108.70" y="593.10" width="67.80" height="66.10" fill="none" stroke="#3c3c3c" stroke-width="1.1"/>
<rect x="110.20" y="636.30" width="64.40" height="22.20" fill="none" stroke="#3c3c3c" stroke-width="1.1"/>
<path d="M143.0 625.1h1.3v1.3h-1.3zM144.5 625.1h1.3v1.3h-1.3z" fill="#999999"/>
<path d="M140.1 627.1h1.3v1.3h-1.3zM150.9 627.8h1.3v1.3h-1.3z" fill="#b0b0b0"/>
<path d="M147.7 627.4h1.3v1.3h-1.3zM136.7 630.4h1.3v1.3h-1.3zM150.6 619.2h1.3v1.3h-1.3zM146.8 623.4h1.3v1.3h-1.3z" fill="#c0c0c0"/>
<path d="M152.8 630.2h1.3v1.3h-1.3zM147.1 621.8h1.3v1.3h-1.3zM148.3 627.3h1.3v1.3h-1.3zM142.8 620.8h1.3v1.3h-1.3z" fill="#707070"/>
<rect x="137.8" y="633.8" width="1.4" height="1.4" fill="#404070"/>
<rect x="140.3" y="635.8" width="1.4" height="1.4" fill="#303060"/>
<rect x="144.1" y="640.3" width="1.4" height="1.4" fill="#202020"/>
<rect x="150.8" y="641.3" width="1.4" height="1.4" fill="#202050"/>
<rect x="143.3" y="636.8" width="1.4" height="1.4" fill="#606080"/>
<path d="M132.9 645.5h1.3v1.3h-1.3zM118.3 655.2h1.3v1.3h-1.3zM129.2 647.1h1.3v1.3h-1.3zM121.7 642.6h1.3v1.3h-1.3zM135.1 647.3h1.3v1.3h-1.3z" fill="#c89060"/>
<path d="M131.2 651.7h1.3v1.3h-1.3zM134.8 643.3h1.3v1.3h-1.3z" fill="#d8a070"/>
<path d="M123.0 648.3h1.3v1.3h-1.3z" fill="#d0a888"/>
<path d="M122.9 650.6h1.3v1.3h-1.3zM129.7 647.0h1.3v1.3h-1.3z" fill="#e0b080"/>
<path d="M163.2 648.8 H181.6" stroke="#222" stroke-width="0.9"/><path d="M184.2 648.8 L181.2 647.4 L181.2 650.2 Z" fill="#222"/>
<path d="M103.10 653.90 V664.70 H114.00" fill="none" stroke="#262626" stroke-width="1.2"/>
<path d="M103.10 650.90 L101.65 654.60 L104.55 654.60 Z" fill="#262626"/>
<path d="M117.00 664.70 L113.30 663.25 L113.30 666.15 Z" fill="#262626"/>
<text x="119.80" y="667.40" font-size="9.9" fill="#2a2a2a" textLength="21.2" lengthAdjust="spacingAndGlyphs">FSC-A</text>
<text x="106.40" y="648.30" font-size="9.9" fill="#2a2a2a" textLength="13.4" lengthAdjust="spacingAndGlyphs" transform="rotate(-90 106.40 648.30)">cKIT</text>
<rect x="197.70" y="593.10" width="66.90" height="66.10" fill="none" stroke="#3c3c3c" stroke-width="1.1"/>
<rect x="199.20" y="594.40" width="63.50" height="45.80" fill="none" stroke="#3c3c3c" stroke-width="1.1"/>
<rect x="213.9" y="603.3" width="1.4" height="1.4" fill="#b09080"/>
<rect x="206.3" y="621.6" width="1.4" height="1.4" fill="#d0a080"/>
<rect x="209.1" y="628.3" width="1.4" height="1.4" fill="#d8a878"/>
<rect x="202.3" y="632.3" width="1.4" height="1.4" fill="#c8a080"/>
<rect x="205.3" y="637.0" width="1.4" height="1.4" fill="#d0a070"/>
<rect x="212.0" y="637.0" width="1.4" height="1.4" fill="#c89868"/>
<rect x="216.8" y="642.8" width="1.4" height="1.4" fill="#303060"/>
<rect x="213.9" y="647.6" width="1.4" height="1.4" fill="#202040"/>
<rect x="218.7" y="645.6" width="1.4" height="1.4" fill="#404070"/>
<rect x="208.1" y="647.6" width="1.4" height="1.4" fill="#a0a0a0"/>
<rect x="220.3" y="641.8" width="1.4" height="1.4" fill="#9090b0"/>
<path d="M192.50 653.90 V664.70 H203.40" fill="none" stroke="#262626" stroke-width="1.2"/>
<path d="M192.50 650.90 L191.05 654.60 L193.95 654.60 Z" fill="#262626"/>
<path d="M206.40 664.70 L202.70 663.25 L202.70 666.15 Z" fill="#262626"/>
<text x="208.80" y="667.40" font-size="9.9" fill="#2a2a2a" textLength="21.2" lengthAdjust="spacingAndGlyphs">FSC-A</text>
<text x="194.60" y="647.30" font-size="9.9" fill="#2a2a2a" textLength="17.3" lengthAdjust="spacingAndGlyphs" transform="rotate(-90 194.60 647.30)">CD26</text>
<rect x="336.20" y="587.30" width="4.00" height="4.00" fill="#6aa83e"/>
<text x="342.80" y="591.60" font-size="6.0" fill="#2a2a2a" textLength="26.2" lengthAdjust="spacingAndGlyphs">BCR-ABL</text>
<text x="369.40" y="588.00" font-size="3.4" fill="#2a2a2a" textLength="6.2" lengthAdjust="spacingAndGlyphs">pos</text>
<rect x="382.40" y="587.30" width="4.50" height="4.20" fill="#4a1c5e"/>
<text x="388.90" y="591.60" font-size="6.0" fill="#2a2a2a" textLength="25.7" lengthAdjust="spacingAndGlyphs">BCR-ABL</text>
<text x="415.00" y="588.00" font-size="3.4" fill="#2a2a2a" textLength="6.2" lengthAdjust="spacingAndGlyphs">pos</text>
<text x="423.80" y="591.60" font-size="5.9" fill="#2a2a2a" textLength="26.2" lengthAdjust="spacingAndGlyphs">(Primitive)</text>
<rect x="305.10" y="605.40" width="4.70" height="47.60" fill="#6aa83e"/>
<rect x="311.90" y="605.40" width="4.70" height="47.60" fill="#4a1c5e"/>
<line x1="311.00" y1="653.00" x2="311.00" y2="656.30" stroke="#222" stroke-width="0.8"/>
<rect x="322.60" y="610.16" width="4.70" height="42.84" fill="#6aa83e"/>
<rect x="329.40" y="605.40" width="4.70" height="47.60" fill="#4a1c5e"/>
<line x1="328.50" y1="653.00" x2="328.50" y2="656.30" stroke="#222" stroke-width="0.8"/>
<rect x="340.10" y="627.30" width="4.70" height="25.70" fill="#6aa83e"/>
<rect x="346.90" y="605.40" width="4.70" height="47.60" fill="#4a1c5e"/>
<line x1="346.00" y1="653.00" x2="346.00" y2="656.30" stroke="#222" stroke-width="0.8"/>
<rect x="357.60" y="641.58" width="4.70" height="11.42" fill="#6aa83e"/>
<rect x="364.40" y="616.82" width="4.70" height="36.18" fill="#4a1c5e"/>
<line x1="363.50" y1="653.00" x2="363.50" y2="656.30" stroke="#222" stroke-width="0.8"/>
<line x1="302.60" y1="602.50" x2="302.60" y2="653.60" stroke="#111" stroke-width="1.2"/>
<line x1="302.00" y1="653.00" x2="373.10" y2="653.00" stroke="#111" stroke-width="1.2"/>
<line x1="299.40" y1="653.00" x2="302.60" y2="653.00" stroke="#222" stroke-width="0.8"/>
<text x="296.00" y="655.00" font-size="5.7" fill="#2a2a2a" text-anchor="end">0</text>
<line x1="299.40" y1="643.48" x2="302.60" y2="643.48" stroke="#222" stroke-width="0.8"/>
<text x="296.00" y="645.48" font-size="5.7" fill="#2a2a2a" text-anchor="end">20</text>
<line x1="299.40" y1="633.96" x2="302.60" y2="633.96" stroke="#222" stroke-width="0.8"/>
<text x="296.00" y="635.96" font-size="5.7" fill="#2a2a2a" text-anchor="end">40</text>
<line x1="299.40" y1="624.44" x2="302.60" y2="624.44" stroke="#222" stroke-width="0.8"/>
<text x="296.00" y="626.44" font-size="5.7" fill="#2a2a2a" text-anchor="end">60</text>
<line x1="299.40" y1="614.92" x2="302.60" y2="614.92" stroke="#222" stroke-width="0.8"/>
<text x="296.00" y="616.92" font-size="5.7" fill="#2a2a2a" text-anchor="end">80</text>
<line x1="299.40" y1="605.40" x2="302.60" y2="605.40" stroke="#222" stroke-width="0.8"/>
<text x="296.00" y="607.40" font-size="5.7" fill="#2a2a2a" text-anchor="end">100</text>
<text x="284.20" y="642.40" font-size="8.6" fill="#2a2a2a" textLength="30.6" lengthAdjust="spacingAndGlyphs" transform="rotate(-90 284.20 642.40)">Yield (%)</text>
<text x="314.60" y="661.20" font-size="6.5" fill="#2a2a2a" text-anchor="end" transform="rotate(-45 314.60 661.20)">-</text>
<text x="332.10" y="661.20" font-size="6.5" fill="#2a2a2a" text-anchor="end" transform="rotate(-45 332.10 661.20)">CD45RA-</text>
<text x="349.60" y="661.20" font-size="6.5" fill="#2a2a2a" text-anchor="end" transform="rotate(-45 349.60 661.20)">CD45RA-cKIT-</text>
<text x="367.10" y="661.20" font-size="6.5" fill="#2a2a2a" text-anchor="end" transform="rotate(-45 367.10 661.20)">CD45RA-cKIT-CD26+</text>
<rect x="416.80" y="646.81" width="4.70" height="6.19" fill="#6aa83e"/>
<rect x="423.60" y="651.10" width="4.70" height="1.90" fill="#4a1c5e"/>
<line x1="422.70" y1="653.00" x2="422.70" y2="656.30" stroke="#222" stroke-width="0.8"/>
<rect x="434.30" y="638.72" width="4.70" height="14.28" fill="#6aa83e"/>
<rect x="441.10" y="648.24" width="4.70" height="4.76" fill="#4a1c5e"/>
<line x1="440.20" y1="653.00" x2="440.20" y2="656.30" stroke="#222" stroke-width="0.8"/>
<rect x="451.80" y="628.72" width="4.70" height="24.28" fill="#6aa83e"/>
<rect x="458.60" y="640.62" width="4.70" height="12.38" fill="#4a1c5e"/>
<line x1="457.70" y1="653.00" x2="457.70" y2="656.30" stroke="#222" stroke-width="0.8"/>
<rect x="469.30" y="633.96" width="4.70" height="19.04" fill="#6aa83e"/>
<rect x="476.10" y="636.82" width="4.70" height="16.18" fill="#4a1c5e"/>
<line x1="475.20" y1="653.00" x2="475.20" y2="656.30" stroke="#222" stroke-width="0.8"/>
<line x1="414.30" y1="602.50" x2="414.30" y2="653.60" stroke="#111" stroke-width="1.2"/>
<line x1="413.70" y1="653.00" x2="484.80" y2="653.00" stroke="#111" stroke-width="1.2"/>
<line x1="411.10" y1="653.00" x2="414.30" y2="653.00" stroke="#222" stroke-width="0.8"/>
<text x="407.70" y="655.00" font-size="5.7" fill="#2a2a2a" text-anchor="end">0</text>
<line x1="411.10" y1="643.48" x2="414.30" y2="643.48" stroke="#222" stroke-width="0.8"/>
<text x="407.70" y="645.48" font-size="5.7" fill="#2a2a2a" text-anchor="end">20</text>
<line x1="411.10" y1="633.96" x2="414.30" y2="633.96" stroke="#222" stroke-width="0.8"/>
<text x="407.70" y="635.96" font-size="5.7" fill="#2a2a2a" text-anchor="end">40</text>
<line x1="411.10" y1="624.44" x2="414.30" y2="624.44" stroke="#222" stroke-width="0.8"/>
<text x="407.70" y="626.44" font-size="5.7" fill="#2a2a2a" text-anchor="end">60</text>
<line x1="411.10" y1="614.92" x2="414.30" y2="614.92" stroke="#222" stroke-width="0.8"/>
<text x="407.70" y="616.92" font-size="5.7" fill="#2a2a2a" text-anchor="end">80</text>
<line x1="411.10" y1="605.40" x2="414.30" y2="605.40" stroke="#222" stroke-width="0.8"/>
<text x="407.70" y="607.40" font-size="5.7" fill="#2a2a2a" text-anchor="end">100</text>
<text x="395.60" y="644.60" font-size="8.6" fill="#2a2a2a" textLength="34.3" lengthAdjust="spacingAndGlyphs" transform="rotate(-90 395.60 644.60)">Purity (%)</text>
<text x="426.30" y="661.20" font-size="6.5" fill="#2a2a2a" text-anchor="end" transform="rotate(-45 426.30 661.20)">-</text>
<text x="443.80" y="661.20" font-size="6.5" fill="#2a2a2a" text-anchor="end" transform="rotate(-45 443.80 661.20)">CD45RA-</text>
<text x="461.30" y="661.20" font-size="6.5" fill="#2a2a2a" text-anchor="end" transform="rotate(-45 461.30 661.20)">CD45RA-cKIT-</text>
<text x="478.80" y="661.20" font-size="6.5" fill="#2a2a2a" text-anchor="end" transform="rotate(-45 478.80 661.20)">CD45RA-cKIT-CD26+</text>
<rect x="0.65" y="0.65" width="518.80" height="711.70" fill="none" stroke="#000" stroke-width="1.4"/>
</svg></body></html>
